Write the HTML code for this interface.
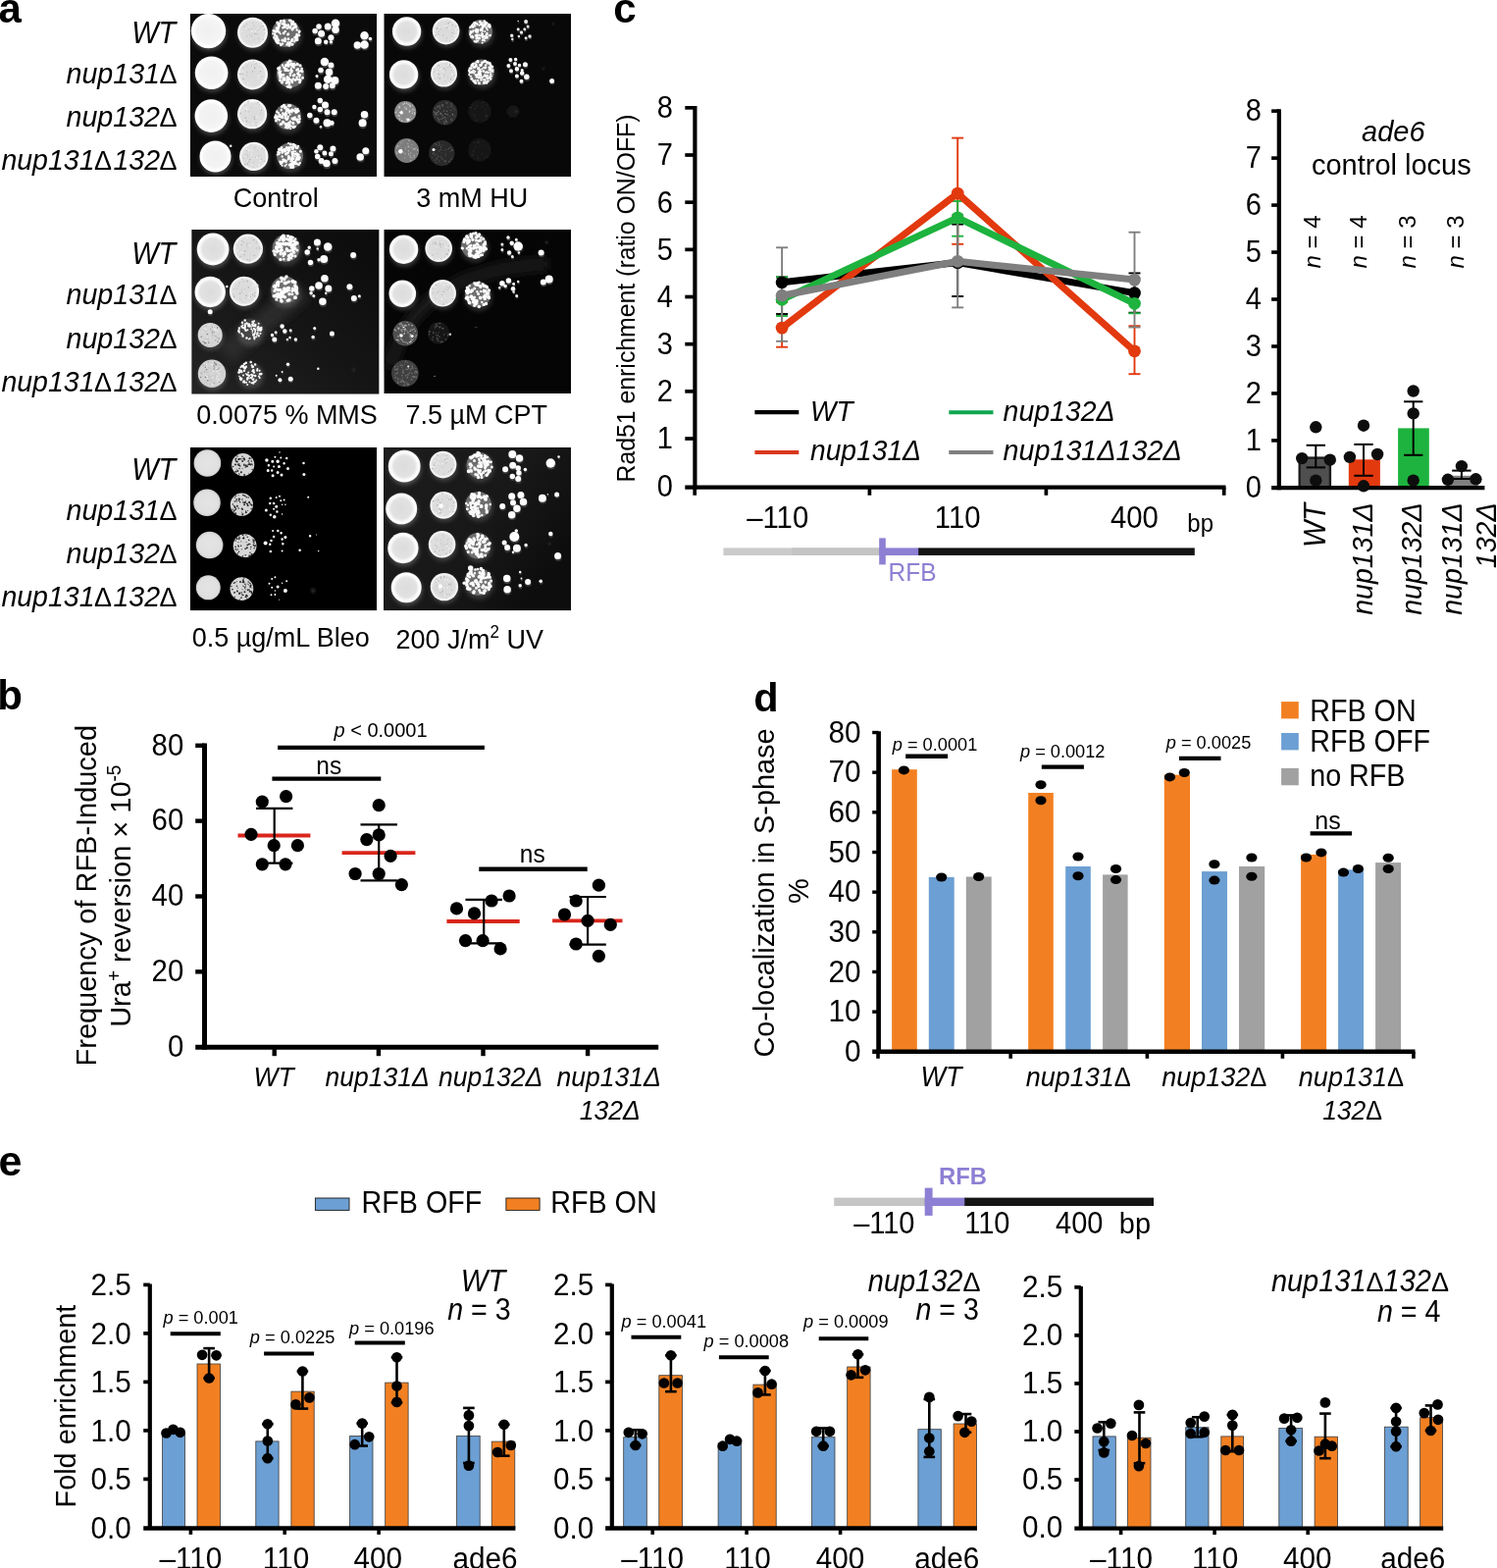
<!DOCTYPE html>
<html lang="en"><head><meta charset="utf-8"><title>Figure</title>
<style>html,body{margin:0;padding:0;background:#fff}svg{display:block}text{font-family:"Liberation Sans",sans-serif}</style></head>
<body>
<svg width="1526" height="1598" viewBox="0 0 1526 1598">
<defs><filter id="bl05" x="-20%" y="-20%" width="140%" height="140%"><feGaussianBlur stdDeviation="0.5"/></filter><filter id="bl1" x="-30%" y="-30%" width="160%" height="160%"><feGaussianBlur stdDeviation="0.9"/></filter><filter id="bl2" x="-50%" y="-50%" width="200%" height="200%"><feGaussianBlur stdDeviation="2"/></filter><filter id="bl4" x="-50%" y="-50%" width="200%" height="200%"><feGaussianBlur stdDeviation="5"/></filter><filter id="bl07" x="-30%" y="-30%" width="160%" height="160%"><feGaussianBlur stdDeviation="0.7"/></filter><radialGradient id="gsolid"><stop offset="0" stop-color="#f0f0f0"/><stop offset="0.7" stop-color="#f4f4f4"/><stop offset="0.9" stop-color="#ffffff"/><stop offset="1" stop-color="#ffffff"/></radialGradient><radialGradient id="gsolid2"><stop offset="0" stop-color="#dcdcdc"/><stop offset="0.65" stop-color="#e2e2e2"/><stop offset="0.88" stop-color="#ffffff"/><stop offset="1" stop-color="#f4f4f4"/></radialGradient><radialGradient id="gsolid3"><stop offset="0" stop-color="#e4e4e4"/><stop offset="0.8" stop-color="#e0e0e0"/><stop offset="1" stop-color="#d0d0d0"/></radialGradient><radialGradient id="glawn"><stop offset="0" stop-color="#dadada"/><stop offset="0.78" stop-color="#dedede"/><stop offset="0.92" stop-color="#f8f8f8"/><stop offset="1" stop-color="#ececec"/></radialGradient></defs>
<clipPath id="clip193_13"><rect x="193.7" y="13.9" width="190.3" height="166.1"/></clipPath>
<filter id="fclip193_13" filterUnits="userSpaceOnUse" x="191.7" y="11.9" width="194.3" height="170.1"><feGaussianBlur stdDeviation="0.55"/></filter>
<g clip-path="url(#clip193_13)">
<rect x="193.7" y="13.9" width="190.3" height="166.1" fill="#0b0b0b" />
<g filter="url(#fclip193_13)">
<circle cx="213.3" cy="34.5" r="17.7" fill="#fff" opacity="0.22" filter="url(#bl2)"/>
<circle cx="212.5" cy="31.6" r="17.7" fill="url(#gsolid)" opacity="1"/>
<circle cx="258.3" cy="36.2" r="15.5" fill="#fff" opacity="0.18" filter="url(#bl2)"/>
<g><circle cx="257.5" cy="33.3" r="15.5" fill="url(#glawn)"/>
<path d="M258.0 23.6h0M269.6 30.1h0M269.0 30.7h0M264.1 39.2h0M256.4 36.9h0M256.8 29.8h0M251.4 24.6h0M262.8 30.3h0M251.7 36.9h0" stroke="#b0b0b0" stroke-width="1" stroke-linecap="round" fill="none"/>
<path d="M253.5 29.7h0M259.9 34.3h0M249.2 27.1h0M267.8 26.6h0" stroke="#b0b0b0" stroke-width="1.5" stroke-linecap="round" fill="none"/>
<path d="M247.8 36.3h0M253.1 29.5h0M246.7 32.0h0M258.4 24.8h0M253.9 26.3h0M262.0 42.5h0M256.4 32.0h0M258.3 44.7h0" stroke="#f6f6f6" stroke-width="1" stroke-linecap="round" fill="none"/>
<path d="M250.4 28.5h0M267.0 38.9h0M260.3 32.0h0M257.1 32.0h0M269.4 32.2h0M262.2 29.2h0M244.7 37.2h0" stroke="#f6f6f6" stroke-width="1.5" stroke-linecap="round" fill="none"/>
<path d="M261.1 28.6h0M270.0 33.0h0M254.6 35.5h0M266.3 23.2h0M259.1 40.1h0M263.1 39.7h0M263.4 42.4h0M269.7 29.4h0M265.4 28.0h0" stroke="#c0c0c0" stroke-width="1" stroke-linecap="round" fill="none"/>
<path d="M267.8 39.9h0M258.9 25.7h0M261.8 34.6h0" stroke="#c0c0c0" stroke-width="1.5" stroke-linecap="round" fill="none"/>
</g>
<circle cx="292.4" cy="36.5" r="15.5" fill="#fff" opacity="0.15" filter="url(#bl2)"/>
<g><circle cx="291.6" cy="33.6" r="14.4" fill="#6e6e6e" opacity="1"/>
<path d="M284.4 41.3h0M293.2 35.6h0M282.1 28.2h0M302.0 39.6h0M297.8 30.2h0M287.1 45.1h0M297.7 40.7h0M294.8 27.6h0M285.8 34.5h0M296.6 27.1h0M303.0 38.5h0M285.3 44.2h0M278.0 34.2h0M280.0 34.2h0M300.0 42.5h0M301.0 40.9h0M282.9 38.8h0M304.7 33.5h0" stroke="#fbfbfb" stroke-width="2" stroke-linecap="round" fill="none"/>
<path d="M302.6 35.1h0M295.1 20.8h0M281.7 28.7h0M283.8 27.9h0M288.0 44.5h0M279.3 38.3h0M288.4 28.2h0M283.6 40.6h0M290.6 39.2h0M290.6 40.0h0M284.7 26.6h0M298.9 21.9h0M302.1 36.8h0M302.7 30.6h0M280.0 35.6h0M280.6 36.1h0M293.4 43.5h0M290.1 22.6h0M297.4 24.9h0M281.2 32.0h0M305.1 36.0h0M298.0 30.2h0M299.4 28.0h0M284.6 33.1h0M282.5 31.8h0M296.5 21.3h0M286.3 45.9h0M292.4 45.4h0M302.0 40.9h0M292.8 28.8h0M290.8 31.9h0" stroke="#fbfbfb" stroke-width="2.5" stroke-linecap="round" fill="none"/>
<path d="M285.2 23.9h0M300.7 38.3h0M301.2 26.6h0M286.3 21.5h0M280.8 39.7h0M282.7 22.9h0M290.4 25.0h0M283.5 29.1h0M288.4 24.3h0M298.0 45.2h0M296.2 21.1h0M298.0 41.0h0M293.8 34.7h0M302.9 36.6h0M283.9 25.4h0M290.4 41.7h0M280.8 32.2h0M303.0 40.6h0M298.0 40.4h0M298.8 29.0h0M289.4 21.2h0M305.2 31.9h0M282.0 37.3h0M289.2 33.8h0M297.5 41.6h0M281.9 31.4h0M281.5 40.9h0M298.0 40.2h0M293.9 39.8h0M287.9 41.1h0M294.7 44.2h0M279.0 31.2h0M295.7 28.3h0" stroke="#fbfbfb" stroke-width="3" stroke-linecap="round" fill="none"/>
<path d="M283.1 43.6h0M301.4 27.4h0M290.6 25.8h0M298.4 24.0h0M281.9 41.3h0M300.6 25.0h0M290.3 27.3h0M293.6 26.0h0M297.8 23.8h0M282.2 42.3h0M294.9 46.0h0M282.9 31.4h0M295.5 43.8h0" stroke="#fbfbfb" stroke-width="3.5" stroke-linecap="round" fill="none"/>
</g>
<g opacity="1">
<path d="M337.8 44.3h0" stroke="#3a3a3a" stroke-width="4" stroke-linecap="round" fill="none"/>
<path d="M332.6 44.3h0" stroke="#3a3a3a" stroke-width="4.5" stroke-linecap="round" fill="none"/>
<path d="M325.4 28.6h0M321.5 33.2h0" stroke="#3a3a3a" stroke-width="6" stroke-linecap="round" fill="none"/>
<path d="M337.8 39.8h0" stroke="#3a3a3a" stroke-width="6.5" stroke-linecap="round" fill="none"/>
<path d="M334.6 28.6h0M328.0 35.8h0M324.7 43.4h0" stroke="#3a3a3a" stroke-width="7.5" stroke-linecap="round" fill="none"/>
<path d="M342.4 31.9h0" stroke="#3a3a3a" stroke-width="8" stroke-linecap="round" fill="none"/>
<path d="M342.4 25.3h0" stroke="#3a3a3a" stroke-width="9" stroke-linecap="round" fill="none"/>
<path d="M337.4 42.8h0" stroke="#fdfdfd" stroke-width="3.5" stroke-linecap="round" fill="none"/>
<path d="M332.2 42.8h0" stroke="#fdfdfd" stroke-width="4.5" stroke-linecap="round" fill="none"/>
<path d="M325.0 27.0h0M321.1 31.6h0" stroke="#fdfdfd" stroke-width="5.5" stroke-linecap="round" fill="none"/>
<path d="M337.4 38.2h0" stroke="#fdfdfd" stroke-width="6" stroke-linecap="round" fill="none"/>
<path d="M334.2 27.0h0M327.6 34.2h0M324.3 41.8h0" stroke="#fdfdfd" stroke-width="7" stroke-linecap="round" fill="none"/>
<path d="M342.0 30.3h0" stroke="#fdfdfd" stroke-width="7.5" stroke-linecap="round" fill="none"/>
<path d="M342.0 23.8h0" stroke="#fdfdfd" stroke-width="8.5" stroke-linecap="round" fill="none"/>
</g>
<g opacity="1">
<path d="M377.8 41.1h0" stroke="#3a3a3a" stroke-width="4" stroke-linecap="round" fill="none"/>
<path d="M364.7 47.6h0" stroke="#3a3a3a" stroke-width="8" stroke-linecap="round" fill="none"/>
<path d="M371.9 37.8h0M371.9 47.0h0" stroke="#3a3a3a" stroke-width="9" stroke-linecap="round" fill="none"/>
<path d="M377.4 39.5h0" stroke="#fdfdfd" stroke-width="3.5" stroke-linecap="round" fill="none"/>
<path d="M364.3 46.0h0" stroke="#fdfdfd" stroke-width="7.5" stroke-linecap="round" fill="none"/>
<path d="M371.5 36.2h0M371.5 45.4h0" stroke="#fdfdfd" stroke-width="8.5" stroke-linecap="round" fill="none"/>
</g>
<circle cx="216.3" cy="77.1" r="16.8" fill="#fff" opacity="0.22" filter="url(#bl2)"/>
<circle cx="215.6" cy="74.2" r="16.8" fill="url(#gsolid)" opacity="1"/>
<circle cx="258.3" cy="78.8" r="15.5" fill="#fff" opacity="0.18" filter="url(#bl2)"/>
<g><circle cx="257.5" cy="75.9" r="15.5" fill="url(#glawn)"/>
<path d="M251.6 76.6h0M259.7 68.8h0M258.5 62.5h0M247.8 69.1h0" stroke="#b0b0b0" stroke-width="1" stroke-linecap="round" fill="none"/>
<path d="M247.9 80.4h0M256.9 67.3h0M259.8 69.4h0M247.9 75.0h0M265.3 72.7h0M257.6 73.0h0" stroke="#b0b0b0" stroke-width="1.5" stroke-linecap="round" fill="none"/>
<path d="M252.1 64.1h0M263.6 65.3h0M269.8 81.0h0M264.5 80.8h0M263.4 77.5h0M259.6 63.8h0M255.6 89.1h0M262.7 80.1h0M263.2 77.8h0M257.1 83.1h0M248.2 74.1h0M255.1 87.2h0M270.4 80.1h0M264.9 70.9h0" stroke="#f6f6f6" stroke-width="1" stroke-linecap="round" fill="none"/>
<path d="M267.5 82.7h0M252.7 84.7h0M247.3 73.2h0M257.7 67.4h0" stroke="#f6f6f6" stroke-width="1.5" stroke-linecap="round" fill="none"/>
<path d="M264.8 64.5h0M258.3 67.3h0M250.8 84.5h0M252.0 67.3h0M264.8 81.2h0M248.8 80.6h0M259.0 65.6h0" stroke="#c0c0c0" stroke-width="1" stroke-linecap="round" fill="none"/>
<path d="M245.7 75.5h0M267.3 78.3h0M261.1 65.1h0M252.1 73.4h0M244.1 75.3h0" stroke="#c0c0c0" stroke-width="1.5" stroke-linecap="round" fill="none"/>
</g>
<circle cx="296.7" cy="78.2" r="15.1" fill="#fff" opacity="0.15" filter="url(#bl2)"/>
<g><circle cx="295.9" cy="75.3" r="14.0" fill="#6e6e6e" opacity="1"/>
<path d="M300.2 65.6h0M305.2 78.4h0M297.8 73.4h0M303.9 81.3h0M297.9 72.1h0M301.2 66.6h0M296.8 71.4h0M294.9 62.4h0M288.1 79.4h0M292.4 88.2h0M296.8 69.6h0M291.7 71.9h0M294.9 85.1h0M302.9 65.1h0M294.5 86.7h0M286.4 72.6h0" stroke="#fbfbfb" stroke-width="2" stroke-linecap="round" fill="none"/>
<path d="M289.4 68.8h0M285.5 79.2h0M295.1 85.6h0M307.0 71.9h0M290.1 69.5h0M288.0 66.5h0M290.3 69.2h0M297.9 83.9h0M295.6 62.3h0M284.7 76.3h0M296.5 71.6h0M293.9 72.0h0M294.1 64.1h0M293.3 82.5h0M307.7 70.1h0M290.6 81.5h0M289.2 80.4h0M296.6 62.6h0M291.9 69.9h0M295.2 61.8h0M298.9 80.6h0M300.3 76.3h0M290.6 71.7h0M305.0 72.8h0M288.5 81.8h0M296.0 76.7h0M285.2 68.8h0M306.3 81.9h0M299.6 68.7h0M302.6 78.7h0M302.6 80.5h0" stroke="#fbfbfb" stroke-width="2.5" stroke-linecap="round" fill="none"/>
<path d="M305.6 83.7h0M291.9 65.9h0M294.7 84.0h0M305.4 81.0h0M297.8 83.0h0M299.8 65.3h0M298.9 67.6h0M303.6 74.7h0M293.0 78.4h0M299.3 77.1h0M301.0 81.6h0M292.8 78.7h0M303.6 70.6h0M284.7 70.5h0M305.5 76.6h0M283.7 69.8h0M297.0 72.0h0M292.5 71.4h0M296.8 65.5h0M291.4 66.8h0M285.5 81.8h0M303.3 65.6h0M306.1 66.7h0M284.6 73.6h0M294.2 79.6h0M297.2 81.7h0M294.8 80.8h0M292.1 84.6h0M289.0 76.2h0M302.7 71.2h0M308.5 79.3h0M293.8 88.6h0M287.5 84.0h0M292.9 81.5h0M296.0 74.8h0M294.1 67.3h0M308.0 72.7h0M304.2 75.9h0" stroke="#fbfbfb" stroke-width="3" stroke-linecap="round" fill="none"/>
<path d="M294.3 66.1h0M297.6 65.5h0M296.0 88.7h0M284.1 69.8h0M289.7 80.1h0M293.8 64.0h0M285.9 77.9h0M285.1 74.2h0M286.7 76.4h0M298.0 66.8h0" stroke="#fbfbfb" stroke-width="3.5" stroke-linecap="round" fill="none"/>
</g>
<g opacity="1">
<path d="M323.4 79.1h0" stroke="#3a3a3a" stroke-width="3" stroke-linecap="round" fill="none"/>
<path d="M327.4 73.2h0" stroke="#3a3a3a" stroke-width="6" stroke-linecap="round" fill="none"/>
<path d="M337.8 67.9h0M332.6 89.6h0M339.1 88.9h0" stroke="#3a3a3a" stroke-width="6.5" stroke-linecap="round" fill="none"/>
<path d="M324.7 88.9h0" stroke="#3a3a3a" stroke-width="7.5" stroke-linecap="round" fill="none"/>
<path d="M335.9 75.1h0" stroke="#3a3a3a" stroke-width="8" stroke-linecap="round" fill="none"/>
<path d="M341.8 83.7h0" stroke="#3a3a3a" stroke-width="8.5" stroke-linecap="round" fill="none"/>
<path d="M331.3 64.7h0M334.6 82.3h0" stroke="#3a3a3a" stroke-width="9" stroke-linecap="round" fill="none"/>
<path d="M323.0 77.5h0" stroke="#fdfdfd" stroke-width="3" stroke-linecap="round" fill="none"/>
<path d="M327.0 71.6h0" stroke="#fdfdfd" stroke-width="5.5" stroke-linecap="round" fill="none"/>
<path d="M337.4 66.4h0M332.2 88.0h0M338.8 87.3h0" stroke="#fdfdfd" stroke-width="6" stroke-linecap="round" fill="none"/>
<path d="M324.3 87.3h0" stroke="#fdfdfd" stroke-width="7" stroke-linecap="round" fill="none"/>
<path d="M335.5 73.6h0" stroke="#fdfdfd" stroke-width="7.5" stroke-linecap="round" fill="none"/>
<path d="M341.4 82.1h0" stroke="#fdfdfd" stroke-width="8" stroke-linecap="round" fill="none"/>
<path d="M330.9 63.1h0M334.2 80.8h0" stroke="#fdfdfd" stroke-width="8.5" stroke-linecap="round" fill="none"/>
</g>
<circle cx="216.1" cy="121.0" r="16.8" fill="#fff" opacity="0.22" filter="url(#bl2)"/>
<circle cx="215.3" cy="118.1" r="16.8" fill="url(#gsolid)" opacity="1"/>
<circle cx="257.9" cy="119.0" r="15.1" fill="#fff" opacity="0.18" filter="url(#bl2)"/>
<g><circle cx="257.1" cy="116.2" r="15.1" fill="url(#glawn)"/>
<path d="M253.8 114.0h0M265.8 115.5h0M258.3 119.8h0M251.3 123.1h0M261.0 125.2h0M249.7 107.2h0M250.7 120.5h0" stroke="#b0b0b0" stroke-width="1" stroke-linecap="round" fill="none"/>
<path d="M259.6 121.4h0M262.8 104.7h0M253.0 103.7h0M245.3 115.5h0M251.5 123.7h0M266.3 112.2h0M250.4 120.0h0" stroke="#b0b0b0" stroke-width="1.5" stroke-linecap="round" fill="none"/>
<path d="M257.1 103.2h0M251.5 109.3h0M258.4 104.2h0M255.7 115.0h0M263.4 125.9h0M247.9 112.5h0M252.2 117.2h0" stroke="#f6f6f6" stroke-width="1" stroke-linecap="round" fill="none"/>
<path d="M257.9 126.1h0M251.8 111.4h0M262.0 119.2h0M256.8 103.6h0M265.7 124.6h0M249.5 124.9h0M257.6 104.0h0M255.0 104.6h0M249.8 110.8h0M265.6 111.0h0" stroke="#f6f6f6" stroke-width="1.5" stroke-linecap="round" fill="none"/>
<path d="M264.6 106.6h0M250.9 127.5h0M266.3 111.2h0M254.0 124.4h0M256.3 109.7h0M247.5 122.9h0" stroke="#c0c0c0" stroke-width="1" stroke-linecap="round" fill="none"/>
<path d="M259.7 119.3h0M261.2 128.3h0M250.1 113.0h0" stroke="#c0c0c0" stroke-width="1.5" stroke-linecap="round" fill="none"/>
</g>
<circle cx="294.3" cy="121.7" r="14.4" fill="#fff" opacity="0.15" filter="url(#bl2)"/>
<g><circle cx="293.5" cy="118.8" r="13.4" fill="#6e6e6e" opacity="1"/>
<path d="M285.4 118.6h0M282.3 113.8h0M291.3 125.8h0M287.4 126.6h0M295.7 116.8h0M301.0 110.8h0M293.5 130.4h0M303.8 111.0h0M281.0 117.2h0M295.7 123.4h0M292.6 130.3h0M295.2 112.7h0M296.6 124.6h0M296.2 131.3h0M290.3 120.4h0" stroke="#fbfbfb" stroke-width="2" stroke-linecap="round" fill="none"/>
<path d="M298.6 112.2h0M282.2 113.8h0M297.7 120.7h0M290.3 109.9h0M290.7 126.4h0M287.4 108.4h0M293.8 118.7h0M302.8 111.6h0M305.6 121.2h0M287.7 119.8h0M304.4 113.0h0M297.6 112.2h0M296.6 128.6h0M289.4 106.9h0M298.9 121.7h0M292.1 113.2h0M288.3 115.5h0M303.0 114.1h0M284.8 122.2h0M303.2 121.6h0M291.1 129.8h0M291.8 128.2h0M282.6 121.5h0M301.8 114.8h0M283.8 115.2h0M287.3 109.2h0M296.2 107.5h0M285.0 119.0h0M292.5 121.3h0M286.7 112.3h0M301.2 121.9h0M298.7 125.1h0M291.6 117.1h0M291.7 116.2h0M300.2 113.0h0M295.2 126.2h0M288.5 117.2h0M295.5 127.4h0M297.4 114.3h0M303.2 123.5h0M293.3 120.5h0M292.1 112.2h0M300.7 129.1h0M300.8 119.7h0M304.1 124.9h0" stroke="#fbfbfb" stroke-width="2.5" stroke-linecap="round" fill="none"/>
<path d="M280.7 119.9h0M292.2 121.5h0M302.5 112.3h0M293.6 111.6h0M295.6 113.0h0M294.7 114.4h0M294.5 129.3h0M286.2 126.4h0M281.6 118.4h0M294.5 113.6h0M294.3 127.4h0M287.4 119.2h0M291.1 118.8h0M291.4 109.2h0M301.7 113.4h0M290.3 116.7h0M289.2 107.8h0M298.9 125.7h0M299.7 120.3h0M304.9 118.5h0M294.4 125.3h0M289.4 107.4h0M298.0 112.1h0M281.3 123.0h0" stroke="#fbfbfb" stroke-width="3" stroke-linecap="round" fill="none"/>
<path d="M285.1 117.4h0M304.8 123.9h0M281.0 118.9h0M299.3 129.5h0M292.4 111.6h0M291.1 115.8h0M282.2 119.5h0M294.0 127.6h0M288.6 124.5h0M292.9 126.9h0M294.6 107.8h0" stroke="#fbfbfb" stroke-width="3.5" stroke-linecap="round" fill="none"/>
</g>
<g opacity="1">
<path d="M327.4 130.8h0" stroke="#3a3a3a" stroke-width="2.5" stroke-linecap="round" fill="none"/>
<path d="M320.8 110.5h0" stroke="#3a3a3a" stroke-width="4.5" stroke-linecap="round" fill="none"/>
<path d="M338.5 126.9h0" stroke="#3a3a3a" stroke-width="5" stroke-linecap="round" fill="none"/>
<path d="M326.7 104.0h0M326.7 113.1h0M316.2 119.0h0" stroke="#3a3a3a" stroke-width="6" stroke-linecap="round" fill="none"/>
<path d="M333.9 115.8h0M341.1 115.8h0M322.8 124.3h0" stroke="#3a3a3a" stroke-width="6.5" stroke-linecap="round" fill="none"/>
<path d="M331.9 108.6h0" stroke="#3a3a3a" stroke-width="7.5" stroke-linecap="round" fill="none"/>
<path d="M333.9 126.9h0" stroke="#3a3a3a" stroke-width="8.5" stroke-linecap="round" fill="none"/>
<path d="M327.0 129.3h0" stroke="#fdfdfd" stroke-width="2.5" stroke-linecap="round" fill="none"/>
<path d="M320.4 109.0h0" stroke="#fdfdfd" stroke-width="4.5" stroke-linecap="round" fill="none"/>
<path d="M338.1 125.3h0" stroke="#fdfdfd" stroke-width="5" stroke-linecap="round" fill="none"/>
<path d="M326.3 102.4h0M326.3 111.6h0M315.8 117.5h0" stroke="#fdfdfd" stroke-width="5.5" stroke-linecap="round" fill="none"/>
<path d="M333.5 114.2h0M340.7 114.2h0M322.4 122.7h0" stroke="#fdfdfd" stroke-width="6" stroke-linecap="round" fill="none"/>
<path d="M331.5 107.0h0" stroke="#fdfdfd" stroke-width="7" stroke-linecap="round" fill="none"/>
<path d="M333.5 125.3h0" stroke="#fdfdfd" stroke-width="8" stroke-linecap="round" fill="none"/>
</g>
<g opacity="1">
<path d="M371.9 118.4h0" stroke="#3a3a3a" stroke-width="8" stroke-linecap="round" fill="none"/>
<path d="M369.9 126.9h0" stroke="#3a3a3a" stroke-width="8.5" stroke-linecap="round" fill="none"/>
<path d="M371.5 116.8h0" stroke="#fdfdfd" stroke-width="7.5" stroke-linecap="round" fill="none"/>
<path d="M369.6 125.3h0" stroke="#fdfdfd" stroke-width="8" stroke-linecap="round" fill="none"/>
</g>
<circle cx="220.3" cy="162.3" r="16.0" fill="#fff" opacity="0.22" filter="url(#bl2)"/>
<circle cx="219.5" cy="159.4" r="16.0" fill="url(#gsolid)" opacity="1"/>
<g opacity="1">
<path d="M235.2 148.7h0" stroke="#fdfdfd" stroke-width="2.5" stroke-linecap="round" fill="none"/>
</g>
<circle cx="259.6" cy="162.3" r="14.7" fill="#fff" opacity="0.18" filter="url(#bl2)"/>
<g><circle cx="258.8" cy="159.4" r="14.7" fill="url(#glawn)"/>
<path d="M260.0 150.2h0M251.8 153.7h0M256.8 166.7h0M269.4 153.1h0M266.4 162.6h0M263.8 158.7h0M251.0 157.2h0M252.7 158.1h0" stroke="#b0b0b0" stroke-width="1" stroke-linecap="round" fill="none"/>
<path d="M252.4 166.9h0M249.7 167.7h0M265.4 150.2h0M254.7 162.5h0" stroke="#b0b0b0" stroke-width="1.5" stroke-linecap="round" fill="none"/>
<path d="M256.9 158.1h0M252.2 163.9h0M252.5 148.5h0M256.2 156.5h0M249.8 159.8h0M257.0 153.6h0M258.8 161.4h0M256.1 153.2h0M247.9 155.0h0" stroke="#f6f6f6" stroke-width="1" stroke-linecap="round" fill="none"/>
<path d="M265.3 150.3h0M263.4 147.5h0M265.1 163.6h0M253.8 153.2h0M251.7 152.1h0M261.9 160.7h0M264.3 168.0h0M256.6 167.4h0" stroke="#f6f6f6" stroke-width="1.5" stroke-linecap="round" fill="none"/>
<path d="M258.1 170.4h0M259.7 151.8h0M252.3 160.3h0M262.8 153.6h0M258.5 165.5h0M260.2 160.5h0M255.4 147.5h0" stroke="#c0c0c0" stroke-width="1" stroke-linecap="round" fill="none"/>
<path d="M248.1 160.9h0M267.4 151.3h0M269.7 164.3h0M253.9 164.4h0" stroke="#c0c0c0" stroke-width="1.5" stroke-linecap="round" fill="none"/>
</g>
<circle cx="296.3" cy="161.6" r="14.4" fill="#fff" opacity="0.15" filter="url(#bl2)"/>
<g><circle cx="295.5" cy="158.8" r="13.4" fill="#6e6e6e" opacity="1"/>
<path d="M298.6 160.1h0M296.8 149.8h0M303.6 149.7h0M296.2 164.3h0M294.0 145.9h0M284.4 155.5h0M295.4 167.8h0M295.3 161.7h0M301.1 154.2h0M301.1 149.2h0M300.8 159.6h0M292.1 167.4h0M298.7 171.1h0M285.3 155.7h0M290.6 168.9h0M287.5 168.8h0M282.6 157.8h0M300.0 165.2h0" stroke="#fbfbfb" stroke-width="2" stroke-linecap="round" fill="none"/>
<path d="M294.3 154.6h0M286.9 165.6h0M293.9 151.5h0M302.7 166.8h0M297.5 160.6h0M287.6 159.6h0M299.2 147.5h0M301.9 166.8h0M296.8 167.7h0M299.1 170.3h0M285.5 164.7h0M304.0 149.0h0M305.7 166.2h0M305.3 160.2h0M293.8 162.3h0M299.4 161.8h0M294.4 159.3h0M302.5 156.4h0M301.9 150.7h0M288.5 162.7h0M287.6 152.9h0M305.6 160.8h0M304.5 168.0h0M303.0 150.8h0M299.3 154.5h0M297.6 149.9h0M297.7 154.9h0M294.0 159.4h0" stroke="#fbfbfb" stroke-width="2.5" stroke-linecap="round" fill="none"/>
<path d="M295.3 168.0h0M296.2 146.9h0M287.8 155.3h0M287.0 150.5h0M301.1 164.4h0M298.4 158.6h0M294.5 160.6h0M287.6 165.2h0M303.5 157.8h0M294.7 160.4h0M304.5 162.2h0M302.4 162.3h0M284.0 156.8h0M294.8 150.6h0M289.5 163.8h0M298.4 151.5h0M295.2 152.8h0M289.5 163.0h0M301.1 157.0h0M297.1 166.9h0M298.5 164.9h0M290.2 152.8h0M297.9 168.7h0M291.5 156.9h0M292.3 150.6h0M295.0 151.5h0M303.7 158.2h0M296.7 170.6h0M306.4 154.2h0M298.6 150.6h0M293.3 156.0h0M299.2 147.3h0M283.7 155.0h0M302.9 160.5h0M286.4 166.5h0M298.3 168.7h0M294.7 153.1h0" stroke="#fbfbfb" stroke-width="3" stroke-linecap="round" fill="none"/>
<path d="M284.7 152.3h0M290.0 152.7h0M297.4 162.5h0M299.2 167.0h0M290.6 154.0h0M300.8 148.7h0M293.7 152.5h0M291.3 164.2h0M304.0 158.1h0M287.2 153.2h0M300.6 166.0h0M298.3 156.7h0" stroke="#fbfbfb" stroke-width="3.5" stroke-linecap="round" fill="none"/>
</g>
<g opacity="1">
<path d="M322.8 155.7h0" stroke="#3a3a3a" stroke-width="4.5" stroke-linecap="round" fill="none"/>
<path d="M331.3 157.7h0M337.8 158.4h0" stroke="#3a3a3a" stroke-width="5" stroke-linecap="round" fill="none"/>
<path d="M324.1 161.0h0" stroke="#3a3a3a" stroke-width="6" stroke-linecap="round" fill="none"/>
<path d="M326.7 151.8h0M339.8 153.1h0M328.0 165.6h0M341.8 165.6h0" stroke="#3a3a3a" stroke-width="6.5" stroke-linecap="round" fill="none"/>
<path d="M333.3 168.2h0" stroke="#3a3a3a" stroke-width="8" stroke-linecap="round" fill="none"/>
<path d="M322.4 154.2h0" stroke="#fdfdfd" stroke-width="4.5" stroke-linecap="round" fill="none"/>
<path d="M330.9 156.1h0M337.4 156.8h0" stroke="#fdfdfd" stroke-width="5" stroke-linecap="round" fill="none"/>
<path d="M323.7 159.4h0" stroke="#fdfdfd" stroke-width="5.5" stroke-linecap="round" fill="none"/>
<path d="M326.3 150.2h0M339.4 151.5h0M327.6 164.0h0M341.4 164.0h0" stroke="#fdfdfd" stroke-width="6" stroke-linecap="round" fill="none"/>
<path d="M332.9 166.6h0" stroke="#fdfdfd" stroke-width="7.5" stroke-linecap="round" fill="none"/>
</g>
<g opacity="1">
<path d="M373.2 155.3h0" stroke="#3a3a3a" stroke-width="7.5" stroke-linecap="round" fill="none"/>
<path d="M367.6 161.6h0" stroke="#3a3a3a" stroke-width="8" stroke-linecap="round" fill="none"/>
<path d="M372.8 153.8h0" stroke="#fdfdfd" stroke-width="7" stroke-linecap="round" fill="none"/>
<path d="M367.2 160.1h0" stroke="#fdfdfd" stroke-width="7.5" stroke-linecap="round" fill="none"/>
</g>
</g></g>
<clipPath id="clip391_13"><rect x="391.3" y="13.9" width="190.7" height="166.1"/></clipPath>
<filter id="fclip391_13" filterUnits="userSpaceOnUse" x="389.3" y="11.9" width="194.7" height="170.1"><feGaussianBlur stdDeviation="0.55"/></filter>
<g clip-path="url(#clip391_13)">
<rect x="391.3" y="13.9" width="190.7" height="166.1" fill="#080808" />
<g filter="url(#fclip391_13)">
<circle cx="415.4" cy="34.9" r="14.7" fill="#fff" opacity="0.22" filter="url(#bl2)"/>
<circle cx="414.6" cy="32.0" r="14.7" fill="url(#gsolid2)" opacity="1"/>
<circle cx="455.4" cy="34.5" r="13.8" fill="#fff" opacity="0.18" filter="url(#bl2)"/>
<g><circle cx="454.6" cy="31.6" r="13.8" fill="url(#glawn)"/>
<path d="M460.6 36.7h0M446.5 28.7h0M462.4 34.3h0M448.7 29.4h0" stroke="#b0b0b0" stroke-width="1" stroke-linecap="round" fill="none"/>
<path d="M455.6 28.2h0M445.2 29.1h0M446.7 35.3h0M457.0 23.4h0" stroke="#b0b0b0" stroke-width="1.5" stroke-linecap="round" fill="none"/>
<path d="M445.7 39.8h0M464.1 31.7h0M459.6 26.0h0M444.9 34.4h0M453.4 42.2h0" stroke="#f6f6f6" stroke-width="1" stroke-linecap="round" fill="none"/>
<path d="M463.5 36.2h0M451.6 26.8h0M446.4 36.2h0M464.3 30.2h0M455.1 26.5h0M458.4 28.6h0M452.3 20.1h0M446.5 36.2h0M448.3 28.2h0" stroke="#f6f6f6" stroke-width="1.5" stroke-linecap="round" fill="none"/>
<path d="M444.9 33.2h0M458.3 22.3h0M459.9 33.1h0M449.7 30.0h0M462.8 31.0h0M458.5 41.3h0M466.6 30.4h0M450.9 27.2h0M444.4 35.3h0M454.3 41.6h0" stroke="#c0c0c0" stroke-width="1" stroke-linecap="round" fill="none"/>
<path d="M451.6 36.3h0M461.3 25.5h0M455.3 38.9h0M446.8 35.1h0M464.8 26.6h0M447.4 32.1h0M461.2 33.6h0M443.6 36.4h0" stroke="#c0c0c0" stroke-width="1.5" stroke-linecap="round" fill="none"/>
</g>
<circle cx="490.6" cy="35.2" r="13.1" fill="#fff" opacity="0.15" filter="url(#bl2)"/>
<g><circle cx="489.8" cy="32.3" r="12.2" fill="#6e6e6e" opacity="1"/>
<path d="M491.0 34.0h0M496.7 35.6h0M487.1 30.7h0M488.6 25.8h0M479.1 35.2h0M491.7 43.7h0M495.5 24.3h0M482.1 31.2h0M496.8 37.8h0M497.3 26.6h0M479.4 33.8h0M482.1 32.5h0M482.0 37.4h0M493.4 37.1h0M481.3 36.7h0M491.8 28.9h0M495.4 25.5h0M491.8 27.4h0M491.1 23.7h0M491.0 35.8h0M496.5 23.4h0M490.8 30.9h0M490.2 25.1h0M496.9 30.6h0M495.9 28.8h0M484.3 26.5h0M482.4 38.3h0M494.3 31.9h0M485.5 32.7h0M485.8 38.6h0M483.7 25.3h0M488.7 39.0h0M481.7 25.0h0M494.1 39.3h0M485.9 42.0h0M498.8 36.3h0M489.2 36.4h0M494.0 41.6h0M487.3 41.6h0M484.1 31.1h0M488.6 35.6h0" stroke="#fbfbfb" stroke-width="2" stroke-linecap="round" fill="none"/>
<path d="M486.3 35.4h0M499.3 27.6h0M486.6 24.7h0M492.0 41.1h0M495.7 35.6h0M485.7 23.8h0M492.3 37.1h0M487.0 32.5h0M485.7 39.5h0M479.9 32.2h0M490.4 29.7h0M490.0 30.7h0M493.9 22.6h0M484.1 23.5h0M491.8 27.6h0M498.2 25.2h0M485.7 42.5h0M495.9 28.5h0M495.0 37.6h0M495.7 23.5h0M491.7 31.4h0M479.4 27.8h0M499.7 36.1h0M491.2 36.2h0M486.5 37.4h0M494.9 24.1h0M496.5 38.4h0M486.8 35.8h0M487.3 30.5h0M498.6 25.0h0M483.8 42.3h0M496.4 34.1h0M495.4 38.3h0M492.8 40.8h0M480.3 33.2h0M493.8 26.7h0M491.9 34.7h0M480.1 33.5h0M485.4 30.0h0M492.0 28.4h0M491.4 23.7h0" stroke="#fbfbfb" stroke-width="2.5" stroke-linecap="round" fill="none"/>
<path d="M492.1 38.0h0M485.3 31.8h0M481.6 37.7h0M490.8 24.1h0M489.3 22.3h0M498.7 27.0h0M493.9 21.7h0M487.9 39.1h0M480.5 37.2h0M483.5 23.5h0M482.3 27.3h0M483.5 23.6h0M481.3 26.5h0M492.4 25.9h0M488.6 39.1h0M499.2 26.0h0M494.2 24.9h0M485.1 36.2h0" stroke="#fbfbfb" stroke-width="3" stroke-linecap="round" fill="none"/>
</g>
<g opacity="1">
<path d="M528.6 23.1h0" stroke="#3a3a3a" stroke-width="1.5" stroke-linecap="round" fill="none"/>
<path d="M529.3 38.4h0M522.7 41.7h0" stroke="#3a3a3a" stroke-width="2.5" stroke-linecap="round" fill="none"/>
<path d="M538.5 28.6h0M535.2 31.2h0M528.6 31.2h0M536.5 40.4h0" stroke="#3a3a3a" stroke-width="3" stroke-linecap="round" fill="none"/>
<path d="M531.9 34.5h0M522.1 37.8h0M540.4 38.4h0" stroke="#3a3a3a" stroke-width="3.5" stroke-linecap="round" fill="none"/>
<path d="M536.5 23.6h0" stroke="#3a3a3a" stroke-width="4" stroke-linecap="round" fill="none"/>
<path d="M528.2 21.5h0" stroke="#e8e8e8" stroke-width="1.5" stroke-linecap="round" fill="none"/>
<path d="M528.9 36.9h0M522.3 40.1h0" stroke="#e8e8e8" stroke-width="2.5" stroke-linecap="round" fill="none"/>
<path d="M538.1 27.0h0M534.8 29.7h0M528.2 29.7h0M536.1 38.8h0" stroke="#e8e8e8" stroke-width="3" stroke-linecap="round" fill="none"/>
<path d="M531.5 32.9h0M521.7 36.2h0M540.0 36.9h0" stroke="#e8e8e8" stroke-width="3.5" stroke-linecap="round" fill="none"/>
<path d="M536.1 22.1h0" stroke="#e8e8e8" stroke-width="4" stroke-linecap="round" fill="none"/>
</g>
<g><circle cx="563.6" cy="24.2" r="1.0" fill="#444" opacity="1" filter="url(#bl1)"/>
</g>
<circle cx="412.4" cy="78.8" r="14.7" fill="#fff" opacity="0.22" filter="url(#bl2)"/>
<circle cx="411.6" cy="75.9" r="14.7" fill="url(#gsolid2)" opacity="1"/>
<circle cx="453.3" cy="78.0" r="13.5" fill="#fff" opacity="0.18" filter="url(#bl2)"/>
<g><circle cx="452.5" cy="75.1" r="13.5" fill="url(#glawn)"/>
<path d="M442.5 70.6h0M454.3 71.6h0M442.6 73.2h0" stroke="#b0b0b0" stroke-width="1" stroke-linecap="round" fill="none"/>
<path d="M459.7 81.0h0M448.3 80.0h0M452.9 69.8h0M458.5 65.5h0M447.2 66.7h0M452.2 77.6h0M447.2 75.8h0" stroke="#b0b0b0" stroke-width="1.5" stroke-linecap="round" fill="none"/>
<path d="M451.4 81.7h0M457.1 65.9h0M449.1 85.7h0" stroke="#f6f6f6" stroke-width="1" stroke-linecap="round" fill="none"/>
<path d="M460.3 71.5h0M460.8 76.3h0M460.9 75.6h0M451.4 72.9h0M457.3 84.8h0M444.7 77.2h0M451.4 77.6h0M457.0 66.5h0M445.2 73.6h0M449.3 70.7h0" stroke="#f6f6f6" stroke-width="1.5" stroke-linecap="round" fill="none"/>
<path d="M456.3 79.0h0M460.0 79.6h0M455.3 63.8h0M455.6 65.4h0M458.7 83.7h0M453.7 82.6h0M448.5 80.2h0M446.7 78.6h0M462.4 81.2h0M442.7 79.7h0M446.9 85.6h0" stroke="#c0c0c0" stroke-width="1" stroke-linecap="round" fill="none"/>
<path d="M456.4 68.9h0M452.6 77.3h0M463.0 76.8h0M459.0 68.4h0M460.2 71.6h0M458.0 67.1h0" stroke="#c0c0c0" stroke-width="1.5" stroke-linecap="round" fill="none"/>
</g>
<circle cx="491.3" cy="76.4" r="14.2" fill="#fff" opacity="0.15" filter="url(#bl2)"/>
<g><circle cx="490.5" cy="73.6" r="13.2" fill="#6e6e6e" opacity="1"/>
<path d="M494.7 82.3h0M497.0 64.8h0M500.0 73.2h0M489.7 72.0h0M491.4 70.3h0M494.7 73.8h0M491.0 65.8h0M480.0 77.8h0M496.1 78.2h0M483.1 74.5h0M500.2 71.5h0M478.6 69.6h0M487.7 79.6h0M484.3 64.8h0M494.4 81.0h0M489.1 66.3h0M492.4 72.5h0M484.3 73.0h0M494.3 77.7h0M478.2 76.3h0M501.8 71.7h0M481.2 67.3h0M495.8 63.2h0M498.4 71.5h0M499.7 77.6h0M485.6 65.7h0M478.5 71.1h0M493.0 81.2h0M493.5 80.9h0M492.3 78.3h0M500.9 77.6h0M485.6 63.2h0M487.1 70.6h0M489.6 79.6h0M490.9 63.6h0M484.7 81.9h0" stroke="#fbfbfb" stroke-width="2" stroke-linecap="round" fill="none"/>
<path d="M496.2 83.8h0M487.2 63.2h0M489.1 71.3h0M500.6 67.5h0M502.3 71.4h0M482.8 68.4h0M490.5 81.5h0M498.6 68.8h0M500.2 75.4h0M478.1 72.0h0M491.6 64.1h0M482.6 71.9h0M496.6 63.8h0M482.8 83.1h0M485.8 78.4h0M486.4 76.5h0M502.2 72.8h0M496.1 73.6h0M500.6 68.2h0M496.9 77.0h0M489.5 75.1h0M491.0 79.2h0M482.5 82.2h0M497.4 63.5h0M493.4 68.9h0M497.6 74.1h0M482.3 65.1h0M500.2 80.6h0M487.1 82.2h0M484.8 76.3h0M479.0 74.1h0M499.9 66.0h0M488.3 78.4h0M496.1 84.6h0M495.0 69.1h0M484.1 84.1h0M495.1 66.6h0M492.9 72.5h0M498.9 69.3h0M493.4 62.8h0M480.6 73.3h0M497.5 82.6h0M493.4 83.7h0" stroke="#fbfbfb" stroke-width="2.5" stroke-linecap="round" fill="none"/>
<path d="M499.2 79.1h0M501.8 68.1h0M499.2 79.0h0M480.8 80.2h0M487.0 62.5h0M484.8 84.5h0M481.2 73.6h0M494.6 62.3h0M488.0 75.7h0M480.2 69.4h0M493.5 84.4h0M489.6 72.7h0M489.8 76.4h0M490.0 66.5h0M496.8 79.8h0M485.3 67.2h0M499.3 64.4h0M487.8 69.2h0M488.2 73.6h0M499.8 70.1h0M494.4 76.7h0M481.0 66.4h0M484.0 68.2h0M488.7 74.7h0M481.9 65.7h0M488.5 84.8h0" stroke="#fbfbfb" stroke-width="3" stroke-linecap="round" fill="none"/>
</g>
<g opacity="1">
<path d="M532.6 73.2h0" stroke="#3a3a3a" stroke-width="3" stroke-linecap="round" fill="none"/>
<path d="M526.0 62.0h0M529.9 67.9h0" stroke="#3a3a3a" stroke-width="3.5" stroke-linecap="round" fill="none"/>
<path d="M520.8 62.7h0M525.4 66.6h0M518.8 68.6h0M521.4 73.8h0M527.3 79.1h0M531.9 84.3h0" stroke="#3a3a3a" stroke-width="4" stroke-linecap="round" fill="none"/>
<path d="M527.3 71.9h0M532.6 76.1h0" stroke="#3a3a3a" stroke-width="4.5" stroke-linecap="round" fill="none"/>
<path d="M535.8 67.3h0" stroke="#3a3a3a" stroke-width="5" stroke-linecap="round" fill="none"/>
<path d="M537.1 79.7h0" stroke="#3a3a3a" stroke-width="6" stroke-linecap="round" fill="none"/>
<path d="M532.2 71.6h0" stroke="#fdfdfd" stroke-width="3" stroke-linecap="round" fill="none"/>
<path d="M525.6 60.5h0M529.5 66.4h0" stroke="#fdfdfd" stroke-width="3.5" stroke-linecap="round" fill="none"/>
<path d="M520.4 61.1h0M525.0 65.0h0M518.4 67.0h0M521.0 72.3h0M526.9 77.5h0M531.5 82.7h0" stroke="#fdfdfd" stroke-width="4" stroke-linecap="round" fill="none"/>
<path d="M526.9 70.3h0M532.2 74.5h0" stroke="#fdfdfd" stroke-width="4.5" stroke-linecap="round" fill="none"/>
<path d="M535.4 65.7h0" stroke="#fdfdfd" stroke-width="5" stroke-linecap="round" fill="none"/>
<path d="M536.8 78.2h0" stroke="#fdfdfd" stroke-width="5.5" stroke-linecap="round" fill="none"/>
</g>
<g><circle cx="553.8" cy="70.0" r="1.0" fill="#444" opacity="1" filter="url(#bl1)"/>
</g>
<g opacity="1">
<path d="M563.0 84.0h0" stroke="#3a3a3a" stroke-width="5" stroke-linecap="round" fill="none"/>
<path d="M562.6 82.5h0" stroke="#fdfdfd" stroke-width="5" stroke-linecap="round" fill="none"/>
</g>
<g><circle cx="413.2" cy="114.2" r="11.1" fill="#8a8a8a" opacity="1"/>
<path d="M420.1 113.1h0M418.6 107.7h0M420.4 107.4h0M413.2 111.6h0M419.0 121.5h0M414.7 111.5h0M409.6 113.0h0M405.6 117.5h0M404.9 111.9h0M414.1 121.9h0M418.6 119.2h0M404.6 113.9h0M407.1 114.7h0M407.7 121.9h0M420.3 111.4h0M409.8 115.8h0M407.1 110.4h0" stroke="#c8c8c8" stroke-width="1" stroke-linecap="round" fill="none"/>
<path d="M403.2 114.8h0M422.6 116.3h0M407.5 120.9h0M414.8 123.7h0M414.4 121.0h0M414.6 105.2h0M409.5 123.2h0M409.8 123.1h0M408.0 114.4h0M418.0 108.7h0M422.5 114.8h0M416.2 106.3h0M417.3 114.2h0M411.1 106.3h0M420.4 115.4h0M414.4 110.6h0M412.5 105.3h0M421.9 111.7h0M417.7 107.3h0M412.8 109.6h0" stroke="#c8c8c8" stroke-width="1.5" stroke-linecap="round" fill="none"/>
<path d="M417.6 113.2h0M407.0 108.9h0M406.8 117.9h0" stroke="#c8c8c8" stroke-width="2" stroke-linecap="round" fill="none"/>
</g>
<g opacity="1">
<path d="M416.2 122.1h0" stroke="#fdfdfd" stroke-width="3" stroke-linecap="round" fill="none"/>
<path d="M409.2 114.8h0" stroke="#fdfdfd" stroke-width="3.5" stroke-linecap="round" fill="none"/>
</g>
<g><circle cx="453.5" cy="114.8" r="12.7" fill="#2e2e2e" opacity="1"/>
<path d="M442.8 116.3h0M456.7 109.2h0M459.4 108.5h0M461.9 110.1h0M454.8 123.3h0M448.5 108.0h0M456.0 104.8h0M463.2 112.0h0M443.7 119.2h0M454.7 116.5h0M459.6 121.3h0M454.8 120.6h0M458.3 118.6h0M461.4 117.4h0M453.5 121.9h0M448.7 108.2h0M459.6 112.5h0M447.4 113.5h0M463.8 118.3h0M451.2 106.7h0M461.0 120.9h0M444.4 116.7h0M443.5 114.7h0M444.8 112.0h0M447.9 123.4h0M460.6 108.2h0M447.4 122.1h0" stroke="#666" stroke-width="1" stroke-linecap="round" fill="none"/>
<path d="M451.0 107.0h0M449.8 116.2h0M461.6 116.5h0M460.1 106.0h0M444.0 117.0h0M446.2 109.0h0M452.7 124.2h0M442.4 113.9h0M451.1 108.1h0M453.3 119.5h0M454.7 123.0h0M461.2 116.8h0M454.0 115.9h0M455.5 113.4h0M446.8 112.9h0M446.2 114.6h0M460.6 122.5h0M447.0 108.3h0M447.3 121.8h0M453.5 126.1h0M455.4 124.4h0M448.5 110.2h0M455.2 105.0h0M452.5 112.9h0M451.3 117.7h0M451.4 120.3h0M446.0 120.2h0M456.1 116.8h0M444.0 110.2h0M449.9 121.4h0M446.3 117.0h0" stroke="#666" stroke-width="1.5" stroke-linecap="round" fill="none"/>
<path d="M444.7 115.2h0M449.0 115.6h0" stroke="#666" stroke-width="2" stroke-linecap="round" fill="none"/>
</g>
<g><circle cx="488.9" cy="113.5" r="11.8" fill="#161616" opacity="1" filter="url(#bl1)"/>
<path d="M494.4 118.2h0M496.0 106.7h0M486.5 122.2h0M491.9 120.8h0M495.2 114.9h0M497.2 108.6h0M482.8 107.1h0M494.5 111.6h0" stroke="#2c2c2c" stroke-width="1" stroke-linecap="round" fill="none"/>
<path d="M484.2 111.0h0M485.0 123.0h0M485.9 108.0h0M484.5 118.8h0M494.9 122.2h0M479.5 109.6h0M491.9 104.2h0M491.5 109.0h0M496.7 117.4h0M483.1 116.6h0M480.5 109.5h0" stroke="#2c2c2c" stroke-width="1.5" stroke-linecap="round" fill="none"/>
<path d="M495.9 118.7h0" stroke="#2c2c2c" stroke-width="2" stroke-linecap="round" fill="none"/>
</g>
<g><circle cx="523.0" cy="113.5" r="6.6" fill="#121212" opacity="1" filter="url(#bl1)"/>
</g>
<g><circle cx="526.3" cy="113.5" r="0.9" fill="#555" opacity="1" filter="url(#bl1)"/>
</g>
<g><circle cx="414.6" cy="153.5" r="12.5" fill="#7c7c7c" opacity="1"/>
<path d="M412.5 161.0h0M413.2 150.2h0M419.6 150.0h0M406.6 149.6h0M425.5 152.9h0M425.0 156.9h0M417.7 158.8h0M409.1 151.0h0M413.5 156.9h0M407.6 153.7h0M419.9 147.5h0M416.5 157.8h0M410.0 145.8h0M416.5 143.4h0M420.1 160.9h0M407.9 148.1h0M418.7 158.7h0M408.4 145.3h0M424.1 150.9h0M413.3 152.0h0M410.9 143.4h0" stroke="#b0b0b0" stroke-width="1" stroke-linecap="round" fill="none"/>
<path d="M418.7 163.4h0M422.1 159.7h0M417.2 143.0h0M405.4 148.6h0M404.7 156.4h0M416.5 153.7h0M415.8 146.5h0M405.9 149.0h0M404.3 154.9h0M425.6 152.9h0M416.6 156.8h0M418.7 160.3h0M418.8 156.1h0M411.9 156.1h0M421.2 151.9h0M422.1 158.2h0M404.3 150.5h0" stroke="#b0b0b0" stroke-width="1.5" stroke-linecap="round" fill="none"/>
<path d="M422.7 151.8h0M416.4 149.5h0" stroke="#b0b0b0" stroke-width="2" stroke-linecap="round" fill="none"/>
</g>
<g opacity="1">
<path d="M408.3 154.2h0" stroke="#fdfdfd" stroke-width="4.5" stroke-linecap="round" fill="none"/>
</g>
<g><circle cx="450.3" cy="156.1" r="13.1" fill="#2a2a2a" opacity="1"/>
<path d="M453.8 156.1h0M448.0 159.5h0M447.5 163.5h0M454.0 159.1h0M440.7 160.7h0M450.1 156.0h0M449.6 150.1h0M451.0 147.7h0M442.0 148.8h0M454.6 152.8h0M447.9 164.9h0M454.3 158.0h0M449.4 159.6h0M453.1 153.6h0M450.2 161.0h0M444.2 161.5h0M441.1 157.6h0M446.0 161.0h0M444.6 152.5h0M456.3 152.6h0M445.3 156.5h0M451.3 162.0h0M450.2 162.0h0M459.0 154.4h0M454.7 166.9h0M446.2 148.9h0M452.6 164.4h0M441.1 152.6h0" stroke="#555" stroke-width="1" stroke-linecap="round" fill="none"/>
<path d="M459.3 150.6h0M441.6 156.5h0M447.3 145.8h0M457.4 151.4h0M460.6 153.1h0M454.3 164.2h0M443.3 146.6h0M460.1 161.9h0M444.9 165.6h0M443.4 163.2h0M446.4 159.3h0M458.0 164.5h0M447.8 154.1h0M444.8 147.3h0M453.3 164.0h0M448.0 147.9h0M443.6 157.7h0M449.6 150.0h0M445.4 162.0h0M442.1 155.5h0M449.2 152.4h0" stroke="#555" stroke-width="1.5" stroke-linecap="round" fill="none"/>
<path d="M460.9 152.9h0" stroke="#555" stroke-width="2" stroke-linecap="round" fill="none"/>
</g>
<g opacity="1">
<path d="M442.0 152.6h0" stroke="#fdfdfd" stroke-width="3" stroke-linecap="round" fill="none"/>
</g>
<g><circle cx="488.9" cy="152.9" r="11.8" fill="#151515" opacity="1" filter="url(#bl1)"/>
<path d="M487.8 162.4h0M491.2 155.9h0M488.0 142.6h0M492.2 156.7h0M498.0 149.5h0M488.8 149.3h0M481.7 153.3h0M490.4 157.4h0" stroke="#282828" stroke-width="1" stroke-linecap="round" fill="none"/>
<path d="M484.7 149.8h0M482.9 153.4h0M486.3 145.1h0M482.8 154.7h0M493.6 160.7h0M491.9 148.5h0M481.1 158.0h0M482.3 157.9h0M484.0 145.4h0M496.5 159.8h0M487.3 160.9h0" stroke="#282828" stroke-width="1.5" stroke-linecap="round" fill="none"/>
<path d="M487.9 145.0h0" stroke="#282828" stroke-width="2" stroke-linecap="round" fill="none"/>
</g>
</g></g>
<linearGradient id="gbg3" x1="0" y1="1" x2="1" y2="0"><stop offset="0" stop-color="#242424"/><stop offset="0.45" stop-color="#161616"/><stop offset="1" stop-color="#0b0b0b"/></linearGradient>
<clipPath id="clip195_233"><rect x="195.2" y="233.9" width="191.4" height="167.8"/></clipPath>
<filter id="fclip195_233" filterUnits="userSpaceOnUse" x="193.2" y="231.9" width="195.4" height="171.8"><feGaussianBlur stdDeviation="0.55"/></filter>
<g clip-path="url(#clip195_233)">
<rect x="195.2" y="233.9" width="191.4" height="167.8" fill="url(#gbg3)" />
<g filter="url(#fclip195_233)">
<line x1="229" y1="361" x2="308" y2="296" stroke="#2c2c2c" stroke-width="22" filter="url(#bl4)"/>
<circle cx="217.9" cy="256.9" r="16.4" fill="#fff" opacity="0.22" filter="url(#bl2)"/>
<circle cx="217.1" cy="254.0" r="16.4" fill="url(#gsolid2)" opacity="1"/>
<circle cx="253.7" cy="256.5" r="15.1" fill="#fff" opacity="0.18" filter="url(#bl2)"/>
<g><circle cx="252.9" cy="253.6" r="15.1" fill="url(#glawn)"/>
<path d="M254.7 264.8h0M259.4 244.2h0M261.3 246.3h0M241.9 259.2h0M241.1 249.3h0M266.2 253.8h0M245.0 255.1h0M252.3 264.5h0M264.6 253.9h0M261.2 253.1h0" stroke="#b0b0b0" stroke-width="1" stroke-linecap="round" fill="none"/>
<path d="M258.3 244.8h0M259.2 260.4h0M249.0 259.6h0M244.9 261.5h0M246.2 249.4h0M249.8 255.9h0" stroke="#b0b0b0" stroke-width="1.5" stroke-linecap="round" fill="none"/>
<path d="M252.5 240.7h0M248.2 258.5h0M245.4 243.1h0M243.4 258.2h0" stroke="#f6f6f6" stroke-width="1" stroke-linecap="round" fill="none"/>
<path d="M254.9 250.3h0M245.7 257.0h0M251.7 242.3h0M242.2 255.3h0" stroke="#f6f6f6" stroke-width="1.5" stroke-linecap="round" fill="none"/>
<path d="M261.2 246.8h0M261.7 252.9h0M255.6 258.9h0M257.1 242.2h0M254.9 247.9h0M251.9 247.6h0M264.8 251.4h0M261.2 248.1h0M248.2 261.6h0" stroke="#c0c0c0" stroke-width="1" stroke-linecap="round" fill="none"/>
<path d="M252.3 264.6h0M254.2 266.1h0M248.5 247.1h0M263.9 252.6h0M251.9 248.8h0M252.1 251.1h0M246.8 245.8h0" stroke="#c0c0c0" stroke-width="1.5" stroke-linecap="round" fill="none"/>
</g>
<circle cx="292.4" cy="255.8" r="15.1" fill="#fff" opacity="0.15" filter="url(#bl2)"/>
<g><circle cx="291.6" cy="252.9" r="14.0" fill="#6e6e6e" opacity="1"/>
<path d="M288.8 260.9h0M301.2 243.5h0M290.4 256.8h0M293.5 244.1h0M295.3 262.5h0M294.1 247.8h0M279.6 258.7h0M288.2 258.3h0M290.0 242.6h0M289.4 264.2h0" stroke="#fbfbfb" stroke-width="2.5" stroke-linecap="round" fill="none"/>
<path d="M301.0 260.9h0M297.2 258.8h0M292.2 253.6h0M298.4 242.1h0M302.9 255.1h0M297.3 243.0h0M291.9 248.5h0M300.9 252.7h0M298.4 254.2h0M292.3 243.5h0M285.8 249.2h0M293.6 240.4h0M280.3 259.7h0M301.1 247.1h0M299.9 257.3h0M291.6 249.1h0M296.3 259.1h0M295.4 255.4h0M299.3 256.4h0M296.8 263.1h0M285.7 256.1h0" stroke="#fbfbfb" stroke-width="3" stroke-linecap="round" fill="none"/>
<path d="M286.8 251.9h0M285.9 264.4h0M295.1 249.1h0M286.1 258.7h0M294.2 264.1h0M282.0 256.7h0M298.0 260.5h0M294.8 244.7h0M279.1 256.1h0M294.4 260.7h0M294.2 264.4h0M293.4 255.5h0M297.7 249.8h0M286.4 248.7h0M300.6 253.5h0M286.8 242.5h0M284.9 244.7h0M295.4 244.1h0M299.1 250.6h0M283.3 255.7h0M292.5 254.4h0M297.8 254.9h0M299.8 245.6h0M293.3 255.5h0M281.9 251.8h0M298.3 251.5h0" stroke="#fbfbfb" stroke-width="3.5" stroke-linecap="round" fill="none"/>
<path d="M287.0 254.9h0M300.6 249.1h0M284.3 251.4h0M288.9 240.6h0M297.8 250.3h0M296.9 246.0h0M285.2 249.0h0M281.8 253.1h0M294.9 249.0h0M288.9 244.5h0M291.3 248.6h0M302.7 247.8h0M296.3 241.9h0M297.6 251.7h0M289.9 258.8h0M287.9 241.4h0M282.7 248.1h0M288.4 248.5h0" stroke="#fbfbfb" stroke-width="4" stroke-linecap="round" fill="none"/>
</g>
<g opacity="1">
<path d="M324.1 255.2h0" stroke="#3a3a3a" stroke-width="2.5" stroke-linecap="round" fill="none"/>
<path d="M315.6 253.9h0M325.4 266.3h0" stroke="#3a3a3a" stroke-width="4" stroke-linecap="round" fill="none"/>
<path d="M313.6 258.4h0M316.9 268.9h0" stroke="#3a3a3a" stroke-width="6" stroke-linecap="round" fill="none"/>
<path d="M323.8 248.6h0" stroke="#3a3a3a" stroke-width="7.5" stroke-linecap="round" fill="none"/>
<path d="M330.6 265.6h0" stroke="#3a3a3a" stroke-width="8.5" stroke-linecap="round" fill="none"/>
<path d="M334.6 253.2h0" stroke="#3a3a3a" stroke-width="9" stroke-linecap="round" fill="none"/>
<path d="M323.7 253.6h0" stroke="#fdfdfd" stroke-width="2.5" stroke-linecap="round" fill="none"/>
<path d="M315.2 252.3h0M325.0 264.7h0" stroke="#fdfdfd" stroke-width="3.5" stroke-linecap="round" fill="none"/>
<path d="M313.2 256.9h0M316.5 267.4h0" stroke="#fdfdfd" stroke-width="5.5" stroke-linecap="round" fill="none"/>
<path d="M323.4 247.0h0" stroke="#fdfdfd" stroke-width="7" stroke-linecap="round" fill="none"/>
<path d="M330.2 264.1h0" stroke="#fdfdfd" stroke-width="8" stroke-linecap="round" fill="none"/>
<path d="M334.2 251.6h0" stroke="#fdfdfd" stroke-width="8.5" stroke-linecap="round" fill="none"/>
</g>
<g opacity="1">
<path d="M360.5 261.5h0" stroke="#3a3a3a" stroke-width="6.5" stroke-linecap="round" fill="none"/>
<path d="M360.1 259.9h0" stroke="#fdfdfd" stroke-width="6" stroke-linecap="round" fill="none"/>
</g>
<circle cx="215.0" cy="300.4" r="15.7" fill="#fff" opacity="0.22" filter="url(#bl2)"/>
<circle cx="214.2" cy="297.5" r="15.7" fill="url(#gsolid2)" opacity="1"/>
<g opacity="1">
<path d="M231.3 291.9h0" stroke="#fdfdfd" stroke-width="2.5" stroke-linecap="round" fill="none"/>
</g>
<circle cx="249.8" cy="299.7" r="15.1" fill="#fff" opacity="0.18" filter="url(#bl2)"/>
<g><circle cx="249.0" cy="296.8" r="15.1" fill="url(#glawn)"/>
<path d="M250.4 304.0h0M243.0 291.3h0M257.6 299.6h0M237.2 300.0h0M238.2 294.5h0M246.5 297.4h0M247.9 287.5h0M252.0 286.0h0M257.8 300.7h0" stroke="#b0b0b0" stroke-width="1" stroke-linecap="round" fill="none"/>
<path d="M244.6 299.2h0M255.1 302.8h0M238.6 302.2h0M253.3 292.7h0M252.1 286.7h0M259.6 301.7h0M251.2 301.3h0" stroke="#b0b0b0" stroke-width="1.5" stroke-linecap="round" fill="none"/>
<path d="M255.0 303.8h0M248.6 297.3h0M258.5 303.9h0M239.0 304.7h0M249.5 305.6h0M252.1 307.9h0M257.1 292.1h0M258.9 294.9h0" stroke="#f6f6f6" stroke-width="1" stroke-linecap="round" fill="none"/>
<path d="M254.0 302.9h0M256.9 297.8h0M254.0 299.1h0M258.7 291.0h0" stroke="#f6f6f6" stroke-width="1.5" stroke-linecap="round" fill="none"/>
<path d="M246.7 295.2h0M257.9 304.0h0M246.1 298.2h0M249.0 285.6h0M249.5 294.1h0M239.2 303.7h0M238.3 300.6h0" stroke="#c0c0c0" stroke-width="1" stroke-linecap="round" fill="none"/>
<path d="M241.1 294.0h0M259.9 298.7h0M244.3 288.8h0M246.6 284.6h0M244.8 304.7h0" stroke="#c0c0c0" stroke-width="1.5" stroke-linecap="round" fill="none"/>
</g>
<g opacity="1">
<path d="M261.8 290.9h0" stroke="#e8e8e8" stroke-width="3.5" stroke-linecap="round" fill="none"/>
</g>
<circle cx="291.0" cy="298.4" r="15.1" fill="#fff" opacity="0.15" filter="url(#bl2)"/>
<g><circle cx="290.3" cy="295.5" r="14.0" fill="#6e6e6e" opacity="1"/>
<path d="M302.5 297.7h0M300.0 295.6h0M290.7 296.7h0M284.4 287.6h0M283.6 296.3h0M283.9 291.3h0M294.6 306.0h0" stroke="#fbfbfb" stroke-width="2.5" stroke-linecap="round" fill="none"/>
<path d="M287.2 286.4h0M293.5 287.6h0M302.1 296.0h0M287.5 283.7h0M294.5 293.2h0M292.1 295.3h0M292.3 297.0h0M297.9 299.7h0M293.3 293.2h0M287.7 299.5h0M289.0 299.1h0M281.0 294.3h0M283.0 299.4h0M281.8 305.2h0M297.8 296.6h0M279.2 291.9h0M288.9 301.9h0M298.1 294.0h0M289.9 294.0h0M301.3 292.3h0M287.3 297.6h0M294.5 287.0h0M284.0 302.5h0M294.7 295.8h0" stroke="#fbfbfb" stroke-width="3" stroke-linecap="round" fill="none"/>
<path d="M300.8 291.2h0M291.5 288.4h0M286.7 283.2h0M293.9 294.0h0M292.0 282.1h0M280.0 296.4h0M284.7 300.3h0M289.9 284.4h0M285.9 295.6h0M283.6 287.4h0M287.0 302.2h0M287.1 307.1h0M299.1 295.6h0M286.7 306.5h0M290.4 302.7h0M283.1 290.8h0M282.9 299.8h0M287.6 301.8h0M295.0 299.8h0M286.2 303.2h0M287.4 298.0h0M283.3 295.2h0M283.2 302.6h0M293.2 293.7h0M279.2 301.8h0M286.2 299.0h0M283.7 288.4h0M293.3 306.2h0M294.9 305.7h0M302.9 299.1h0M299.4 295.3h0" stroke="#fbfbfb" stroke-width="3.5" stroke-linecap="round" fill="none"/>
<path d="M302.1 297.0h0M280.4 291.6h0M282.8 288.7h0M289.9 297.1h0M290.5 288.6h0M280.9 301.5h0M289.9 294.4h0M298.3 286.8h0M301.8 293.1h0M300.6 287.7h0M283.8 301.6h0M301.0 303.2h0M302.2 293.8h0" stroke="#fbfbfb" stroke-width="4" stroke-linecap="round" fill="none"/>
</g>
<g opacity="1">
<path d="M332.6 300.4h0" stroke="#3a3a3a" stroke-width="2.5" stroke-linecap="round" fill="none"/>
<path d="M320.1 303.0h0" stroke="#3a3a3a" stroke-width="3" stroke-linecap="round" fill="none"/>
<path d="M317.5 300.4h0" stroke="#3a3a3a" stroke-width="4" stroke-linecap="round" fill="none"/>
<path d="M318.2 295.5h0" stroke="#3a3a3a" stroke-width="6" stroke-linecap="round" fill="none"/>
<path d="M335.2 295.5h0" stroke="#3a3a3a" stroke-width="7.5" stroke-linecap="round" fill="none"/>
<path d="M331.3 285.3h0M325.4 292.5h0M329.3 308.9h0" stroke="#3a3a3a" stroke-width="8" stroke-linecap="round" fill="none"/>
<path d="M332.2 298.8h0" stroke="#fdfdfd" stroke-width="2.5" stroke-linecap="round" fill="none"/>
<path d="M319.8 301.4h0" stroke="#fdfdfd" stroke-width="3" stroke-linecap="round" fill="none"/>
<path d="M317.1 298.8h0" stroke="#fdfdfd" stroke-width="3.5" stroke-linecap="round" fill="none"/>
<path d="M317.8 294.0h0" stroke="#fdfdfd" stroke-width="5.5" stroke-linecap="round" fill="none"/>
<path d="M334.8 294.0h0" stroke="#fdfdfd" stroke-width="7" stroke-linecap="round" fill="none"/>
<path d="M330.9 283.7h0M325.0 290.9h0M328.9 307.3h0" stroke="#fdfdfd" stroke-width="7.5" stroke-linecap="round" fill="none"/>
</g>
<g opacity="1">
<path d="M356.8 293.8h0" stroke="#3a3a3a" stroke-width="6.5" stroke-linecap="round" fill="none"/>
<path d="M356.4 292.3h0" stroke="#fdfdfd" stroke-width="6" stroke-linecap="round" fill="none"/>
</g>
<g opacity="1">
<path d="M366.7 303.4h0" stroke="#3a3a3a" stroke-width="3" stroke-linecap="round" fill="none"/>
<path d="M361.2 305.6h0" stroke="#3a3a3a" stroke-width="6.5" stroke-linecap="round" fill="none"/>
<path d="M366.3 301.8h0" stroke="#fdfdfd" stroke-width="3" stroke-linecap="round" fill="none"/>
<path d="M360.8 304.0h0" stroke="#fdfdfd" stroke-width="6" stroke-linecap="round" fill="none"/>
</g>
<g opacity="1">
<path d="M214.6 319.4h0" stroke="#3a3a3a" stroke-width="5" stroke-linecap="round" fill="none"/>
<path d="M214.2 317.8h0" stroke="#fdfdfd" stroke-width="5" stroke-linecap="round" fill="none"/>
</g>
<circle cx="215.0" cy="344.3" r="12.5" fill="#fff" opacity="0.18" filter="url(#bl2)"/>
<g><circle cx="214.2" cy="341.4" r="12.5" fill="#d6d6d6"/>
<path d="M216.3 333.7h0M209.0 336.9h0M219.6 346.9h0M222.4 347.9h0M206.4 348.0h0M219.9 342.4h0M209.8 332.0h0M214.4 335.3h0M216.7 339.0h0M221.6 348.4h0" stroke="#808080" stroke-width="1" stroke-linecap="round" fill="none"/>
<path d="M207.9 348.6h0M211.3 340.4h0M221.5 333.9h0M223.1 345.1h0M216.3 338.4h0M205.2 343.3h0M212.8 349.2h0M209.8 349.4h0M208.7 350.0h0M218.2 338.2h0" stroke="#808080" stroke-width="1.5" stroke-linecap="round" fill="none"/>
<path d="M217.6 334.1h0M209.8 331.6h0M215.0 343.2h0M208.5 334.9h0M213.2 346.5h0M221.3 336.4h0M218.9 337.8h0M209.9 347.5h0M213.8 340.7h0M211.3 343.8h0M212.0 339.0h0M213.0 331.1h0M207.1 338.5h0M209.4 337.0h0" stroke="#f6f6f6" stroke-width="1" stroke-linecap="round" fill="none"/>
<path d="M219.8 335.7h0M218.4 336.1h0M221.8 337.2h0M213.7 345.0h0M209.8 335.5h0" stroke="#f6f6f6" stroke-width="1.5" stroke-linecap="round" fill="none"/>
<path d="M211.4 351.4h0M215.3 344.9h0M220.0 342.8h0M213.2 341.0h0M216.5 342.6h0M215.3 336.5h0M216.3 331.3h0M215.2 343.3h0M215.8 340.7h0M218.2 342.6h0M208.2 343.4h0M216.4 349.5h0M222.6 341.0h0M222.1 336.9h0M217.3 338.3h0M218.7 333.5h0M212.7 339.8h0M212.3 344.7h0M205.8 336.1h0" stroke="#c0c0c0" stroke-width="1" stroke-linecap="round" fill="none"/>
<path d="M210.5 338.1h0M221.5 343.8h0M212.6 347.1h0M216.8 342.1h0M216.7 337.9h0M220.8 346.3h0M213.0 345.5h0M220.8 344.0h0M209.0 345.6h0M217.6 340.9h0M217.0 336.7h0M211.5 345.6h0" stroke="#c0c0c0" stroke-width="1.5" stroke-linecap="round" fill="none"/>
</g>
<circle cx="255.7" cy="339.7" r="13.1" fill="#fff" opacity="0.15" filter="url(#bl2)"/>
<g><circle cx="254.9" cy="336.8" r="12.2" fill="#444" opacity="0.6"/>
<path d="M265.5 340.1h0M253.6 345.7h0M257.3 338.9h0M256.4 333.1h0M265.5 337.2h0" stroke="#fbfbfb" stroke-width="1.5" stroke-linecap="round" fill="none"/>
<path d="M257.5 337.0h0M265.4 339.8h0M264.4 336.5h0M247.4 341.3h0M259.8 340.1h0M243.4 338.0h0M249.8 330.2h0M266.2 336.5h0M263.4 332.7h0M254.7 345.0h0M253.3 331.4h0M254.2 330.6h0M265.2 335.0h0M258.7 335.1h0M262.0 340.9h0M259.0 335.1h0M247.2 334.0h0M244.0 338.7h0M266.5 336.0h0M252.4 336.3h0M259.4 345.4h0M248.7 334.1h0M253.8 331.3h0M259.1 327.3h0M263.7 329.7h0M258.4 329.5h0M262.9 336.7h0M261.1 343.3h0M250.1 332.9h0M259.6 339.5h0M246.2 332.7h0M256.2 335.3h0M253.1 332.4h0M246.3 340.0h0M258.3 340.9h0M260.2 337.9h0M247.5 331.6h0" stroke="#fbfbfb" stroke-width="2" stroke-linecap="round" fill="none"/>
<path d="M243.9 334.6h0M249.7 326.6h0M260.3 335.9h0M266.3 333.9h0M243.4 337.0h0M260.3 331.1h0M262.5 339.4h0M249.9 332.0h0M266.3 334.6h0M250.7 336.7h0M249.7 335.3h0M253.4 330.5h0M258.4 341.5h0M257.2 330.8h0M258.7 341.6h0M264.2 334.7h0M257.6 327.9h0M251.5 344.5h0M251.5 329.6h0M247.0 328.7h0M258.2 332.1h0M254.7 332.5h0M247.6 342.6h0M260.2 332.3h0M263.7 342.2h0M254.3 331.3h0M259.3 343.9h0" stroke="#fbfbfb" stroke-width="2.5" stroke-linecap="round" fill="none"/>
<path d="M263.0 334.2h0" stroke="#fbfbfb" stroke-width="3" stroke-linecap="round" fill="none"/>
</g>
<g opacity="1">
<path d="M295.9 345.6h0M293.3 347.6h0" stroke="#3a3a3a" stroke-width="2.5" stroke-linecap="round" fill="none"/>
<path d="M296.6 338.4h0M281.5 340.4h0" stroke="#3a3a3a" stroke-width="3" stroke-linecap="round" fill="none"/>
<path d="M277.9 343.0h0M301.8 347.6h0" stroke="#3a3a3a" stroke-width="3.5" stroke-linecap="round" fill="none"/>
<path d="M288.0 334.1h0M290.7 339.0h0" stroke="#3a3a3a" stroke-width="4.5" stroke-linecap="round" fill="none"/>
<path d="M280.2 347.6h0" stroke="#3a3a3a" stroke-width="5" stroke-linecap="round" fill="none"/>
<path d="M295.5 344.0h0M292.9 346.0h0" stroke="#fdfdfd" stroke-width="2.5" stroke-linecap="round" fill="none"/>
<path d="M296.2 336.8h0M281.1 338.8h0" stroke="#fdfdfd" stroke-width="3" stroke-linecap="round" fill="none"/>
<path d="M277.5 341.4h0M301.4 346.0h0" stroke="#fdfdfd" stroke-width="3.5" stroke-linecap="round" fill="none"/>
<path d="M287.6 332.5h0M290.3 337.5h0" stroke="#fdfdfd" stroke-width="4.5" stroke-linecap="round" fill="none"/>
<path d="M279.8 346.0h0" stroke="#fdfdfd" stroke-width="5" stroke-linecap="round" fill="none"/>
</g>
<g opacity="1">
<path d="M321.1 336.0h0" stroke="#3a3a3a" stroke-width="3" stroke-linecap="round" fill="none"/>
<path d="M319.5 344.9h0" stroke="#3a3a3a" stroke-width="4" stroke-linecap="round" fill="none"/>
<path d="M320.7 334.5h0" stroke="#fdfdfd" stroke-width="3" stroke-linecap="round" fill="none"/>
<path d="M319.1 343.4h0" stroke="#fdfdfd" stroke-width="3.5" stroke-linecap="round" fill="none"/>
</g>
<g opacity="1">
<path d="M338.8 341.7h0" stroke="#3a3a3a" stroke-width="5" stroke-linecap="round" fill="none"/>
<path d="M338.4 340.1h0" stroke="#fdfdfd" stroke-width="5" stroke-linecap="round" fill="none"/>
</g>
<circle cx="216.7" cy="383.6" r="14.2" fill="#fff" opacity="0.18" filter="url(#bl2)"/>
<g><circle cx="216.0" cy="380.7" r="14.2" fill="#d2d2d2"/>
<path d="M220.4 371.5h0M218.5 374.6h0M212.3 368.9h0M218.7 390.8h0M223.9 389.5h0M208.7 379.0h0M211.6 383.4h0M223.1 375.1h0M207.1 372.2h0M211.3 387.6h0" stroke="#808080" stroke-width="1" stroke-linecap="round" fill="none"/>
<path d="M219.4 371.1h0M218.7 369.6h0M211.8 387.7h0M221.9 376.0h0M209.5 374.3h0M220.7 372.1h0M218.1 373.1h0M209.4 384.4h0M218.3 375.9h0M204.6 384.6h0M205.0 380.4h0M210.6 376.8h0M219.9 370.7h0" stroke="#808080" stroke-width="1.5" stroke-linecap="round" fill="none"/>
<path d="M225.3 376.2h0M220.5 378.8h0M209.6 382.0h0M225.6 376.3h0M221.7 388.9h0M224.3 383.0h0M211.4 386.3h0M222.7 380.9h0M224.0 381.0h0M225.8 385.4h0M224.7 377.3h0M221.0 372.8h0M216.5 372.1h0M215.9 381.2h0M210.6 371.6h0" stroke="#f6f6f6" stroke-width="1" stroke-linecap="round" fill="none"/>
<path d="M221.2 375.3h0M216.7 391.9h0M216.5 384.6h0M215.9 371.5h0M211.3 383.6h0M210.5 374.1h0M217.7 378.4h0M221.3 383.6h0M221.2 386.1h0M223.2 386.9h0M220.8 383.3h0M222.4 378.3h0" stroke="#f6f6f6" stroke-width="1.5" stroke-linecap="round" fill="none"/>
<path d="M214.3 387.7h0M221.8 373.2h0M215.6 384.5h0M206.0 379.6h0M210.8 374.1h0M216.9 373.4h0M214.7 375.4h0M220.8 381.6h0M216.1 383.6h0M218.1 383.0h0M226.2 376.1h0M219.6 372.9h0M212.6 382.8h0M209.2 389.6h0M224.3 387.0h0M218.7 375.7h0M223.8 373.0h0" stroke="#c0c0c0" stroke-width="1" stroke-linecap="round" fill="none"/>
<path d="M223.6 372.0h0M204.7 380.4h0M212.4 383.7h0M212.7 374.8h0M217.6 389.9h0M224.3 378.3h0M219.9 383.3h0M213.1 384.3h0M214.9 387.2h0M214.4 387.2h0M209.0 372.3h0M211.1 379.2h0M218.9 374.6h0" stroke="#c0c0c0" stroke-width="1.5" stroke-linecap="round" fill="none"/>
</g>
<circle cx="255.7" cy="383.6" r="13.1" fill="#fff" opacity="0.15" filter="url(#bl2)"/>
<g><circle cx="254.9" cy="380.7" r="12.2" fill="#444" opacity="0.5"/>
<path d="M247.3 374.0h0M250.6 381.1h0M253.9 385.7h0M260.6 389.0h0M248.3 372.9h0M256.5 385.7h0M258.7 386.1h0M243.9 383.4h0" stroke="#fbfbfb" stroke-width="1.5" stroke-linecap="round" fill="none"/>
<path d="M256.5 390.3h0M255.3 384.9h0M245.8 387.2h0M256.6 372.3h0M263.9 383.5h0M258.4 377.1h0M256.7 384.4h0M248.1 389.5h0M264.7 384.9h0M248.0 382.4h0M264.7 377.7h0M266.7 381.0h0M257.3 383.5h0M244.1 379.4h0M246.0 377.9h0M258.0 382.4h0M257.3 378.2h0M249.4 389.7h0M245.4 374.2h0M251.1 389.7h0M252.2 392.1h0M254.4 389.3h0M255.7 385.0h0M262.4 376.0h0M253.2 379.5h0M245.2 385.9h0M266.1 381.4h0M257.2 390.1h0M266.1 380.8h0M261.2 387.4h0M244.9 386.5h0M248.0 372.8h0" stroke="#fbfbfb" stroke-width="2" stroke-linecap="round" fill="none"/>
<path d="M260.1 371.6h0M244.1 376.9h0M252.6 384.9h0M252.0 381.8h0M260.2 383.0h0M256.5 381.9h0M248.8 388.4h0M250.8 369.7h0M262.3 377.6h0M246.2 385.9h0M253.9 382.8h0M258.2 390.4h0M246.7 373.1h0M249.0 377.7h0M243.4 379.6h0M258.9 379.6h0M259.4 389.0h0M252.1 386.5h0M257.9 386.8h0M255.7 369.0h0M258.3 377.7h0M245.0 385.2h0M246.3 378.9h0M249.0 371.1h0M248.6 374.4h0M245.4 378.1h0M250.8 373.8h0M249.8 375.3h0M264.9 381.2h0" stroke="#fbfbfb" stroke-width="2.5" stroke-linecap="round" fill="none"/>
<path d="M257.6 373.8h0" stroke="#fbfbfb" stroke-width="3" stroke-linecap="round" fill="none"/>
</g>
<g opacity="1">
<path d="M288.0 380.7h0M282.1 384.3h0" stroke="#3a3a3a" stroke-width="2" stroke-linecap="round" fill="none"/>
<path d="M293.9 372.9h0" stroke="#3a3a3a" stroke-width="3.5" stroke-linecap="round" fill="none"/>
<path d="M285.8 388.8h0" stroke="#3a3a3a" stroke-width="4" stroke-linecap="round" fill="none"/>
<path d="M296.6 387.8h0" stroke="#3a3a3a" stroke-width="5" stroke-linecap="round" fill="none"/>
<path d="M287.6 379.1h0M281.7 382.7h0" stroke="#fdfdfd" stroke-width="2" stroke-linecap="round" fill="none"/>
<path d="M293.5 371.3h0" stroke="#fdfdfd" stroke-width="3.5" stroke-linecap="round" fill="none"/>
<path d="M285.4 387.3h0" stroke="#fdfdfd" stroke-width="4" stroke-linecap="round" fill="none"/>
<path d="M296.2 386.2h0" stroke="#fdfdfd" stroke-width="5" stroke-linecap="round" fill="none"/>
</g>
<g opacity="1">
<path d="M324.3 375.7h0" stroke="#fdfdfd" stroke-width="2.5" stroke-linecap="round" fill="none"/>
</g>
<g><circle cx="360.4" cy="376.8" r="1.6" fill="#333" opacity="1" filter="url(#bl1)"/>
</g>
</g></g>
<clipPath id="clip391_233"><rect x="391.3" y="233.9" width="190.7" height="167.1"/></clipPath>
<filter id="fclip391_233" filterUnits="userSpaceOnUse" x="389.3" y="231.9" width="194.7" height="171.1"><feGaussianBlur stdDeviation="0.55"/></filter>
<g clip-path="url(#clip391_233)">
<rect x="391.3" y="233.9" width="190.7" height="167.1" fill="#050505" />
<g filter="url(#fclip391_233)">
<path d="M398,374 Q421,276 558,269" fill="none" stroke="#1f1f1f" stroke-width="12" filter="url(#bl4)"/>
<circle cx="412.4" cy="257.1" r="14.7" fill="#fff" opacity="0.22" filter="url(#bl2)"/>
<circle cx="411.6" cy="254.2" r="14.7" fill="url(#gsolid2)" opacity="1"/>
<circle cx="448.0" cy="256.2" r="13.8" fill="#fff" opacity="0.18" filter="url(#bl2)"/>
<g><circle cx="447.2" cy="253.3" r="13.8" fill="url(#glawn)"/>
<path d="M441.4 246.9h0M448.3 249.8h0M457.5 250.4h0M451.6 248.9h0M449.4 251.7h0M441.9 259.1h0M456.4 259.2h0" stroke="#b0b0b0" stroke-width="1" stroke-linecap="round" fill="none"/>
<path d="M455.3 258.7h0M442.5 247.8h0M457.5 255.2h0M448.8 249.2h0" stroke="#b0b0b0" stroke-width="1.5" stroke-linecap="round" fill="none"/>
<path d="M438.2 260.5h0M453.1 249.1h0M445.6 252.2h0M437.3 254.2h0M456.0 261.7h0M442.1 257.7h0M444.2 251.2h0M438.2 256.3h0M450.8 246.5h0M445.4 246.2h0M436.5 251.9h0M442.2 258.9h0M442.3 247.1h0M451.1 258.1h0" stroke="#f6f6f6" stroke-width="1" stroke-linecap="round" fill="none"/>
<path d="M447.4 263.7h0M454.9 252.3h0" stroke="#f6f6f6" stroke-width="1.5" stroke-linecap="round" fill="none"/>
<path d="M455.2 259.6h0M444.7 249.1h0M449.4 263.9h0M440.5 249.3h0M453.6 261.3h0M445.5 258.3h0M442.6 264.4h0M448.2 246.6h0" stroke="#c0c0c0" stroke-width="1" stroke-linecap="round" fill="none"/>
<path d="M443.6 247.7h0M444.3 247.0h0M441.1 260.0h0M448.4 248.6h0M444.4 248.4h0" stroke="#c0c0c0" stroke-width="1.5" stroke-linecap="round" fill="none"/>
</g>
<circle cx="484.1" cy="253.2" r="14.2" fill="#fff" opacity="0.15" filter="url(#bl2)"/>
<g><circle cx="483.3" cy="250.3" r="13.2" fill="#6e6e6e" opacity="1"/>
<path d="M490.4 242.2h0M486.4 239.9h0M480.6 253.6h0M487.3 261.4h0M471.6 253.3h0M477.7 251.7h0M482.3 252.9h0M491.9 259.7h0M487.5 249.7h0M475.9 253.2h0M493.0 249.2h0M485.2 262.6h0M479.7 238.5h0M480.8 239.2h0M480.2 250.1h0M479.9 253.0h0" stroke="#fbfbfb" stroke-width="2.5" stroke-linecap="round" fill="none"/>
<path d="M488.7 238.8h0M488.0 240.7h0M471.1 252.8h0M490.3 260.0h0M489.1 253.6h0M475.7 245.3h0M480.1 255.9h0M473.1 245.8h0M479.1 257.0h0M494.4 248.3h0M492.7 253.4h0M492.7 243.6h0M490.2 251.7h0M478.4 244.8h0M487.9 245.5h0M485.3 245.0h0M482.4 238.0h0M492.0 253.7h0M494.6 246.8h0M476.5 247.9h0M489.5 254.7h0M478.7 260.4h0M486.0 259.3h0M492.5 254.4h0M472.9 246.4h0M479.9 240.6h0" stroke="#fbfbfb" stroke-width="3" stroke-linecap="round" fill="none"/>
<path d="M476.8 242.3h0M486.2 248.7h0M485.4 252.2h0M483.3 250.4h0M495.4 253.8h0M478.2 255.0h0M485.3 259.8h0M481.9 244.2h0M494.2 248.5h0M485.5 242.0h0M488.6 252.0h0M492.9 255.2h0M479.4 254.8h0M480.3 260.3h0M484.9 237.7h0M484.9 262.0h0M473.6 244.1h0M486.1 256.0h0M493.2 249.6h0M480.6 241.3h0M478.9 250.9h0M475.8 240.9h0M489.8 256.6h0M487.8 258.0h0M482.7 253.1h0M487.7 261.4h0M489.7 244.9h0" stroke="#fbfbfb" stroke-width="3.5" stroke-linecap="round" fill="none"/>
<path d="M490.1 253.9h0M493.4 252.0h0M483.3 261.4h0M477.9 246.2h0M478.6 258.4h0M490.0 254.0h0" stroke="#fbfbfb" stroke-width="4" stroke-linecap="round" fill="none"/>
</g>
<g opacity="1">
<path d="M529.3 259.1h0" stroke="#3a3a3a" stroke-width="2.5" stroke-linecap="round" fill="none"/>
<path d="M526.7 245.7h0M512.2 250.6h0M512.2 256.2h0M522.7 263.0h0" stroke="#3a3a3a" stroke-width="3" stroke-linecap="round" fill="none"/>
<path d="M518.4 243.6h0" stroke="#3a3a3a" stroke-width="4" stroke-linecap="round" fill="none"/>
<path d="M522.1 249.3h0M519.5 259.1h0" stroke="#3a3a3a" stroke-width="4.5" stroke-linecap="round" fill="none"/>
<path d="M528.6 252.5h0" stroke="#3a3a3a" stroke-width="10" stroke-linecap="round" fill="none"/>
<path d="M528.9 257.5h0" stroke="#fdfdfd" stroke-width="2.5" stroke-linecap="round" fill="none"/>
<path d="M526.3 244.2h0M511.9 249.0h0M511.9 254.6h0M522.3 261.5h0" stroke="#fdfdfd" stroke-width="3" stroke-linecap="round" fill="none"/>
<path d="M518.0 242.1h0" stroke="#fdfdfd" stroke-width="3.5" stroke-linecap="round" fill="none"/>
<path d="M521.7 247.7h0M519.1 257.5h0" stroke="#fdfdfd" stroke-width="4.5" stroke-linecap="round" fill="none"/>
<path d="M528.2 251.0h0" stroke="#fdfdfd" stroke-width="9.5" stroke-linecap="round" fill="none"/>
</g>
<g opacity="1">
<path d="M552.0 259.1h0" stroke="#3a3a3a" stroke-width="6.5" stroke-linecap="round" fill="none"/>
<path d="M551.6 257.5h0" stroke="#fdfdfd" stroke-width="6" stroke-linecap="round" fill="none"/>
</g>
<g><circle cx="557.1" cy="247.0" r="1.3" fill="#444" opacity="1" filter="url(#bl1)"/>
</g>
<circle cx="411.1" cy="302.1" r="13.8" fill="#fff" opacity="0.22" filter="url(#bl2)"/>
<circle cx="410.3" cy="299.2" r="13.8" fill="url(#gsolid2)" opacity="1"/>
<circle cx="452.0" cy="301.7" r="13.8" fill="#fff" opacity="0.18" filter="url(#bl2)"/>
<g><circle cx="451.2" cy="298.8" r="13.8" fill="url(#glawn)"/>
<path d="M452.6 309.6h0M450.4 310.6h0M456.8 295.2h0M441.1 294.0h0M459.6 307.4h0M452.4 310.4h0M454.6 295.1h0M445.7 298.5h0M446.8 297.1h0M458.4 292.0h0" stroke="#b0b0b0" stroke-width="1" stroke-linecap="round" fill="none"/>
<path d="M444.5 290.6h0M461.6 305.0h0M452.3 297.3h0" stroke="#b0b0b0" stroke-width="1.5" stroke-linecap="round" fill="none"/>
<path d="M454.4 308.2h0M460.1 302.9h0M454.0 303.3h0M458.1 295.9h0M451.1 291.3h0M458.9 306.8h0M443.9 292.6h0M456.4 289.5h0M449.9 305.0h0M453.0 301.7h0M444.3 289.6h0M451.0 298.8h0" stroke="#f6f6f6" stroke-width="1" stroke-linecap="round" fill="none"/>
<path d="M450.2 304.7h0M445.4 301.8h0M439.5 300.2h0M449.5 287.9h0M453.0 290.5h0" stroke="#f6f6f6" stroke-width="1.5" stroke-linecap="round" fill="none"/>
<path d="M455.7 292.4h0M440.6 299.6h0M444.2 303.5h0M444.2 300.9h0M441.4 294.2h0M454.5 307.6h0M455.7 308.6h0" stroke="#c0c0c0" stroke-width="1" stroke-linecap="round" fill="none"/>
<path d="M457.3 293.4h0M442.0 298.3h0M450.6 300.4h0" stroke="#c0c0c0" stroke-width="1.5" stroke-linecap="round" fill="none"/>
</g>
<circle cx="487.7" cy="303.0" r="14.2" fill="#fff" opacity="0.15" filter="url(#bl2)"/>
<g><circle cx="487.0" cy="300.1" r="13.2" fill="#6e6e6e" opacity="1"/>
<path d="M475.9 297.9h0M475.8 298.0h0M480.4 296.9h0M482.4 303.4h0M493.2 295.8h0M479.5 302.8h0M483.5 288.4h0M481.5 304.7h0M479.0 297.1h0M495.8 298.4h0M488.3 287.7h0M478.5 297.4h0M492.8 310.5h0M490.1 296.9h0M491.3 308.0h0M486.2 309.2h0M493.0 291.2h0M480.1 297.8h0M483.5 311.8h0M475.5 296.6h0M486.4 297.3h0M478.7 291.3h0" stroke="#fbfbfb" stroke-width="2.5" stroke-linecap="round" fill="none"/>
<path d="M475.3 296.5h0M483.7 308.5h0M483.7 294.1h0M497.5 303.0h0M483.6 302.9h0M483.9 310.7h0M492.1 289.7h0M489.3 303.0h0M484.2 289.0h0M495.2 296.6h0M496.5 293.0h0M489.9 292.5h0M493.3 310.4h0M493.2 290.9h0M476.7 299.0h0M494.2 300.7h0M481.2 296.3h0M487.6 299.4h0M492.8 302.4h0M496.6 299.1h0M477.3 305.8h0M477.7 295.5h0M498.1 302.2h0M486.6 288.6h0M476.6 294.0h0" stroke="#fbfbfb" stroke-width="3" stroke-linecap="round" fill="none"/>
<path d="M482.4 307.7h0M495.5 309.4h0M478.0 296.9h0M493.5 296.5h0M493.2 296.9h0M494.2 304.6h0M486.0 307.0h0M478.3 308.2h0M496.0 292.3h0M487.1 290.2h0M488.3 312.6h0M475.3 304.1h0M485.2 289.9h0M493.8 291.4h0M483.8 307.8h0M485.9 306.6h0M481.5 304.4h0M498.5 295.9h0M476.4 293.3h0M481.2 295.9h0M495.2 302.1h0M484.9 309.8h0M497.3 299.2h0M489.9 291.7h0M478.6 308.8h0M489.7 303.7h0M480.4 302.1h0M476.9 294.3h0M498.5 303.6h0M482.9 304.9h0" stroke="#fbfbfb" stroke-width="3.5" stroke-linecap="round" fill="none"/>
<path d="M476.5 303.2h0" stroke="#fbfbfb" stroke-width="4" stroke-linecap="round" fill="none"/>
</g>
<g opacity="1">
<path d="M528.6 288.6h0M509.6 294.7h0M524.0 299.1h0" stroke="#3a3a3a" stroke-width="2.5" stroke-linecap="round" fill="none"/>
<path d="M524.0 290.8h0M527.1 303.0h0" stroke="#3a3a3a" stroke-width="3" stroke-linecap="round" fill="none"/>
<path d="M515.5 293.2h0" stroke="#3a3a3a" stroke-width="3.5" stroke-linecap="round" fill="none"/>
<path d="M523.4 295.8h0" stroke="#3a3a3a" stroke-width="4.5" stroke-linecap="round" fill="none"/>
<path d="M518.8 287.7h0M512.2 290.3h0" stroke="#3a3a3a" stroke-width="6" stroke-linecap="round" fill="none"/>
<path d="M528.2 287.0h0M509.2 293.2h0M523.6 297.5h0" stroke="#fdfdfd" stroke-width="2.5" stroke-linecap="round" fill="none"/>
<path d="M523.6 289.2h0M526.7 301.4h0" stroke="#fdfdfd" stroke-width="3" stroke-linecap="round" fill="none"/>
<path d="M515.1 291.6h0" stroke="#fdfdfd" stroke-width="3.5" stroke-linecap="round" fill="none"/>
<path d="M523.0 294.2h0" stroke="#fdfdfd" stroke-width="4.5" stroke-linecap="round" fill="none"/>
<path d="M518.4 286.1h0M511.9 288.7h0" stroke="#fdfdfd" stroke-width="5.5" stroke-linecap="round" fill="none"/>
</g>
<g opacity="1">
<path d="M554.2 289.0h0" stroke="#3a3a3a" stroke-width="6.5" stroke-linecap="round" fill="none"/>
<path d="M560.1 286.0h0" stroke="#3a3a3a" stroke-width="8.5" stroke-linecap="round" fill="none"/>
<path d="M553.8 287.4h0" stroke="#fdfdfd" stroke-width="6" stroke-linecap="round" fill="none"/>
<path d="M559.7 284.4h0" stroke="#fdfdfd" stroke-width="8" stroke-linecap="round" fill="none"/>
</g>
<g><circle cx="413.2" cy="339.8" r="12.8" fill="#505050" opacity="1"/>
<path d="M410.8 331.4h0M424.0 343.2h0M412.7 335.9h0M411.6 340.3h0M424.3 341.5h0M421.3 345.7h0M420.5 346.5h0M421.8 339.8h0M412.4 337.4h0M405.4 346.4h0M418.4 349.0h0M423.0 343.8h0M418.8 336.1h0M413.8 336.1h0M408.8 329.3h0M416.4 330.8h0M407.8 340.2h0M419.2 347.0h0M405.1 333.9h0M412.5 332.6h0M417.9 349.2h0M406.5 347.1h0M420.5 331.6h0M408.2 332.3h0M415.2 328.5h0M410.0 335.7h0M412.6 348.6h0M423.9 342.0h0M412.7 340.5h0M415.2 337.6h0" stroke="#aaa" stroke-width="1" stroke-linecap="round" fill="none"/>
<path d="M406.4 335.5h0M404.2 346.3h0M413.3 331.4h0M410.0 346.6h0M413.6 335.9h0M414.2 348.9h0M410.2 331.5h0M405.8 342.8h0M417.3 348.7h0M419.8 331.8h0M423.2 337.4h0M419.0 345.3h0M412.5 331.4h0M418.1 337.6h0M402.3 336.0h0M411.0 348.3h0M409.2 330.1h0M418.0 342.9h0M414.3 332.0h0M405.6 346.5h0M411.1 335.6h0M407.6 330.2h0M413.3 335.3h0M408.8 345.4h0M409.8 337.7h0M415.7 349.9h0M403.6 336.8h0M416.0 339.0h0M408.9 336.2h0M422.1 335.5h0M418.6 348.4h0M410.5 333.3h0M406.9 334.2h0M416.8 330.9h0M420.1 336.3h0M412.3 339.5h0M405.9 334.6h0" stroke="#aaa" stroke-width="1.5" stroke-linecap="round" fill="none"/>
<path d="M412.7 335.6h0M418.3 340.9h0M418.9 348.0h0" stroke="#aaa" stroke-width="2" stroke-linecap="round" fill="none"/>
</g>
<g opacity="1">
<path d="M411.6 333.5h0" stroke="#fdfdfd" stroke-width="1.5" stroke-linecap="round" fill="none"/>
<path d="M420.1 342.5h0" stroke="#fdfdfd" stroke-width="3" stroke-linecap="round" fill="none"/>
<path d="M409.0 342.1h0" stroke="#fdfdfd" stroke-width="3.5" stroke-linecap="round" fill="none"/>
</g>
<g><circle cx="447.0" cy="339.4" r="11.1" fill="#161616" opacity="1"/>
<path d="M444.0 331.1h0M442.0 338.3h0M450.2 347.8h0M446.9 345.7h0M447.9 347.7h0M445.8 331.7h0M444.3 341.5h0M444.8 339.4h0M444.2 331.8h0M443.2 334.6h0M441.5 339.7h0M442.3 332.8h0M447.2 338.9h0M456.9 340.1h0M448.9 333.2h0" stroke="#555" stroke-width="1" stroke-linecap="round" fill="none"/>
<path d="M438.2 337.9h0M451.0 348.5h0M445.4 344.2h0M444.6 330.2h0M441.8 339.3h0M448.6 329.6h0M445.7 332.6h0M452.6 340.9h0M454.5 345.9h0M446.4 347.2h0M448.0 343.2h0M446.9 329.7h0M437.4 340.7h0M440.7 346.0h0M444.1 333.3h0M451.9 334.9h0M446.2 342.0h0M446.4 341.6h0M441.5 343.6h0M449.4 348.8h0M456.6 342.1h0M437.4 338.2h0M450.6 334.6h0M445.7 345.6h0" stroke="#555" stroke-width="1.5" stroke-linecap="round" fill="none"/>
<path d="M448.2 333.5h0" stroke="#555" stroke-width="2" stroke-linecap="round" fill="none"/>
</g>
<g opacity="1">
<path d="M458.8 340.7h0" stroke="#ccc" stroke-width="2.5" stroke-linecap="round" fill="none"/>
</g>
<g opacity="1">
<path d="M484.3 333.5h0M486.0 333.5h0" stroke="#555" stroke-width="1" stroke-linecap="round" fill="none"/>
</g>
<g><circle cx="412.9" cy="380.5" r="13.8" fill="#404040" opacity="1"/>
<path d="M422.5 379.8h0M414.3 391.3h0M420.2 374.0h0M412.9 390.9h0M407.3 386.9h0M412.4 370.8h0M414.9 389.7h0M418.3 372.0h0M423.8 380.8h0M415.6 369.6h0M414.8 376.3h0M406.1 389.8h0M405.2 389.2h0M414.7 385.6h0M402.3 382.2h0M405.2 375.8h0M405.7 388.1h0M423.9 375.7h0M409.0 387.3h0M416.1 382.0h0M420.8 371.8h0M419.3 375.3h0M405.4 373.6h0M410.6 385.9h0M404.0 385.2h0M409.4 374.7h0M413.6 376.3h0M420.1 387.6h0M413.0 389.3h0" stroke="#777" stroke-width="1" stroke-linecap="round" fill="none"/>
<path d="M410.8 377.5h0M420.1 380.4h0M415.6 391.3h0M419.1 386.4h0M415.4 384.4h0M415.1 376.4h0M424.3 384.6h0M420.3 373.6h0M413.7 382.7h0M415.8 381.8h0M417.5 379.9h0M418.5 376.8h0M411.5 388.8h0M420.5 375.2h0M409.9 382.8h0M410.2 387.8h0M409.8 388.7h0M402.7 373.8h0M404.0 380.8h0M408.3 389.3h0M411.9 389.5h0M410.1 372.4h0M420.7 383.8h0M413.5 368.3h0M422.4 383.9h0M416.6 375.6h0M405.6 386.0h0M408.2 372.2h0M405.4 380.0h0M405.7 390.3h0M422.8 383.8h0M415.9 373.3h0M402.8 376.4h0M412.1 392.5h0M403.0 384.6h0M423.4 378.6h0M421.2 384.2h0" stroke="#777" stroke-width="1.5" stroke-linecap="round" fill="none"/>
<path d="M404.5 376.6h0M416.1 391.7h0M411.0 379.4h0M424.8 379.2h0" stroke="#777" stroke-width="2" stroke-linecap="round" fill="none"/>
</g>
<g opacity="1">
<path d="M416.2 373.5h0" stroke="#fdfdfd" stroke-width="2" stroke-linecap="round" fill="none"/>
</g>
<g opacity="1">
<path d="M443.0 383.6h0" stroke="#888" stroke-width="1.5" stroke-linecap="round" fill="none"/>
</g>
</g></g>
<clipPath id="clip193_455"><rect x="193.7" y="455.9" width="190.3" height="166.4"/></clipPath>
<filter id="fclip193_455" filterUnits="userSpaceOnUse" x="191.7" y="453.9" width="194.3" height="170.4"><feGaussianBlur stdDeviation="0.55"/></filter>
<g clip-path="url(#clip193_455)">
<rect x="193.7" y="455.9" width="190.3" height="166.4" fill="#000" />
<g filter="url(#fclip193_455)">
<circle cx="211.4" cy="472.0" r="13.8" fill="url(#gsolid3)" opacity="1"/>
<g><circle cx="247.7" cy="473.6" r="11.6" fill="#d6d6d6" opacity="1"/>
<path d="M253.7 482.9h0M246.1 467.9h0M251.8 474.1h0M250.8 475.8h0M241.2 478.2h0M254.0 471.5h0M247.3 467.6h0M256.2 466.9h0M239.9 468.4h0M256.0 467.0h0M243.4 473.1h0M257.6 473.9h0M247.1 477.6h0" stroke="#2a2a2a" stroke-width="1" stroke-linecap="round" fill="none"/>
<path d="M248.8 473.3h0M253.2 473.6h0M242.3 473.2h0M244.9 475.1h0M256.3 470.1h0M237.6 475.6h0M243.8 483.0h0M253.0 469.9h0M257.2 478.4h0M243.9 474.2h0M240.8 470.4h0M248.6 474.1h0M243.6 468.0h0M240.7 467.2h0M243.8 483.0h0M244.5 467.8h0M245.1 467.8h0M240.2 467.8h0M250.1 476.1h0M247.0 465.3h0M253.5 469.7h0M241.9 465.1h0M240.4 469.6h0M244.0 477.6h0M243.9 473.1h0M243.3 474.5h0M256.8 472.9h0" stroke="#2a2a2a" stroke-width="1.5" stroke-linecap="round" fill="none"/>
<path d="M254.4 467.2h0M249.1 483.9h0M249.2 468.5h0M242.3 480.1h0M243.3 467.9h0M255.5 473.4h0M245.9 481.3h0M240.4 480.8h0M239.9 473.6h0M250.3 474.3h0M254.1 473.0h0M252.0 475.3h0M247.2 469.9h0M241.9 470.6h0M248.8 467.2h0" stroke="#2a2a2a" stroke-width="2" stroke-linecap="round" fill="none"/>
</g>
<g opacity="1">
<path d="M285.0 461.1h0" stroke="#fdfdfd" stroke-width="1.5" stroke-linecap="round" fill="none"/>
<path d="M280.4 465.7h0M286.3 466.4h0M279.1 475.6h0" stroke="#fdfdfd" stroke-width="2" stroke-linecap="round" fill="none"/>
<path d="M292.2 467.0h0M289.6 472.3h0M273.9 474.2h0M277.2 479.5h0" stroke="#fdfdfd" stroke-width="2.5" stroke-linecap="round" fill="none"/>
<path d="M277.8 470.3h0M284.4 475.6h0M293.5 477.5h0M273.2 479.5h0M283.1 481.5h0M287.0 484.1h0M278.1 484.7h0" stroke="#fdfdfd" stroke-width="3" stroke-linecap="round" fill="none"/>
<path d="M271.9 469.0h0M283.1 470.3h0" stroke="#fdfdfd" stroke-width="3.5" stroke-linecap="round" fill="none"/>
</g>
<g opacity="1">
<path d="M309.5 472.0h0" stroke="#fdfdfd" stroke-width="2.5" stroke-linecap="round" fill="none"/>
<path d="M309.9 483.4h0" stroke="#fdfdfd" stroke-width="3" stroke-linecap="round" fill="none"/>
</g>
<circle cx="211.0" cy="512.3" r="13.8" fill="url(#gsolid3)" opacity="1"/>
<g><circle cx="246.4" cy="514.2" r="11.6" fill="#d6d6d6" opacity="1"/>
<path d="M243.1 504.8h0M250.4 510.7h0M240.6 509.3h0M239.9 506.9h0M244.6 511.2h0M247.8 523.3h0M244.7 508.8h0M246.3 522.1h0M239.1 507.2h0M252.7 520.4h0M247.8 511.2h0" stroke="#2a2a2a" stroke-width="1" stroke-linecap="round" fill="none"/>
<path d="M243.3 510.2h0M249.0 505.1h0M248.1 512.2h0M237.2 519.3h0M239.2 510.9h0M238.8 515.5h0M239.1 516.5h0M238.6 520.6h0M253.6 512.1h0M254.7 512.8h0M247.5 519.3h0M237.3 513.9h0M244.2 508.8h0M250.2 512.2h0M255.4 513.9h0M240.6 518.7h0M250.0 505.6h0M241.4 509.1h0M253.1 507.0h0M238.2 521.8h0M244.7 511.7h0M250.6 521.1h0M254.3 511.6h0M247.7 504.4h0M246.9 509.0h0M240.0 519.2h0M241.0 510.9h0M240.3 505.2h0M251.2 506.7h0M256.2 518.5h0M239.7 519.8h0M243.2 518.1h0" stroke="#2a2a2a" stroke-width="1.5" stroke-linecap="round" fill="none"/>
<path d="M249.1 514.2h0M239.7 517.2h0M251.9 513.4h0M252.7 515.2h0M250.8 522.2h0M243.7 508.4h0M241.9 515.7h0M249.5 512.0h0M246.6 518.5h0M247.3 524.2h0M256.7 514.7h0M240.1 523.2h0" stroke="#2a2a2a" stroke-width="2" stroke-linecap="round" fill="none"/>
</g>
<g opacity="1">
<path d="M287.6 514.2h0M290.9 514.2h0M287.6 524.0h0" stroke="#fdfdfd" stroke-width="1.5" stroke-linecap="round" fill="none"/>
<path d="M281.7 507.0h0M285.0 505.7h0M286.3 510.3h0M289.6 509.6h0M279.1 518.8h0" stroke="#fdfdfd" stroke-width="2" stroke-linecap="round" fill="none"/>
<path d="M275.8 507.7h0M275.2 512.9h0M279.1 512.9h0M282.4 521.4h0M275.8 524.7h0" stroke="#fdfdfd" stroke-width="2.5" stroke-linecap="round" fill="none"/>
<path d="M281.7 516.2h0M271.3 520.1h0" stroke="#fdfdfd" stroke-width="3" stroke-linecap="round" fill="none"/>
<path d="M279.8 526.7h0" stroke="#fdfdfd" stroke-width="3.5" stroke-linecap="round" fill="none"/>
</g>
<g opacity="1">
<path d="M314.2 506.7h0" stroke="#fdfdfd" stroke-width="2" stroke-linecap="round" fill="none"/>
</g>
<circle cx="213.6" cy="555.5" r="13.8" fill="url(#gsolid3)" opacity="1"/>
<g><circle cx="249.6" cy="556.2" r="11.9" fill="#d6d6d6" opacity="1"/>
<path d="M242.4 555.8h0M251.1 552.6h0M255.9 565.4h0M248.6 547.1h0M259.3 550.4h0M246.3 559.9h0M242.9 552.5h0M240.1 557.3h0M255.4 559.5h0M244.8 548.7h0M253.3 550.2h0M247.8 567.0h0M240.9 560.8h0M258.3 550.6h0M249.7 559.2h0M245.8 551.8h0M250.8 545.6h0" stroke="#2a2a2a" stroke-width="1" stroke-linecap="round" fill="none"/>
<path d="M252.1 555.6h0M255.0 563.2h0M240.1 557.2h0M259.1 551.3h0M245.6 556.3h0M247.3 566.9h0M240.2 559.6h0M243.5 549.4h0M258.1 552.0h0M243.9 548.7h0M260.5 556.1h0M253.8 550.6h0M250.2 565.7h0M240.1 551.0h0M250.4 559.3h0M259.1 558.8h0M252.3 547.3h0M243.1 557.0h0M247.6 548.6h0M258.9 553.3h0M243.3 556.4h0M242.4 563.9h0M243.6 562.2h0M242.1 559.9h0M254.8 554.5h0M243.9 547.3h0M252.6 555.6h0M255.8 557.4h0M258.0 550.0h0M259.7 556.7h0M253.5 554.4h0" stroke="#2a2a2a" stroke-width="1.5" stroke-linecap="round" fill="none"/>
<path d="M247.5 544.9h0M254.2 566.4h0M248.5 548.4h0M251.8 558.3h0M256.7 565.0h0M241.6 548.9h0M258.6 555.4h0" stroke="#2a2a2a" stroke-width="2" stroke-linecap="round" fill="none"/>
</g>
<g opacity="1">
<path d="M278.1 541.1h0M287.6 561.4h0" stroke="#fdfdfd" stroke-width="2" stroke-linecap="round" fill="none"/>
<path d="M283.3 541.1h0M286.6 543.3h0M279.1 547.0h0M287.6 549.6h0M276.5 550.9h0M275.2 554.8h0M288.3 554.2h0M275.8 562.1h0" stroke="#fdfdfd" stroke-width="2.5" stroke-linecap="round" fill="none"/>
<path d="M290.9 547.6h0" stroke="#fdfdfd" stroke-width="3" stroke-linecap="round" fill="none"/>
<path d="M270.6 553.5h0" stroke="#fdfdfd" stroke-width="4" stroke-linecap="round" fill="none"/>
</g>
<g opacity="1">
<path d="M322.6 545.0h0" stroke="#fdfdfd" stroke-width="1" stroke-linecap="round" fill="none"/>
<path d="M324.7 561.4h0" stroke="#fdfdfd" stroke-width="1.5" stroke-linecap="round" fill="none"/>
<path d="M316.1 546.3h0M305.6 560.7h0" stroke="#fdfdfd" stroke-width="2.5" stroke-linecap="round" fill="none"/>
</g>
<circle cx="212.3" cy="598.8" r="12.5" fill="url(#gsolid3)" opacity="1"/>
<g><circle cx="246.4" cy="600.1" r="11.9" fill="#d6d6d6" opacity="1"/>
<path d="M250.1 600.6h0M253.5 595.9h0M247.0 600.8h0M242.3 599.1h0M241.4 592.6h0M244.1 605.1h0M237.0 600.5h0M246.2 608.8h0M252.2 595.2h0M251.5 610.0h0M254.6 594.0h0M250.2 596.1h0M256.9 599.1h0M247.6 597.2h0M255.4 594.7h0M248.6 597.7h0M254.3 594.5h0" stroke="#2a2a2a" stroke-width="1" stroke-linecap="round" fill="none"/>
<path d="M253.2 593.1h0M249.6 599.0h0M246.8 606.1h0M256.4 603.6h0M241.4 597.3h0M246.2 604.1h0M235.9 597.6h0M239.2 608.5h0M238.7 603.9h0M247.9 606.6h0M239.4 603.7h0M252.2 607.4h0M250.2 598.1h0M248.7 589.1h0M245.9 609.3h0M243.8 605.1h0M247.9 590.7h0M239.7 593.8h0M247.3 593.6h0M249.8 595.3h0M254.1 601.1h0M256.0 602.5h0M236.8 600.7h0M244.4 611.2h0M238.3 594.2h0" stroke="#2a2a2a" stroke-width="1.5" stroke-linecap="round" fill="none"/>
<path d="M251.2 606.8h0M255.2 598.1h0M255.6 596.5h0M247.9 592.0h0M245.0 593.0h0M254.7 602.8h0M250.6 608.3h0M244.3 604.4h0M248.5 593.3h0M241.9 602.4h0M249.4 603.2h0M252.7 601.3h0M256.6 604.5h0" stroke="#2a2a2a" stroke-width="2" stroke-linecap="round" fill="none"/>
</g>
<g opacity="1">
<path d="M284.4 611.2h0" stroke="#fdfdfd" stroke-width="1" stroke-linecap="round" fill="none"/>
<path d="M287.6 594.2h0M280.4 602.0h0" stroke="#fdfdfd" stroke-width="1.5" stroke-linecap="round" fill="none"/>
<path d="M277.2 590.0h0M280.4 588.3h0M292.2 592.2h0M274.5 594.8h0M277.2 598.8h0M276.5 606.2h0M280.4 606.0h0" stroke="#fdfdfd" stroke-width="2" stroke-linecap="round" fill="none"/>
<path d="M283.1 598.1h0" stroke="#fdfdfd" stroke-width="3" stroke-linecap="round" fill="none"/>
<path d="M290.9 602.0h0" stroke="#fdfdfd" stroke-width="4" stroke-linecap="round" fill="none"/>
</g>
<g><circle cx="319.1" cy="602.0" r="2.4" fill="#2c2c2c" opacity="1" filter="url(#bl1)"/>
</g>
</g></g>
<linearGradient id="gbg6" x1="0" y1="0" x2="1" y2="0.6"><stop offset="0" stop-color="#1d1d1d"/><stop offset="0.6" stop-color="#181818"/><stop offset="1" stop-color="#0d0d0d"/></linearGradient>
<clipPath id="clip390_455"><rect x="390.9" y="455.9" width="191.3" height="166.4"/></clipPath>
<filter id="fclip390_455" filterUnits="userSpaceOnUse" x="388.9" y="453.9" width="195.3" height="170.4"><feGaussianBlur stdDeviation="0.55"/></filter>
<g clip-path="url(#clip390_455)">
<rect x="390.9" y="455.9" width="191.3" height="166.4" fill="url(#gbg6)" />
<g filter="url(#fclip390_455)">
<circle cx="413.0" cy="478.0" r="16.4" fill="#fff" opacity="0.22" filter="url(#bl2)"/>
<circle cx="412.2" cy="475.2" r="16.4" fill="url(#gsolid2)" opacity="1"/>
<circle cx="452.4" cy="476.5" r="13.8" fill="#fff" opacity="0.18" filter="url(#bl2)"/>
<g><circle cx="451.6" cy="473.6" r="13.8" fill="url(#glawn)"/>
<path d="M461.6 468.0h0M452.2 482.8h0M455.0 471.7h0M459.3 479.7h0M455.1 463.9h0" stroke="#b0b0b0" stroke-width="1" stroke-linecap="round" fill="none"/>
<path d="M441.0 477.4h0M460.2 478.2h0M453.9 468.3h0M442.4 474.3h0" stroke="#b0b0b0" stroke-width="1.5" stroke-linecap="round" fill="none"/>
<path d="M446.2 480.0h0M454.5 462.1h0M444.8 474.0h0M447.4 467.1h0M457.5 478.9h0M460.0 466.0h0M447.8 472.8h0" stroke="#f6f6f6" stroke-width="1" stroke-linecap="round" fill="none"/>
<path d="M450.8 472.7h0M442.3 476.2h0M453.0 466.5h0M443.1 470.1h0M440.9 475.3h0M445.8 472.0h0M445.8 478.0h0M455.1 469.3h0" stroke="#f6f6f6" stroke-width="1.5" stroke-linecap="round" fill="none"/>
<path d="M462.7 474.0h0M445.7 463.4h0M456.9 481.4h0M447.0 480.0h0M456.9 464.2h0M455.1 471.6h0M445.1 477.8h0M451.4 476.5h0M445.8 463.5h0M453.1 469.8h0M451.7 462.9h0M443.4 471.8h0" stroke="#c0c0c0" stroke-width="1" stroke-linecap="round" fill="none"/>
<path d="M460.8 477.7h0M446.2 464.1h0M455.9 467.4h0M457.6 480.3h0" stroke="#c0c0c0" stroke-width="1.5" stroke-linecap="round" fill="none"/>
</g>
<circle cx="489.4" cy="477.1" r="14.2" fill="#fff" opacity="0.15" filter="url(#bl2)"/>
<g><circle cx="488.7" cy="474.2" r="13.2" fill="#6e6e6e" opacity="1"/>
<path d="M486.7 464.3h0M480.7 480.4h0M493.5 472.8h0M480.2 467.0h0M494.4 472.3h0M483.6 476.4h0M490.7 475.3h0M479.1 479.7h0M494.0 468.1h0M487.5 475.4h0M487.6 464.8h0M477.8 480.5h0M496.4 484.0h0M499.5 471.0h0M494.3 474.4h0M488.7 469.2h0M488.4 471.7h0M490.4 474.3h0M488.2 467.7h0M481.0 474.4h0M500.7 470.7h0M489.2 464.1h0M479.6 476.6h0M485.7 465.4h0M497.6 473.4h0M481.4 466.3h0M496.9 466.1h0" stroke="#fbfbfb" stroke-width="2.5" stroke-linecap="round" fill="none"/>
<path d="M484.0 478.0h0M488.1 462.1h0M480.1 466.7h0M490.6 483.8h0M499.5 480.2h0M490.7 464.6h0M491.1 475.2h0M492.9 470.5h0M479.2 466.0h0M484.8 483.4h0M487.1 478.9h0M486.6 484.0h0M483.5 469.6h0M497.7 482.2h0M491.1 486.5h0M494.2 464.6h0M492.6 481.5h0M494.5 476.8h0M494.7 479.8h0M497.6 469.9h0M489.6 479.6h0M490.6 466.5h0M501.3 476.0h0M480.4 479.5h0M494.9 476.0h0M492.3 468.1h0" stroke="#fbfbfb" stroke-width="3" stroke-linecap="round" fill="none"/>
<path d="M490.2 473.1h0M496.1 484.2h0M490.2 483.2h0M495.0 466.0h0M486.2 463.5h0M490.1 475.5h0M487.1 461.6h0M483.8 464.1h0M484.5 478.0h0M496.2 474.0h0M493.6 467.3h0M490.2 471.8h0M497.8 479.5h0M496.8 472.0h0M498.9 479.4h0M488.2 481.3h0M496.8 471.8h0M496.0 470.7h0M481.8 465.5h0M487.6 486.5h0M494.2 469.4h0M487.6 474.9h0" stroke="#fbfbfb" stroke-width="3.5" stroke-linecap="round" fill="none"/>
<path d="M479.4 473.2h0M477.8 480.3h0M488.2 462.6h0" stroke="#fbfbfb" stroke-width="4" stroke-linecap="round" fill="none"/>
</g>
<g opacity="1">
<path d="M535.8 480.1h0" stroke="#3a3a3a" stroke-width="3.5" stroke-linecap="round" fill="none"/>
<path d="M528.6 478.4h0M529.3 483.7h0M522.7 487.0h0" stroke="#3a3a3a" stroke-width="6" stroke-linecap="round" fill="none"/>
<path d="M515.5 479.8h0M528.6 489.6h0" stroke="#3a3a3a" stroke-width="6.5" stroke-linecap="round" fill="none"/>
<path d="M523.1 475.8h0" stroke="#3a3a3a" stroke-width="7.5" stroke-linecap="round" fill="none"/>
<path d="M529.9 468.6h0" stroke="#3a3a3a" stroke-width="8" stroke-linecap="round" fill="none"/>
<path d="M522.7 464.7h0" stroke="#3a3a3a" stroke-width="8.5" stroke-linecap="round" fill="none"/>
<path d="M535.4 478.6h0" stroke="#fdfdfd" stroke-width="3.5" stroke-linecap="round" fill="none"/>
<path d="M528.2 476.9h0M528.9 482.1h0M522.3 485.4h0" stroke="#fdfdfd" stroke-width="5.5" stroke-linecap="round" fill="none"/>
<path d="M515.1 478.2h0M528.2 488.0h0" stroke="#fdfdfd" stroke-width="6" stroke-linecap="round" fill="none"/>
<path d="M522.7 474.2h0" stroke="#fdfdfd" stroke-width="7" stroke-linecap="round" fill="none"/>
<path d="M529.5 467.0h0" stroke="#fdfdfd" stroke-width="7.5" stroke-linecap="round" fill="none"/>
<path d="M522.3 463.1h0" stroke="#fdfdfd" stroke-width="8" stroke-linecap="round" fill="none"/>
</g>
<g opacity="1">
<path d="M569.9 467.0h0" stroke="#3a3a3a" stroke-width="2.5" stroke-linecap="round" fill="none"/>
<path d="M561.7 473.6h0" stroke="#3a3a3a" stroke-width="10" stroke-linecap="round" fill="none"/>
<path d="M569.5 465.5h0" stroke="#fdfdfd" stroke-width="2.5" stroke-linecap="round" fill="none"/>
<path d="M561.3 472.0h0" stroke="#fdfdfd" stroke-width="9.5" stroke-linecap="round" fill="none"/>
</g>
<circle cx="410.0" cy="521.3" r="16.0" fill="#fff" opacity="0.22" filter="url(#bl2)"/>
<circle cx="409.2" cy="518.4" r="16.0" fill="url(#gsolid2)" opacity="1"/>
<circle cx="453.0" cy="517.8" r="13.8" fill="#fff" opacity="0.18" filter="url(#bl2)"/>
<g><circle cx="452.2" cy="514.9" r="13.8" fill="url(#glawn)"/>
<path d="M446.7 509.2h0M454.7 517.2h0M462.0 515.7h0M444.8 509.8h0" stroke="#b0b0b0" stroke-width="1" stroke-linecap="round" fill="none"/>
<path d="M449.2 520.1h0M450.9 503.0h0M448.0 518.7h0M449.0 512.4h0M459.9 508.9h0M457.7 509.1h0M441.6 510.7h0M462.7 511.9h0M445.8 514.5h0M448.7 522.8h0" stroke="#b0b0b0" stroke-width="1.5" stroke-linecap="round" fill="none"/>
<path d="M453.3 526.5h0M458.6 517.3h0M463.5 514.6h0M448.1 521.6h0M444.4 522.8h0M453.5 516.6h0M446.5 513.3h0M458.1 523.3h0M445.7 504.7h0M446.4 517.4h0M449.0 514.0h0M452.6 523.5h0" stroke="#f6f6f6" stroke-width="1" stroke-linecap="round" fill="none"/>
<path d="M450.2 524.9h0M452.8 519.7h0M447.6 520.7h0M458.3 519.0h0" stroke="#f6f6f6" stroke-width="1.5" stroke-linecap="round" fill="none"/>
<path d="M455.9 515.5h0M455.5 505.3h0M452.3 519.4h0M455.2 507.4h0M441.4 519.6h0M451.1 515.5h0" stroke="#c0c0c0" stroke-width="1" stroke-linecap="round" fill="none"/>
<path d="M460.9 506.8h0M461.9 521.6h0M446.9 509.5h0M451.1 508.9h0" stroke="#c0c0c0" stroke-width="1.5" stroke-linecap="round" fill="none"/>
</g>
<g opacity="1">
<path d="M449.6 515.5h0" stroke="#fdfdfd" stroke-width="4.5" stroke-linecap="round" fill="none"/>
</g>
<circle cx="488.4" cy="517.1" r="14.2" fill="#fff" opacity="0.15" filter="url(#bl2)"/>
<g><circle cx="487.6" cy="514.2" r="13.2" fill="#6e6e6e" opacity="1"/>
<path d="M481.7 507.5h0M493.2 505.9h0M488.7 503.0h0M480.2 512.7h0M479.9 514.8h0M487.2 517.7h0M479.9 514.8h0M495.5 518.4h0M479.3 512.4h0M484.2 514.2h0M481.3 508.2h0M488.4 502.8h0M489.2 505.5h0M486.5 512.9h0M479.8 506.6h0M491.2 525.1h0M475.3 513.1h0M483.4 507.6h0M477.0 514.7h0M479.6 513.4h0M484.9 521.4h0M484.1 507.7h0M496.0 516.1h0M499.8 514.0h0M488.3 511.0h0M481.5 511.1h0" stroke="#fbfbfb" stroke-width="2.5" stroke-linecap="round" fill="none"/>
<path d="M476.4 518.7h0M488.1 510.5h0M496.2 520.2h0M496.6 505.8h0M481.8 524.1h0M495.7 517.7h0M495.9 505.6h0M483.2 516.8h0M479.5 521.5h0M488.8 505.8h0M482.3 512.8h0M479.8 523.1h0M485.2 512.6h0M479.0 521.9h0M495.4 515.8h0M480.7 507.6h0M480.3 517.0h0M488.5 525.8h0M490.5 507.3h0M487.8 510.8h0M495.8 517.5h0M481.0 503.4h0" stroke="#fbfbfb" stroke-width="3" stroke-linecap="round" fill="none"/>
<path d="M483.3 507.7h0M482.8 522.6h0M487.5 521.7h0M485.0 520.8h0M480.5 517.6h0M486.5 524.0h0M487.4 505.7h0M484.0 506.1h0M482.7 525.4h0M495.8 514.9h0M484.6 515.3h0M482.5 509.9h0M488.0 522.6h0M485.0 514.2h0M481.6 520.3h0M496.3 522.0h0M480.1 523.3h0M487.6 526.4h0M487.3 520.7h0M487.5 506.5h0M484.7 515.2h0M488.5 502.5h0M487.8 513.6h0M482.9 504.0h0M484.0 504.7h0M481.0 504.5h0" stroke="#fbfbfb" stroke-width="3.5" stroke-linecap="round" fill="none"/>
<path d="M484.5 518.6h0M490.6 515.9h0M493.4 506.5h0M495.0 508.7h0" stroke="#fbfbfb" stroke-width="4" stroke-linecap="round" fill="none"/>
</g>
<g opacity="1">
<path d="M523.4 513.8h0M512.6 517.5h0" stroke="#3a3a3a" stroke-width="6.5" stroke-linecap="round" fill="none"/>
<path d="M522.1 507.3h0M531.3 506.0h0" stroke="#3a3a3a" stroke-width="7.5" stroke-linecap="round" fill="none"/>
<path d="M533.9 513.2h0M527.3 519.7h0M522.1 526.3h0" stroke="#3a3a3a" stroke-width="8" stroke-linecap="round" fill="none"/>
<path d="M523.0 512.3h0M512.2 515.9h0" stroke="#fdfdfd" stroke-width="6" stroke-linecap="round" fill="none"/>
<path d="M521.7 505.7h0M530.9 504.4h0" stroke="#fdfdfd" stroke-width="7" stroke-linecap="round" fill="none"/>
<path d="M533.5 511.6h0M526.9 518.2h0M521.7 524.7h0" stroke="#fdfdfd" stroke-width="7.5" stroke-linecap="round" fill="none"/>
</g>
<g opacity="1">
<path d="M558.8 505.3h0" stroke="#3a3a3a" stroke-width="1.5" stroke-linecap="round" fill="none"/>
<path d="M567.9 505.6h0" stroke="#3a3a3a" stroke-width="5" stroke-linecap="round" fill="none"/>
<path d="M553.3 509.2h0" stroke="#3a3a3a" stroke-width="8.5" stroke-linecap="round" fill="none"/>
<path d="M558.4 503.7h0" stroke="#fdfdfd" stroke-width="1.5" stroke-linecap="round" fill="none"/>
<path d="M567.6 504.0h0" stroke="#fdfdfd" stroke-width="5" stroke-linecap="round" fill="none"/>
<path d="M552.9 507.7h0" stroke="#fdfdfd" stroke-width="8" stroke-linecap="round" fill="none"/>
</g>
<circle cx="411.7" cy="561.4" r="15.7" fill="#fff" opacity="0.22" filter="url(#bl2)"/>
<circle cx="410.9" cy="558.5" r="15.7" fill="url(#gsolid2)" opacity="1"/>
<circle cx="451.4" cy="557.7" r="13.8" fill="#fff" opacity="0.18" filter="url(#bl2)"/>
<g><circle cx="450.6" cy="554.8" r="13.8" fill="url(#glawn)"/>
<path d="M447.8 561.4h0M446.3 565.1h0M459.6 560.7h0M451.7 544.8h0M454.0 555.4h0" stroke="#b0b0b0" stroke-width="1" stroke-linecap="round" fill="none"/>
<path d="M455.0 564.2h0M447.9 555.6h0M443.5 562.2h0" stroke="#b0b0b0" stroke-width="1.5" stroke-linecap="round" fill="none"/>
<path d="M460.8 556.4h0M454.3 544.4h0M445.8 546.1h0M457.0 550.8h0M459.6 550.0h0M446.6 553.7h0M438.5 554.9h0" stroke="#f6f6f6" stroke-width="1" stroke-linecap="round" fill="none"/>
<path d="M460.9 559.9h0M455.3 556.0h0M443.5 557.6h0M445.2 561.0h0M457.9 559.1h0M447.9 555.4h0" stroke="#f6f6f6" stroke-width="1.5" stroke-linecap="round" fill="none"/>
<path d="M452.6 560.1h0M449.9 550.2h0M457.0 549.0h0M439.5 551.8h0M450.7 555.6h0M449.5 553.7h0M460.1 561.5h0M444.6 549.8h0M444.9 560.2h0M444.5 549.5h0M461.0 549.1h0M452.1 547.0h0" stroke="#c0c0c0" stroke-width="1" stroke-linecap="round" fill="none"/>
<path d="M451.1 560.8h0M445.0 557.7h0M448.5 565.8h0M458.7 562.9h0M443.7 556.2h0M456.8 550.2h0M455.9 554.6h0" stroke="#c0c0c0" stroke-width="1.5" stroke-linecap="round" fill="none"/>
</g>
<circle cx="487.7" cy="559.0" r="14.2" fill="#fff" opacity="0.15" filter="url(#bl2)"/>
<g><circle cx="487.0" cy="556.2" r="13.2" fill="#6e6e6e" opacity="1"/>
<path d="M484.1 550.0h0M486.1 555.0h0M474.4 556.9h0M483.4 561.3h0M486.5 564.4h0M476.0 553.4h0M486.6 560.9h0M486.0 561.4h0M483.9 559.7h0M498.6 559.2h0M486.6 547.4h0M483.8 551.0h0M497.2 554.7h0M484.5 563.0h0M495.0 561.8h0M493.9 559.4h0M489.4 554.9h0M482.5 555.2h0M486.9 550.2h0" stroke="#fbfbfb" stroke-width="2.5" stroke-linecap="round" fill="none"/>
<path d="M480.9 553.3h0M488.7 557.3h0M480.1 550.6h0M494.6 549.4h0M494.7 557.9h0M489.4 550.5h0M494.7 566.1h0M496.2 548.9h0M495.8 561.2h0M492.1 547.5h0M481.8 558.5h0M481.2 562.9h0M479.9 552.1h0M477.3 562.6h0M484.2 561.7h0M487.0 547.3h0M479.5 557.8h0M477.9 551.6h0M490.3 549.3h0M487.2 564.7h0M486.5 561.2h0M491.1 566.8h0M491.6 567.3h0M478.3 554.8h0M481.3 551.6h0M498.1 554.5h0M486.4 562.3h0M478.3 549.5h0M487.3 566.2h0M483.0 548.7h0M494.7 558.0h0M494.7 555.8h0M486.7 559.6h0" stroke="#fbfbfb" stroke-width="3" stroke-linecap="round" fill="none"/>
<path d="M493.9 551.9h0M483.1 560.8h0M484.4 559.5h0M475.5 558.6h0M493.6 560.4h0M479.4 550.3h0M497.4 559.8h0M499.2 553.8h0M491.7 546.3h0M475.0 556.2h0M478.7 556.7h0M490.8 564.9h0M480.5 553.6h0M478.0 551.1h0M491.8 547.5h0M494.2 550.2h0M488.4 567.2h0M491.3 560.4h0M485.8 564.7h0M487.6 545.5h0M482.2 554.1h0M486.9 544.5h0M478.9 550.6h0M492.6 552.2h0M482.4 552.8h0" stroke="#fbfbfb" stroke-width="3.5" stroke-linecap="round" fill="none"/>
<path d="M488.6 553.7h0" stroke="#fbfbfb" stroke-width="4" stroke-linecap="round" fill="none"/>
</g>
<g opacity="1">
<path d="M523.4 564.3h0" stroke="#3a3a3a" stroke-width="2.5" stroke-linecap="round" fill="none"/>
<path d="M526.7 542.7h0" stroke="#3a3a3a" stroke-width="3.5" stroke-linecap="round" fill="none"/>
<path d="M536.5 557.1h0" stroke="#3a3a3a" stroke-width="4" stroke-linecap="round" fill="none"/>
<path d="M514.5 554.5h0" stroke="#3a3a3a" stroke-width="5" stroke-linecap="round" fill="none"/>
<path d="M517.5 559.7h0" stroke="#3a3a3a" stroke-width="6.5" stroke-linecap="round" fill="none"/>
<path d="M527.3 560.4h0" stroke="#3a3a3a" stroke-width="8.5" stroke-linecap="round" fill="none"/>
<path d="M524.7 548.6h0" stroke="#3a3a3a" stroke-width="10.5" stroke-linecap="round" fill="none"/>
<path d="M523.0 562.7h0" stroke="#fdfdfd" stroke-width="2.5" stroke-linecap="round" fill="none"/>
<path d="M526.3 541.1h0M536.1 555.5h0" stroke="#fdfdfd" stroke-width="3.5" stroke-linecap="round" fill="none"/>
<path d="M514.1 552.9h0" stroke="#fdfdfd" stroke-width="5" stroke-linecap="round" fill="none"/>
<path d="M517.1 558.1h0" stroke="#fdfdfd" stroke-width="6" stroke-linecap="round" fill="none"/>
<path d="M526.9 558.8h0" stroke="#fdfdfd" stroke-width="8" stroke-linecap="round" fill="none"/>
<path d="M524.3 547.0h0" stroke="#fdfdfd" stroke-width="10" stroke-linecap="round" fill="none"/>
</g>
<g opacity="1">
<path d="M561.7 545.7h0" stroke="#3a3a3a" stroke-width="4.5" stroke-linecap="round" fill="none"/>
<path d="M569.0 568.2h0" stroke="#3a3a3a" stroke-width="7.5" stroke-linecap="round" fill="none"/>
<path d="M561.3 544.1h0" stroke="#fdfdfd" stroke-width="4.5" stroke-linecap="round" fill="none"/>
<path d="M568.6 566.6h0" stroke="#fdfdfd" stroke-width="7" stroke-linecap="round" fill="none"/>
</g>
<g><circle cx="560.3" cy="554.2" r="1.0" fill="#555" opacity="1" filter="url(#bl1)"/>
</g>
<circle cx="415.0" cy="601.6" r="15.5" fill="#fff" opacity="0.22" filter="url(#bl2)"/>
<circle cx="414.2" cy="598.8" r="15.5" fill="url(#gsolid2)" opacity="1"/>
<circle cx="453.7" cy="601.0" r="14.2" fill="#fff" opacity="0.18" filter="url(#bl2)"/>
<g><circle cx="452.9" cy="598.1" r="14.2" fill="url(#glawn)"/>
<path d="M451.1 600.0h0M448.7 604.4h0M459.9 594.4h0M455.4 605.5h0M449.9 604.1h0M449.6 589.2h0M451.6 606.0h0" stroke="#b0b0b0" stroke-width="1" stroke-linecap="round" fill="none"/>
<path d="M459.7 595.9h0M451.1 602.7h0M452.8 588.1h0M457.7 595.4h0M449.3 588.3h0" stroke="#b0b0b0" stroke-width="1.5" stroke-linecap="round" fill="none"/>
<path d="M458.4 601.2h0M456.5 599.3h0M442.0 593.7h0" stroke="#f6f6f6" stroke-width="1" stroke-linecap="round" fill="none"/>
<path d="M452.7 606.0h0M447.2 594.1h0M452.6 599.6h0M453.6 590.9h0M445.5 592.6h0M456.5 591.1h0M450.1 586.1h0M456.1 599.0h0M448.2 600.9h0" stroke="#f6f6f6" stroke-width="1.5" stroke-linecap="round" fill="none"/>
<path d="M446.3 600.7h0M446.4 592.5h0M441.6 599.1h0M444.1 598.9h0M444.7 601.8h0M459.2 600.6h0M450.2 608.0h0M455.2 609.6h0" stroke="#c0c0c0" stroke-width="1" stroke-linecap="round" fill="none"/>
<path d="M458.1 605.7h0M445.2 597.1h0M448.6 604.4h0M445.0 590.0h0M451.0 596.6h0M444.2 593.4h0M447.1 592.4h0M460.6 601.4h0" stroke="#c0c0c0" stroke-width="1.5" stroke-linecap="round" fill="none"/>
</g>
<g opacity="1">
<path d="M448.9 597.4h0" stroke="#fdfdfd" stroke-width="4.5" stroke-linecap="round" fill="none"/>
</g>
<circle cx="488.4" cy="595.7" r="15.1" fill="#fff" opacity="0.15" filter="url(#bl2)"/>
<g><circle cx="487.6" cy="592.9" r="14.0" fill="#6e6e6e" opacity="1"/>
<path d="M478.2 587.8h0M490.5 589.5h0M484.4 580.6h0M490.7 593.2h0M497.8 587.8h0M476.8 597.6h0M495.3 588.9h0M480.0 582.0h0M498.8 599.8h0M477.6 585.0h0M486.9 579.9h0M493.6 585.5h0M498.3 600.9h0M478.5 599.9h0M485.9 594.8h0M479.0 588.2h0M484.0 584.2h0M483.4 602.6h0M481.8 594.0h0" stroke="#fbfbfb" stroke-width="2.5" stroke-linecap="round" fill="none"/>
<path d="M479.9 594.7h0M489.7 592.6h0M483.0 602.9h0M498.1 584.3h0M494.7 601.8h0M491.0 585.3h0M488.6 601.4h0M499.4 588.3h0M482.6 596.5h0M493.3 604.5h0M488.8 587.2h0M492.7 596.8h0M498.6 594.3h0M485.5 599.2h0M494.9 593.3h0M500.6 592.1h0M482.7 587.0h0M492.5 583.7h0M490.6 590.2h0M476.0 593.5h0M487.0 594.1h0M476.9 586.5h0M479.1 583.1h0M482.0 586.5h0M489.7 603.8h0M485.6 591.8h0M495.0 598.5h0M492.2 588.7h0" stroke="#fbfbfb" stroke-width="3" stroke-linecap="round" fill="none"/>
<path d="M475.7 590.1h0M482.8 604.1h0M476.8 591.7h0M497.3 599.0h0M492.4 581.6h0M475.8 596.1h0M491.0 588.3h0M492.2 585.8h0M498.3 585.5h0M487.9 597.4h0M487.7 595.8h0M490.4 579.6h0M479.0 600.2h0M481.7 594.3h0M488.3 587.9h0M480.7 584.9h0M493.9 601.9h0M492.7 604.3h0M498.7 595.4h0M480.1 582.4h0M489.2 583.7h0M497.3 588.0h0M498.5 598.9h0M500.0 597.6h0M492.8 583.8h0M477.3 585.2h0M493.2 588.7h0M498.3 599.2h0M482.2 595.8h0M492.0 598.6h0" stroke="#fbfbfb" stroke-width="3.5" stroke-linecap="round" fill="none"/>
<path d="M476.9 599.7h0M476.5 591.7h0M484.9 592.2h0" stroke="#fbfbfb" stroke-width="4" stroke-linecap="round" fill="none"/>
</g>
<g opacity="1">
<path d="M473.2 594.2h0" stroke="#fdfdfd" stroke-width="3.5" stroke-linecap="round" fill="none"/>
<path d="M479.7 579.1h0" stroke="#fdfdfd" stroke-width="5.5" stroke-linecap="round" fill="none"/>
</g>
<g opacity="1">
<path d="M531.9 591.2h0" stroke="#3a3a3a" stroke-width="2" stroke-linecap="round" fill="none"/>
<path d="M530.6 584.6h0" stroke="#3a3a3a" stroke-width="2.5" stroke-linecap="round" fill="none"/>
<path d="M530.6 598.4h0" stroke="#3a3a3a" stroke-width="3.5" stroke-linecap="round" fill="none"/>
<path d="M538.5 594.4h0" stroke="#3a3a3a" stroke-width="6.5" stroke-linecap="round" fill="none"/>
<path d="M517.1 591.2h0M517.5 602.3h0" stroke="#3a3a3a" stroke-width="8" stroke-linecap="round" fill="none"/>
<path d="M531.5 589.6h0" stroke="#fdfdfd" stroke-width="2" stroke-linecap="round" fill="none"/>
<path d="M530.2 583.0h0" stroke="#fdfdfd" stroke-width="2.5" stroke-linecap="round" fill="none"/>
<path d="M530.2 596.8h0" stroke="#fdfdfd" stroke-width="3.5" stroke-linecap="round" fill="none"/>
<path d="M538.1 592.9h0" stroke="#fdfdfd" stroke-width="6" stroke-linecap="round" fill="none"/>
<path d="M516.7 589.6h0M517.1 600.7h0" stroke="#fdfdfd" stroke-width="7.5" stroke-linecap="round" fill="none"/>
</g>
<g opacity="1">
<path d="M551.6 593.8h0" stroke="#3a3a3a" stroke-width="4" stroke-linecap="round" fill="none"/>
<path d="M551.2 592.2h0" stroke="#fdfdfd" stroke-width="3.5" stroke-linecap="round" fill="none"/>
</g>
</g></g>
<text font-size="42" font-weight="bold" transform="translate(-1.5 23)">a</text>
<text font-size="31.03" text-anchor="end" font-style="italic" transform="translate(179.2 43.8) scale(0.9346 1)">WT</text>
<text font-size="30.03" text-anchor="end" font-style="italic" transform="translate(180.5 84.9) scale(0.9524 1)">nup131<tspan font-style="normal" font-size="0.944em" dx="-0.5">Δ</tspan></text>
<text font-size="30.03" text-anchor="end" font-style="italic" transform="translate(180.5 129.1) scale(0.9524 1)">nup132<tspan font-style="normal" font-size="0.944em" dx="-0.5">Δ</tspan></text>
<text font-size="29.93" text-anchor="end" font-style="italic" transform="translate(180.5 173.3) scale(0.9524 1)">nup131<tspan font-style="normal" font-size="0.944em" dx="-0.5">Δ</tspan><tspan dx="1.5">132</tspan><tspan font-style="normal" font-size="0.944em" dx="-0.5">Δ</tspan></text>
<text font-size="31.03" text-anchor="end" font-style="italic" transform="translate(179.2 269.3) scale(0.9346 1)">WT</text>
<text font-size="30.03" text-anchor="end" font-style="italic" transform="translate(180.5 310.4) scale(0.9524 1)">nup131<tspan font-style="normal" font-size="0.944em" dx="-0.5">Δ</tspan></text>
<text font-size="30.03" text-anchor="end" font-style="italic" transform="translate(180.5 354.6) scale(0.9524 1)">nup132<tspan font-style="normal" font-size="0.944em" dx="-0.5">Δ</tspan></text>
<text font-size="29.93" text-anchor="end" font-style="italic" transform="translate(180.5 398.8) scale(0.9524 1)">nup131<tspan font-style="normal" font-size="0.944em" dx="-0.5">Δ</tspan><tspan dx="1.5">132</tspan><tspan font-style="normal" font-size="0.944em" dx="-0.5">Δ</tspan></text>
<text font-size="31.03" text-anchor="end" font-style="italic" transform="translate(179.2 488.8) scale(0.9346 1)">WT</text>
<text font-size="30.03" text-anchor="end" font-style="italic" transform="translate(180.5 529.9) scale(0.9524 1)">nup131<tspan font-style="normal" font-size="0.944em" dx="-0.5">Δ</tspan></text>
<text font-size="30.03" text-anchor="end" font-style="italic" transform="translate(180.5 574.1) scale(0.9524 1)">nup132<tspan font-style="normal" font-size="0.944em" dx="-0.5">Δ</tspan></text>
<text font-size="29.93" text-anchor="end" font-style="italic" transform="translate(180.5 618.3) scale(0.9524 1)">nup131<tspan font-style="normal" font-size="0.944em" dx="-0.5">Δ</tspan><tspan dx="1.5">132</tspan><tspan font-style="normal" font-size="0.944em" dx="-0.5">Δ</tspan></text>
<text font-size="27.81" text-anchor="middle" transform="translate(281.3 211) scale(0.9709 1)">Control</text>
<text font-size="27.81" text-anchor="middle" transform="translate(481.3 211) scale(0.9709 1)">3 mM HU</text>
<text font-size="27.81" text-anchor="middle" transform="translate(292.6 432) scale(0.9709 1)">0.0075 % MMS</text>
<text font-size="27.81" text-anchor="middle" transform="translate(485.7 432) scale(0.9709 1)">7.5 µM CPT</text>
<text font-size="27.81" text-anchor="middle" transform="translate(286.2 659.3) scale(0.9709 1)">0.5 µg/mL Bleo</text>
<text font-size="27.81" text-anchor="middle" transform="translate(478.7 661) scale(0.9709 1)">200 J/m<tspan font-size="0.63em" dy="-11">2</tspan><tspan dy="11"> UV</tspan></text>
<text font-size="42" font-weight="bold" transform="translate(-2.7 723.4)">b</text>
<line x1="208.5" y1="757.4" x2="208.5" y2="1069.7" stroke="#000" stroke-width="5"/>
<line x1="199.2" y1="1067.2" x2="671.2" y2="1067.2" stroke="#000" stroke-width="5"/>
<text font-size="31.64" text-anchor="end" transform="translate(187.2 1076.9) scale(0.9259 1)">0</text>
<line x1="199.2" y1="990.35" x2="208.5" y2="990.35" stroke="#000" stroke-width="4.4"/>
<text font-size="31.64" text-anchor="end" transform="translate(187.2 1000.05) scale(0.9259 1)">20</text>
<line x1="199.2" y1="913.5" x2="208.5" y2="913.5" stroke="#000" stroke-width="4.4"/>
<text font-size="31.64" text-anchor="end" transform="translate(187.2 923.2) scale(0.9259 1)">40</text>
<line x1="199.2" y1="836.6500000000001" x2="208.5" y2="836.6500000000001" stroke="#000" stroke-width="4.4"/>
<text font-size="31.64" text-anchor="end" transform="translate(187.2 846.35) scale(0.9259 1)">60</text>
<line x1="199.2" y1="759.8000000000001" x2="208.5" y2="759.8000000000001" stroke="#000" stroke-width="4.4"/>
<text font-size="31.64" text-anchor="end" transform="translate(187.2 769.5) scale(0.9259 1)">80</text>
<line x1="279.7" y1="1067.2" x2="279.7" y2="1076.2" stroke="#000" stroke-width="4.4"/>
<line x1="385.9" y1="1067.2" x2="385.9" y2="1076.2" stroke="#000" stroke-width="4.4"/>
<line x1="492.5" y1="1067.2" x2="492.5" y2="1076.2" stroke="#000" stroke-width="4.4"/>
<line x1="599.1" y1="1067.2" x2="599.1" y2="1076.2" stroke="#000" stroke-width="4.4"/>
<text font-size="29.87" text-anchor="middle" textLength="357.9" lengthAdjust="spacingAndGlyphs" transform="translate(98.3 912.7) rotate(-90) scale(0.9709 1)">Frequency of RFB-Induced</text>
<text font-size="29.87" text-anchor="middle" transform="translate(132.6 913.2) rotate(-90) scale(0.9709 1)">Ura<tspan font-size="0.655em" dy="-10">+</tspan><tspan dy="10"> reversion × 10</tspan><tspan font-size="0.655em" dy="-10">-5</tspan></text>
<line x1="283.1" y1="761.9" x2="493.9" y2="761.9" stroke="#000" stroke-width="4.4"/>
<line x1="277.4" y1="793.6" x2="388.3" y2="793.6" stroke="#000" stroke-width="4.4"/>
<line x1="488.3" y1="885.8" x2="598.7" y2="885.8" stroke="#000" stroke-width="4.4"/>
<text font-size="20.6" text-anchor="middle" transform="translate(388 751.3) scale(0.9709 1)"><tspan font-style="italic">p</tspan> &lt; 0.0001</text>
<text font-size="25.23" text-anchor="middle" transform="translate(335.2 789) scale(0.9709 1)">ns</text>
<text font-size="25.23" text-anchor="middle" transform="translate(542.8 878.6) scale(0.9709 1)">ns</text>
<line x1="242.5" y1="851.5" x2="316.4" y2="851.5" stroke="#d9261c" stroke-width="3.8"/>
<line x1="348.6" y1="869.1" x2="423.4" y2="869.1" stroke="#d9261c" stroke-width="3.8"/>
<line x1="455.4" y1="939" x2="529.7" y2="939" stroke="#d9261c" stroke-width="3.8"/>
<line x1="563.1" y1="938.3" x2="634.5" y2="938.3" stroke="#d9261c" stroke-width="3.8"/>
<line x1="279.7" y1="823.8" x2="279.7" y2="879.7" stroke="#000" stroke-width="2.2"/>
<line x1="261.0" y1="823.8" x2="298.4" y2="823.8" stroke="#000" stroke-width="2.2"/>
<line x1="261.0" y1="879.7" x2="298.4" y2="879.7" stroke="#000" stroke-width="2.2"/>
<circle cx="291.6" cy="811.7" r="6.6" fill="#000" />
<circle cx="267.3" cy="817.1" r="6.6" fill="#000" />
<circle cx="256" cy="850.4" r="6.6" fill="#000" />
<circle cx="279.2" cy="861.7" r="6.6" fill="#000" />
<circle cx="303.4" cy="861.7" r="6.6" fill="#000" />
<circle cx="267.3" cy="880.8" r="6.6" fill="#000" />
<circle cx="291" cy="880.8" r="6.6" fill="#000" />
<line x1="386.2" y1="840.3" x2="386.2" y2="897.3" stroke="#000" stroke-width="2.2"/>
<line x1="367.5" y1="840.3" x2="404.9" y2="840.3" stroke="#000" stroke-width="2.2"/>
<line x1="367.5" y1="897.3" x2="404.9" y2="897.3" stroke="#000" stroke-width="2.2"/>
<circle cx="386.2" cy="820.7" r="6.6" fill="#000" />
<circle cx="373.8" cy="855.6" r="6.6" fill="#000" />
<circle cx="386.2" cy="850.9" r="6.6" fill="#000" />
<circle cx="398.1" cy="872.3" r="6.6" fill="#000" />
<circle cx="362.1" cy="890.5" r="6.6" fill="#000" />
<circle cx="386.2" cy="890.5" r="6.6" fill="#000" />
<circle cx="409.4" cy="901.6" r="6.6" fill="#000" />
<line x1="493.2" y1="916.9" x2="493.2" y2="961.3" stroke="#000" stroke-width="2.2"/>
<line x1="474.5" y1="916.9" x2="511.9" y2="916.9" stroke="#000" stroke-width="2.2"/>
<line x1="474.5" y1="961.3" x2="511.9" y2="961.3" stroke="#000" stroke-width="2.2"/>
<circle cx="519.1" cy="913" r="6.6" fill="#000" />
<circle cx="501.1" cy="918" r="6.6" fill="#000" />
<circle cx="465.5" cy="925.9" r="6.6" fill="#000" />
<circle cx="483.5" cy="930.9" r="6.6" fill="#000" />
<circle cx="474.5" cy="958.6" r="6.6" fill="#000" />
<circle cx="492.1" cy="958.6" r="6.6" fill="#000" />
<circle cx="510.1" cy="966.9" r="6.6" fill="#000" />
<line x1="599.1" y1="914" x2="599.1" y2="962.6" stroke="#000" stroke-width="2.2"/>
<line x1="580.4" y1="914" x2="617.8000000000001" y2="914" stroke="#000" stroke-width="2.2"/>
<line x1="580.4" y1="962.6" x2="617.8000000000001" y2="962.6" stroke="#000" stroke-width="2.2"/>
<circle cx="610.4" cy="902.2" r="6.6" fill="#000" />
<circle cx="587.2" cy="918" r="6.6" fill="#000" />
<circle cx="575.5" cy="932" r="6.6" fill="#000" />
<circle cx="599.1" cy="938.3" r="6.6" fill="#000" />
<circle cx="622.3" cy="942.3" r="6.6" fill="#000" />
<circle cx="587.2" cy="962" r="6.6" fill="#000" />
<circle cx="610.4" cy="974.3" r="6.6" fill="#000" />
<text font-size="28.36" text-anchor="middle" font-style="italic" transform="translate(279.2 1106.9) scale(0.9346 1)">WT</text>
<text font-size="27.3" text-anchor="middle" font-style="italic" transform="translate(384.6 1106.9) scale(0.9709 1)">nup131Δ</text>
<text font-size="27.3" text-anchor="middle" font-style="italic" transform="translate(500.2 1106.9) scale(0.9709 1)">nup132Δ</text>
<text font-size="27.3" text-anchor="middle" font-style="italic" transform="translate(620.6 1106.9) scale(0.9709 1)">nup131Δ</text>
<text font-size="27.83" text-anchor="middle" font-style="italic" transform="translate(621.8 1140.6) scale(0.9524 1)">132Δ</text>
<text font-size="42" font-weight="bold" transform="translate(625.2 23)">c</text>
<line x1="708.4" y1="108" x2="708.4" y2="498.8" stroke="#000" stroke-width="4.2"/>
<line x1="698.3" y1="496.6" x2="1249.5" y2="496.6" stroke="#000" stroke-width="4.4"/>
<line x1="698.3" y1="447.03" x2="708.4" y2="447.03" stroke="#000" stroke-width="3.7"/>
<text font-size="31.03" text-anchor="end" transform="translate(686 457.43) scale(0.9346 1)">1</text>
<line x1="698.3" y1="398.86" x2="708.4" y2="398.86" stroke="#000" stroke-width="3.7"/>
<text font-size="31.03" text-anchor="end" transform="translate(686 409.26) scale(0.9346 1)">2</text>
<line x1="698.3" y1="350.69" x2="708.4" y2="350.69" stroke="#000" stroke-width="3.7"/>
<text font-size="31.03" text-anchor="end" transform="translate(686 361.09) scale(0.9346 1)">3</text>
<line x1="698.3" y1="302.52" x2="708.4" y2="302.52" stroke="#000" stroke-width="3.7"/>
<text font-size="31.03" text-anchor="end" transform="translate(686 312.92) scale(0.9346 1)">4</text>
<line x1="698.3" y1="254.34999999999997" x2="708.4" y2="254.34999999999997" stroke="#000" stroke-width="3.7"/>
<text font-size="31.03" text-anchor="end" transform="translate(686 264.75) scale(0.9346 1)">5</text>
<line x1="698.3" y1="206.18" x2="708.4" y2="206.18" stroke="#000" stroke-width="3.7"/>
<text font-size="31.03" text-anchor="end" transform="translate(686 216.58) scale(0.9346 1)">6</text>
<line x1="698.3" y1="158.01" x2="708.4" y2="158.01" stroke="#000" stroke-width="3.7"/>
<text font-size="31.03" text-anchor="end" transform="translate(686 168.41) scale(0.9346 1)">7</text>
<line x1="698.3" y1="109.83999999999997" x2="708.4" y2="109.83999999999997" stroke="#000" stroke-width="3.7"/>
<text font-size="31.03" text-anchor="end" transform="translate(686 120.24) scale(0.9346 1)">8</text>
<text font-size="31.03" text-anchor="end" transform="translate(686 505.6) scale(0.9346 1)">0</text>
<line x1="708.2" y1="496.6" x2="708.2" y2="504.8" stroke="#000" stroke-width="3.7"/>
<line x1="886.4" y1="496.6" x2="886.4" y2="504.8" stroke="#000" stroke-width="3.7"/>
<line x1="1066.4" y1="496.6" x2="1066.4" y2="504.8" stroke="#000" stroke-width="3.7"/>
<line x1="1247.7" y1="496.6" x2="1247.7" y2="504.8" stroke="#000" stroke-width="3.7"/>
<text font-size="25.75" text-anchor="middle" textLength="386.2" lengthAdjust="spacingAndGlyphs" transform="translate(646.5 304) rotate(-90) scale(0.9709 1)">Rad51 enrichment (ratio ON/OFF)</text>
<text font-size="31.35" text-anchor="middle" transform="translate(792.7 537.6) scale(0.9346 1)">–110</text>
<text font-size="31.35" text-anchor="middle" transform="translate(976.2 537.6) scale(0.9346 1)">110</text>
<text font-size="31.35" text-anchor="middle" transform="translate(1156.4 537.6) scale(0.9346 1)">400</text>
<text font-size="25.2" text-anchor="middle" transform="translate(1223.7 542) scale(0.9524 1)">bp</text>
<line x1="797.1" y1="282.4" x2="797.1" y2="320" stroke="#000" stroke-width="1.9"/>
<line x1="791.1" y1="282.4" x2="803.1" y2="282.4" stroke="#000" stroke-width="1.9"/>
<line x1="791.1" y1="320" x2="803.1" y2="320" stroke="#000" stroke-width="1.9"/>
<line x1="976.2" y1="228.6" x2="976.2" y2="302" stroke="#000" stroke-width="1.9"/>
<line x1="970.2" y1="228.6" x2="982.2" y2="228.6" stroke="#000" stroke-width="1.9"/>
<line x1="970.2" y1="302" x2="982.2" y2="302" stroke="#000" stroke-width="1.9"/>
<line x1="1156.5" y1="278.4" x2="1156.5" y2="318.7" stroke="#000" stroke-width="1.9"/>
<line x1="1150.5" y1="278.4" x2="1162.5" y2="278.4" stroke="#000" stroke-width="1.9"/>
<line x1="1150.5" y1="318.7" x2="1162.5" y2="318.7" stroke="#000" stroke-width="1.9"/>
<line x1="797.1" y1="308" x2="797.1" y2="353.7" stroke="#e2390f" stroke-width="1.9"/>
<line x1="791.1" y1="308" x2="803.1" y2="308" stroke="#e2390f" stroke-width="1.9"/>
<line x1="791.1" y1="353.7" x2="803.1" y2="353.7" stroke="#e2390f" stroke-width="1.9"/>
<line x1="976.2" y1="140.6" x2="976.2" y2="248.8" stroke="#e2390f" stroke-width="1.9"/>
<line x1="970.2" y1="140.6" x2="982.2" y2="140.6" stroke="#e2390f" stroke-width="1.9"/>
<line x1="970.2" y1="248.8" x2="982.2" y2="248.8" stroke="#e2390f" stroke-width="1.9"/>
<line x1="1156.5" y1="332.2" x2="1156.5" y2="381.2" stroke="#e2390f" stroke-width="1.9"/>
<line x1="1150.5" y1="332.2" x2="1162.5" y2="332.2" stroke="#e2390f" stroke-width="1.9"/>
<line x1="1150.5" y1="381.2" x2="1162.5" y2="381.2" stroke="#e2390f" stroke-width="1.9"/>
<line x1="797.1" y1="282.4" x2="797.1" y2="322" stroke="#1db33e" stroke-width="1.9"/>
<line x1="791.1" y1="282.4" x2="803.1" y2="282.4" stroke="#1db33e" stroke-width="1.9"/>
<line x1="791.1" y1="322" x2="803.1" y2="322" stroke="#1db33e" stroke-width="1.9"/>
<line x1="976.2" y1="205" x2="976.2" y2="240.7" stroke="#1db33e" stroke-width="1.9"/>
<line x1="970.2" y1="205" x2="982.2" y2="205" stroke="#1db33e" stroke-width="1.9"/>
<line x1="970.2" y1="240.7" x2="982.2" y2="240.7" stroke="#1db33e" stroke-width="1.9"/>
<line x1="1156.5" y1="297" x2="1156.5" y2="319.3" stroke="#1db33e" stroke-width="1.9"/>
<line x1="1150.5" y1="297" x2="1162.5" y2="297" stroke="#1db33e" stroke-width="1.9"/>
<line x1="1150.5" y1="319.3" x2="1162.5" y2="319.3" stroke="#1db33e" stroke-width="1.9"/>
<line x1="797.1" y1="252.3" x2="797.1" y2="347.8" stroke="#7f7f7f" stroke-width="1.9"/>
<line x1="791.1" y1="252.3" x2="803.1" y2="252.3" stroke="#7f7f7f" stroke-width="1.9"/>
<line x1="791.1" y1="347.8" x2="803.1" y2="347.8" stroke="#7f7f7f" stroke-width="1.9"/>
<line x1="976.2" y1="219.2" x2="976.2" y2="313.4" stroke="#7f7f7f" stroke-width="1.9"/>
<line x1="970.2" y1="219.2" x2="982.2" y2="219.2" stroke="#7f7f7f" stroke-width="1.9"/>
<line x1="970.2" y1="313.4" x2="982.2" y2="313.4" stroke="#7f7f7f" stroke-width="1.9"/>
<line x1="1156.5" y1="236.7" x2="1156.5" y2="333.5" stroke="#7f7f7f" stroke-width="1.9"/>
<line x1="1150.5" y1="236.7" x2="1162.5" y2="236.7" stroke="#7f7f7f" stroke-width="1.9"/>
<line x1="1150.5" y1="333.5" x2="1162.5" y2="333.5" stroke="#7f7f7f" stroke-width="1.9"/>
<polyline points="797.1,287.8 976.2,267.6 1156.5,298.6" fill="none" stroke="#000" stroke-width="7" stroke-linejoin="miter"/>
<circle cx="797.1" cy="287.8" r="6.4" fill="#000" />
<circle cx="976.2" cy="267.6" r="6.4" fill="#000" />
<circle cx="1156.5" cy="298.6" r="6.4" fill="#000" />
<polyline points="797.1,334.1 976.2,197.1 1156.5,357.8" fill="none" stroke="#e2390f" stroke-width="7" stroke-linejoin="miter"/>
<circle cx="797.1" cy="334.1" r="6.4" fill="#e2390f" />
<circle cx="976.2" cy="197.1" r="6.4" fill="#e2390f" />
<circle cx="1156.5" cy="357.8" r="6.4" fill="#e2390f" />
<polyline points="797.1,305.3 976.2,221.9 1156.5,309.3" fill="none" stroke="#1db33e" stroke-width="7" stroke-linejoin="miter"/>
<circle cx="797.1" cy="305.3" r="6.4" fill="#1db33e" />
<circle cx="976.2" cy="221.9" r="6.4" fill="#1db33e" />
<circle cx="1156.5" cy="309.3" r="6.4" fill="#1db33e" />
<polyline points="797.1,301.2 976.2,266.3 1156.5,285.1" fill="none" stroke="#7f7f7f" stroke-width="7" stroke-linejoin="miter"/>
<circle cx="797.1" cy="301.2" r="6.4" fill="#7f7f7f" />
<circle cx="976.2" cy="266.3" r="6.4" fill="#7f7f7f" />
<circle cx="1156.5" cy="285.1" r="6.4" fill="#7f7f7f" />
<line x1="769.4" y1="420.2" x2="814.3" y2="420.2" stroke="#000" stroke-width="4.3"/>
<line x1="769.4" y1="461.1" x2="814.3" y2="461.1" stroke="#d9381e" stroke-width="4"/>
<line x1="967.3" y1="420.2" x2="1012.5" y2="420.2" stroke="#10a651" stroke-width="4"/>
<line x1="967.3" y1="461.1" x2="1012.5" y2="461.1" stroke="#7f7f7f" stroke-width="4"/>
<text font-size="29.96" font-style="italic" transform="translate(826 429) scale(0.9346 1)">WT</text>
<text font-size="28.84" font-style="italic" textLength="116.4" lengthAdjust="spacingAndGlyphs" transform="translate(826 469.3) scale(0.9709 1)">nup131Δ</text>
<text font-size="28.84" font-style="italic" textLength="117.4" lengthAdjust="spacingAndGlyphs" transform="translate(1022.6 429) scale(0.9709 1)">nup132Δ</text>
<text font-size="28.84" font-style="italic" textLength="187.5" lengthAdjust="spacingAndGlyphs" transform="translate(1022.6 469.3) scale(0.9709 1)">nup131Δ132Δ</text>
<rect x="737.4" y="558.4" width="160" height="7.6" fill="#c9cac9" />
<rect x="807" y="558.4" width="90" height="7.6" fill="#c3c4c3" />
<rect x="936" y="558.4" width="281.8" height="7.6" fill="#141414" />
<rect x="896.2" y="558.4" width="40" height="7.6" fill="#8d7fd3" />
<rect x="896.2" y="548.4" width="6.6" height="27" fill="#8d7fd3" />
<text font-size="25.23" fill="#8d7fd3" transform="translate(905.6 591.7) scale(0.9709 1)">RFB</text>
<rect x="1324.7" y="466.6" width="31.2" height="30.4" fill="#4f4f4f" stroke="#1c1c1c" stroke-width="2.4" />
<rect x="1374.8" y="468.3" width="32.1" height="28.9" fill="#e2390f" />
<rect x="1425.1" y="436.4" width="31.7" height="60.8" fill="#1db33e" />
<rect x="1474.5" y="484.8" width="32.5" height="12.4" fill="#808080" />
<line x1="1303.8" y1="111.3" x2="1303.8" y2="499.3" stroke="#000" stroke-width="4.2"/>
<line x1="1296.1" y1="497.2" x2="1513.4" y2="497.2" stroke="#000" stroke-width="4.2"/>
<text font-size="31.03" text-anchor="end" transform="translate(1285.8 506.7) scale(0.9346 1)">0</text>
<line x1="1296.1" y1="448.92999999999995" x2="1303.9" y2="448.92999999999995" stroke="#000" stroke-width="3.6"/>
<text font-size="31.03" text-anchor="end" transform="translate(1285.8 458.73) scale(0.9346 1)">1</text>
<line x1="1296.1" y1="400.96" x2="1303.9" y2="400.96" stroke="#000" stroke-width="3.6"/>
<text font-size="31.03" text-anchor="end" transform="translate(1285.8 410.76) scale(0.9346 1)">2</text>
<line x1="1296.1" y1="352.99" x2="1303.9" y2="352.99" stroke="#000" stroke-width="3.6"/>
<text font-size="31.03" text-anchor="end" transform="translate(1285.8 362.79) scale(0.9346 1)">3</text>
<line x1="1296.1" y1="305.02" x2="1303.9" y2="305.02" stroke="#000" stroke-width="3.6"/>
<text font-size="31.03" text-anchor="end" transform="translate(1285.8 314.82) scale(0.9346 1)">4</text>
<line x1="1296.1" y1="257.04999999999995" x2="1303.9" y2="257.04999999999995" stroke="#000" stroke-width="3.6"/>
<text font-size="31.03" text-anchor="end" transform="translate(1285.8 266.85) scale(0.9346 1)">5</text>
<line x1="1296.1" y1="209.07999999999998" x2="1303.9" y2="209.07999999999998" stroke="#000" stroke-width="3.6"/>
<text font-size="31.03" text-anchor="end" transform="translate(1285.8 218.88) scale(0.9346 1)">6</text>
<line x1="1296.1" y1="161.11" x2="1303.9" y2="161.11" stroke="#000" stroke-width="3.6"/>
<text font-size="31.03" text-anchor="end" transform="translate(1285.8 170.91) scale(0.9346 1)">7</text>
<line x1="1296.1" y1="113.13999999999999" x2="1303.9" y2="113.13999999999999" stroke="#000" stroke-width="3.6"/>
<text font-size="31.03" text-anchor="end" transform="translate(1285.8 122.94) scale(0.9346 1)">8</text>
<line x1="1341.3" y1="453.8" x2="1341.3" y2="476.4" stroke="#000" stroke-width="2"/>
<line x1="1331.6" y1="453.8" x2="1351.0" y2="453.8" stroke="#000" stroke-width="2"/>
<line x1="1331.6" y1="476.4" x2="1351.0" y2="476.4" stroke="#000" stroke-width="2"/>
<line x1="1390" y1="452.9" x2="1390" y2="484.8" stroke="#000" stroke-width="2"/>
<line x1="1380.3" y1="452.9" x2="1399.7" y2="452.9" stroke="#000" stroke-width="2"/>
<line x1="1380.3" y1="484.8" x2="1399.7" y2="484.8" stroke="#000" stroke-width="2"/>
<line x1="1440.7" y1="409.3" x2="1440.7" y2="463.8" stroke="#000" stroke-width="2"/>
<line x1="1431.0" y1="409.3" x2="1450.4" y2="409.3" stroke="#000" stroke-width="2"/>
<line x1="1431.0" y1="463.8" x2="1450.4" y2="463.8" stroke="#000" stroke-width="2"/>
<line x1="1489.9" y1="479.6" x2="1489.9" y2="488" stroke="#000" stroke-width="2"/>
<line x1="1480.2" y1="479.6" x2="1499.6000000000001" y2="479.6" stroke="#000" stroke-width="2"/>
<line x1="1480.2" y1="488" x2="1499.6000000000001" y2="488" stroke="#000" stroke-width="2"/>
<circle cx="1341.3" cy="435.3" r="6.2" fill="#0d0d0d" />
<circle cx="1327.2" cy="467.1" r="6.2" fill="#0d0d0d" />
<circle cx="1355.8" cy="468.7" r="6.2" fill="#0d0d0d" />
<circle cx="1341.3" cy="489.6" r="6.2" fill="#0d0d0d" />
<circle cx="1390" cy="433.7" r="6.2" fill="#0d0d0d" />
<circle cx="1375.9" cy="465.9" r="6.2" fill="#0d0d0d" />
<circle cx="1404.1" cy="463" r="6.2" fill="#0d0d0d" />
<circle cx="1390" cy="495.3" r="6.2" fill="#0d0d0d" />
<circle cx="1440.7" cy="398.5" r="6.2" fill="#0d0d0d" />
<circle cx="1440.7" cy="421.4" r="6.2" fill="#0d0d0d" />
<circle cx="1440.7" cy="489.6" r="6.2" fill="#0d0d0d" />
<circle cx="1489.9" cy="475.1" r="6.2" fill="#0d0d0d" />
<circle cx="1475.9" cy="488.8" r="6.2" fill="#0d0d0d" />
<circle cx="1504.4" cy="488.3" r="6.2" fill="#0d0d0d" />
<text font-size="29.87" text-anchor="middle" font-style="italic" transform="translate(1420.3 143.6) scale(0.9709 1)">ade6</text>
<text font-size="29.87" text-anchor="middle" transform="translate(1418.3 178.3) scale(0.9709 1)">control locus</text>
<text font-size="24.72" text-anchor="middle" transform="translate(1346.2 246.5) rotate(-90) scale(0.9709 1)"><tspan font-style="italic">n</tspan> = 4</text>
<text font-size="24.72" text-anchor="middle" transform="translate(1392.6 246.5) rotate(-90) scale(0.9709 1)"><tspan font-style="italic">n</tspan> = 4</text>
<text font-size="24.72" text-anchor="middle" transform="translate(1442.8 246.5) rotate(-90) scale(0.9709 1)"><tspan font-style="italic">n</tspan> = 3</text>
<text font-size="24.72" text-anchor="middle" transform="translate(1491.7 246.5) rotate(-90) scale(0.9709 1)"><tspan font-style="italic">n</tspan> = 3</text>
<text font-size="31.03" text-anchor="end" font-style="italic" transform="translate(1351.1 513) rotate(-90) scale(0.9346 1)">WT</text>
<text font-size="29.46" text-anchor="end" font-style="italic" transform="translate(1398.5 512.3) rotate(-90) scale(0.9709 1)">nup131Δ</text>
<text font-size="29.46" text-anchor="end" font-style="italic" transform="translate(1448.5 512.3) rotate(-90) scale(0.9709 1)">nup132Δ</text>
<text font-size="29.46" text-anchor="end" font-style="italic" transform="translate(1490 512.3) rotate(-90) scale(0.9709 1)">nup131Δ</text>
<text font-size="29.46" text-anchor="end" font-style="italic" transform="translate(1525.4 512.3) rotate(-90) scale(0.9709 1)">132Δ</text>
<text font-size="41.5" font-weight="bold" transform="translate(768.3 725)">d</text>
<rect x="909.1" y="784.2" width="25.7" height="287.6" fill="#f28022" />
<rect x="946.8" y="894" width="25.9" height="177.8" fill="#6c9fd3" />
<rect x="984.8" y="893.5" width="25.9" height="178.3" fill="#a1a1a1" />
<rect x="1048.2" y="808" width="25.6" height="263.8" fill="#f28022" />
<rect x="1086.2" y="883" width="25.6" height="188.8" fill="#6c9fd3" />
<rect x="1124.1" y="891.4" width="25.5" height="180.4" fill="#a1a1a1" />
<rect x="1186.8" y="789.6" width="26.2" height="282.2" fill="#f28022" />
<rect x="1225" y="888.1" width="26" height="183.7" fill="#6c9fd3" />
<rect x="1263" y="883" width="26.2" height="188.8" fill="#a1a1a1" />
<rect x="1326.1" y="870.9" width="26.0" height="200.9" fill="#f28022" />
<rect x="1364.1" y="886.3" width="25.9" height="185.5" fill="#6c9fd3" />
<rect x="1402.1" y="879.1" width="25.9" height="192.7" fill="#a1a1a1" />
<line x1="895.6" y1="745.2" x2="895.6" y2="1074.1" stroke="#000" stroke-width="4.7"/>
<line x1="889.2" y1="1071.8" x2="1442.5" y2="1071.8" stroke="#000" stroke-width="4.6"/>
<text font-size="31.38" text-anchor="end" transform="translate(877.6 1081.9) scale(0.9497 1)">0</text>
<line x1="889.2" y1="1031.1399999999999" x2="895.6" y2="1031.1399999999999" stroke="#000" stroke-width="3.4"/>
<text font-size="31.38" text-anchor="end" transform="translate(877.6 1041.24) scale(0.9497 1)">10</text>
<line x1="889.2" y1="990.48" x2="895.6" y2="990.48" stroke="#000" stroke-width="3.4"/>
<text font-size="31.38" text-anchor="end" transform="translate(877.6 1000.58) scale(0.9497 1)">20</text>
<line x1="889.2" y1="949.8199999999999" x2="895.6" y2="949.8199999999999" stroke="#000" stroke-width="3.4"/>
<text font-size="31.38" text-anchor="end" transform="translate(877.6 959.92) scale(0.9497 1)">30</text>
<line x1="889.2" y1="909.16" x2="895.6" y2="909.16" stroke="#000" stroke-width="3.4"/>
<text font-size="31.38" text-anchor="end" transform="translate(877.6 919.26) scale(0.9497 1)">40</text>
<line x1="889.2" y1="868.5" x2="895.6" y2="868.5" stroke="#000" stroke-width="3.4"/>
<text font-size="31.38" text-anchor="end" transform="translate(877.6 878.6) scale(0.9497 1)">50</text>
<line x1="889.2" y1="827.8399999999999" x2="895.6" y2="827.8399999999999" stroke="#000" stroke-width="3.4"/>
<text font-size="31.38" text-anchor="end" transform="translate(877.6 837.94) scale(0.9497 1)">60</text>
<line x1="889.2" y1="787.18" x2="895.6" y2="787.18" stroke="#000" stroke-width="3.4"/>
<text font-size="31.38" text-anchor="end" transform="translate(877.6 797.28) scale(0.9497 1)">70</text>
<line x1="889.2" y1="746.52" x2="895.6" y2="746.52" stroke="#000" stroke-width="3.4"/>
<text font-size="31.38" text-anchor="end" transform="translate(877.6 756.62) scale(0.9497 1)">80</text>
<line x1="895" y1="1071.8" x2="895" y2="1078.8" stroke="#000" stroke-width="3.6"/>
<line x1="1030.2" y1="1071.8" x2="1030.2" y2="1078.8" stroke="#000" stroke-width="3.6"/>
<line x1="1169.4" y1="1071.8" x2="1169.4" y2="1078.8" stroke="#000" stroke-width="3.6"/>
<line x1="1307.4" y1="1071.8" x2="1307.4" y2="1078.8" stroke="#000" stroke-width="3.6"/>
<line x1="1440.9" y1="1071.8" x2="1440.9" y2="1078.8" stroke="#000" stroke-width="3.6"/>
<text font-size="29.87" text-anchor="middle" textLength="345.1" lengthAdjust="spacingAndGlyphs" transform="translate(789 910) rotate(-90) scale(0.9709 1)">Co-localization in S-phase</text>
<text font-size="29.87" text-anchor="middle" transform="translate(823.9 908.1) rotate(-90) scale(0.9709 1)">%</text>
<ellipse cx="921.4" cy="784.9" rx="5.6" ry="4.5" fill="#000" />
<ellipse cx="959.7" cy="894" rx="5.6" ry="4.5" fill="#000" />
<ellipse cx="997.6" cy="893.5" rx="5.6" ry="4.5" fill="#000" />
<ellipse cx="1061" cy="799.8" rx="5.6" ry="4.5" fill="#000" />
<ellipse cx="1061" cy="815.7" rx="5.6" ry="4.5" fill="#000" />
<ellipse cx="1099" cy="873" rx="5.6" ry="4.5" fill="#000" />
<ellipse cx="1099" cy="892.7" rx="5.6" ry="4.5" fill="#000" />
<ellipse cx="1137.5" cy="885.5" rx="5.6" ry="4.5" fill="#000" />
<ellipse cx="1137.5" cy="896.6" rx="5.6" ry="4.5" fill="#000" />
<ellipse cx="1192.5" cy="791.9" rx="5.6" ry="4.5" fill="#000" />
<ellipse cx="1207.3" cy="787.5" rx="5.6" ry="4.5" fill="#000" />
<ellipse cx="1237.9" cy="880.7" rx="5.6" ry="4.5" fill="#000" />
<ellipse cx="1237.9" cy="897.1" rx="5.6" ry="4.5" fill="#000" />
<ellipse cx="1275.9" cy="874" rx="5.6" ry="4.5" fill="#000" />
<ellipse cx="1275.9" cy="893.2" rx="5.6" ry="4.5" fill="#000" />
<ellipse cx="1331.5" cy="874" rx="5.6" ry="4.5" fill="#000" />
<ellipse cx="1346.9" cy="868.9" rx="5.6" ry="4.5" fill="#000" />
<ellipse cx="1369.5" cy="889.1" rx="5.6" ry="4.5" fill="#000" />
<ellipse cx="1384.4" cy="885.5" rx="5.6" ry="4.5" fill="#000" />
<ellipse cx="1415.2" cy="874.2" rx="5.6" ry="4.5" fill="#000" />
<ellipse cx="1415.2" cy="885.5" rx="5.6" ry="4.5" fill="#000" />
<line x1="923.2" y1="770.8" x2="966.1" y2="770.8" stroke="#000" stroke-width="4.4"/>
<text font-size="17.84" text-anchor="middle" transform="translate(953 765.2) scale(1.0204 1)"><tspan font-style="italic">p</tspan> = 0.0001</text>
<line x1="1061.8" y1="781.6" x2="1104.9" y2="781.6" stroke="#000" stroke-width="4.4"/>
<text font-size="17.84" text-anchor="middle" transform="translate(1083.2 772.4) scale(1.0204 1)"><tspan font-style="italic">p</tspan> = 0.0012</text>
<line x1="1202" y1="772.9" x2="1244.5" y2="772.9" stroke="#000" stroke-width="4.4"/>
<text font-size="17.84" text-anchor="middle" transform="translate(1232 763.4) scale(1.0204 1)"><tspan font-style="italic">p</tspan> = 0.0025</text>
<line x1="1335.6" y1="849.4" x2="1378" y2="849.4" stroke="#000" stroke-width="4.4"/>
<text font-size="25.75" text-anchor="middle" transform="translate(1353.5 844.5) scale(0.9709 1)">ns</text>
<rect x="1306.1" y="715.1" width="17.7" height="17.3" fill="#f28022" />
<rect x="1306.1" y="747" width="17.7" height="17.4" fill="#6c9fd3" />
<rect x="1306.1" y="782.9" width="17.7" height="17.4" fill="#a1a1a1" />
<text font-size="31.14" transform="translate(1335.2 734.9) scale(0.9217 1)">RFB ON</text>
<text font-size="31.14" transform="translate(1335.2 765.7) scale(0.9217 1)">RFB OFF</text>
<text font-size="30.71" transform="translate(1335.2 800.9) scale(0.9346 1)">no RFB</text>
<text font-size="28.89" text-anchor="middle" font-style="italic" transform="translate(959.6 1107.2) scale(0.9346 1)">WT</text>
<text font-size="28.35" text-anchor="middle" font-style="italic" transform="translate(1099.2 1107.2) scale(0.9524 1)">nup131<tspan font-style="normal" font-size="0.944em">Δ</tspan></text>
<text font-size="28.35" text-anchor="middle" font-style="italic" transform="translate(1237.7 1107.2) scale(0.9524 1)">nup132<tspan font-style="normal" font-size="0.944em">Δ</tspan></text>
<text font-size="28.35" text-anchor="middle" font-style="italic" transform="translate(1377.4 1107.2) scale(0.9524 1)">nup131<tspan font-style="normal" font-size="0.944em">Δ</tspan></text>
<text font-size="28.36" text-anchor="middle" font-style="italic" transform="translate(1378.6 1140.6) scale(0.9346 1)">132<tspan font-style="normal" font-size="0.944em">Δ</tspan></text>
<text font-size="43" font-weight="bold" transform="translate(-1.6 1198.2)">e</text>
<rect x="321.4" y="1221" width="34.6" height="12.4" fill="#6c9fd3" stroke="#1a1a1a" stroke-width="0.9" />
<text font-size="31.14" transform="translate(368.6 1235.5) scale(0.9217 1)">RFB OFF</text>
<rect x="515.9" y="1221" width="34.2" height="12.4" fill="#f28022" stroke="#1a1a1a" stroke-width="0.9" />
<text font-size="31.14" transform="translate(561.2 1235.5) scale(0.9217 1)">RFB ON</text>
<rect x="850.2" y="1220.6" width="93" height="8.4" fill="#c4c5c4" />
<rect x="983" y="1220.6" width="193" height="8.4" fill="#141414" />
<rect x="942.7" y="1220.6" width="40.6" height="8.4" fill="#8d7fd3" />
<rect x="942.7" y="1210.6" width="7.9" height="28.3" fill="#8d7fd3" />
<text font-size="24.51" font-weight="bold" fill="#8d7fd3" transform="translate(957 1207.2) scale(0.9709 1)">RFB</text>
<text font-size="31.32" text-anchor="middle" transform="translate(901.3 1256.5) scale(0.9259 1)">–110</text>
<text font-size="31.32" text-anchor="middle" transform="translate(1006.3 1256.5) scale(0.9259 1)">110</text>
<text font-size="31.32" text-anchor="middle" transform="translate(1100.3 1256.5) scale(0.9259 1)">400</text>
<text font-size="30.16" text-anchor="middle" transform="translate(1157 1256.5) scale(0.9615 1)">bp</text>
<text font-size="29.87" text-anchor="middle" textLength="212.9" lengthAdjust="spacingAndGlyphs" transform="translate(77.4 1433.1) rotate(-90) scale(0.9709 1)">Fold enrichment</text>
<rect x="165.4" y="1460.2" width="23.1" height="97.1" fill="#6c9fd3" stroke="#3c3c3c" stroke-width="0.8" />
<rect x="201.0" y="1390.0" width="23.4" height="167.3" fill="#f28022" stroke="#3c3c3c" stroke-width="0.8" />
<rect x="260.8" y="1468.9" width="23.3" height="88.4" fill="#6c9fd3" stroke="#3c3c3c" stroke-width="0.8" />
<rect x="296.9" y="1418.1" width="23.3" height="139.2" fill="#f28022" stroke="#3c3c3c" stroke-width="0.8" />
<rect x="356.6" y="1463.4" width="23.4" height="93.9" fill="#6c9fd3" stroke="#3c3c3c" stroke-width="0.8" />
<rect x="392.7" y="1409.1" width="23.4" height="148.2" fill="#f28022" stroke="#3c3c3c" stroke-width="0.8" />
<rect x="465.6" y="1463.4" width="23.6" height="93.9" fill="#6c9fd3" stroke="#3c3c3c" stroke-width="0.8" />
<rect x="501.2" y="1469.1" width="23.6" height="88.2" fill="#f28022" stroke="#3c3c3c" stroke-width="0.8" />
<line x1="152.8" y1="1308.6" x2="152.8" y2="1558.8000000000002" stroke="#000" stroke-width="4.2"/>
<line x1="146.2" y1="1557.5" x2="525.4" y2="1557.5" stroke="#000" stroke-width="4.3"/>
<text font-size="31.93" text-anchor="end" transform="translate(133.8 1567.8) scale(0.9302 1)">0.0</text>
<line x1="146.2" y1="1507.4" x2="152.8" y2="1507.4" stroke="#000" stroke-width="3.7"/>
<text font-size="31.93" text-anchor="end" transform="translate(133.8 1518.3) scale(0.9302 1)">0.5</text>
<line x1="146.2" y1="1457.9" x2="152.8" y2="1457.9" stroke="#000" stroke-width="3.7"/>
<text font-size="31.93" text-anchor="end" transform="translate(133.8 1468.8) scale(0.9302 1)">1.0</text>
<line x1="146.2" y1="1408.4" x2="152.8" y2="1408.4" stroke="#000" stroke-width="3.7"/>
<text font-size="31.93" text-anchor="end" transform="translate(133.8 1419.3) scale(0.9302 1)">1.5</text>
<line x1="146.2" y1="1358.9" x2="152.8" y2="1358.9" stroke="#000" stroke-width="3.7"/>
<text font-size="31.93" text-anchor="end" transform="translate(133.8 1369.8) scale(0.9302 1)">2.0</text>
<line x1="146.2" y1="1309.4" x2="152.8" y2="1309.4" stroke="#000" stroke-width="3.7"/>
<text font-size="31.93" text-anchor="end" transform="translate(133.8 1320.3) scale(0.9302 1)">2.5</text>
<line x1="194.4" y1="1556.9" x2="194.4" y2="1563.9" stroke="#000" stroke-width="3.6"/>
<line x1="290.2" y1="1556.9" x2="290.2" y2="1563.9" stroke="#000" stroke-width="3.6"/>
<line x1="386.1" y1="1556.9" x2="386.1" y2="1563.9" stroke="#000" stroke-width="3.6"/>
<line x1="213.1" y1="1374.1" x2="213.1" y2="1404.5" stroke="#000" stroke-width="2.6"/>
<line x1="207.29999999999998" y1="1374.1" x2="218.9" y2="1374.1" stroke="#000" stroke-width="2.6"/>
<line x1="207.29999999999998" y1="1404.5" x2="218.9" y2="1404.5" stroke="#000" stroke-width="2.6"/>
<line x1="272.8" y1="1451.3" x2="272.8" y2="1486.2" stroke="#000" stroke-width="2.6"/>
<line x1="267.0" y1="1451.3" x2="278.6" y2="1451.3" stroke="#000" stroke-width="2.6"/>
<line x1="267.0" y1="1486.2" x2="278.6" y2="1486.2" stroke="#000" stroke-width="2.6"/>
<line x1="308.4" y1="1397.5" x2="308.4" y2="1435.6" stroke="#000" stroke-width="2.6"/>
<line x1="302.59999999999997" y1="1397.5" x2="314.2" y2="1397.5" stroke="#000" stroke-width="2.6"/>
<line x1="302.59999999999997" y1="1435.6" x2="314.2" y2="1435.6" stroke="#000" stroke-width="2.6"/>
<line x1="369.2" y1="1450.6" x2="369.2" y2="1473.5" stroke="#000" stroke-width="2.6"/>
<line x1="363.4" y1="1450.6" x2="375.0" y2="1450.6" stroke="#000" stroke-width="2.6"/>
<line x1="363.4" y1="1473.5" x2="375.0" y2="1473.5" stroke="#000" stroke-width="2.6"/>
<line x1="404.5" y1="1383.3" x2="404.5" y2="1429.4" stroke="#000" stroke-width="2.6"/>
<line x1="398.7" y1="1383.3" x2="410.3" y2="1383.3" stroke="#000" stroke-width="2.6"/>
<line x1="398.7" y1="1429.4" x2="410.3" y2="1429.4" stroke="#000" stroke-width="2.6"/>
<line x1="477.9" y1="1434.9" x2="477.9" y2="1491" stroke="#000" stroke-width="2.6"/>
<line x1="472.09999999999997" y1="1434.9" x2="483.7" y2="1434.9" stroke="#000" stroke-width="2.6"/>
<line x1="472.09999999999997" y1="1491" x2="483.7" y2="1491" stroke="#000" stroke-width="2.6"/>
<line x1="513.8" y1="1451.8" x2="513.8" y2="1483.7" stroke="#000" stroke-width="2.6"/>
<line x1="507.99999999999994" y1="1451.8" x2="519.5999999999999" y2="1451.8" stroke="#000" stroke-width="2.6"/>
<line x1="507.99999999999994" y1="1483.7" x2="519.5999999999999" y2="1483.7" stroke="#000" stroke-width="2.6"/>
<circle cx="169.5" cy="1460.5" r="5.35" fill="#000" />
<circle cx="176.5" cy="1456.8" r="5.35" fill="#000" />
<circle cx="183.7" cy="1459.8" r="5.35" fill="#000" />
<circle cx="206.1" cy="1380.8" r="5.35" fill="#000" />
<circle cx="220.5" cy="1381.3" r="5.35" fill="#000" />
<circle cx="213.1" cy="1404.5" r="5.35" fill="#000" />
<circle cx="272.8" cy="1451.3" r="5.35" fill="#000" />
<circle cx="272.8" cy="1468.5" r="5.35" fill="#000" />
<circle cx="272.8" cy="1486.2" r="5.35" fill="#000" />
<circle cx="308.4" cy="1397.5" r="5.35" fill="#000" />
<circle cx="301.5" cy="1431.4" r="5.35" fill="#000" />
<circle cx="315.4" cy="1424.4" r="5.35" fill="#000" />
<circle cx="369.2" cy="1450.6" r="5.35" fill="#000" />
<circle cx="361.7" cy="1472.2" r="5.35" fill="#000" />
<circle cx="376.2" cy="1464.3" r="5.35" fill="#000" />
<circle cx="404.5" cy="1383.3" r="5.35" fill="#000" />
<circle cx="404.5" cy="1412.5" r="5.35" fill="#000" />
<circle cx="404.5" cy="1428.9" r="5.35" fill="#000" />
<circle cx="477.9" cy="1442.4" r="5.35" fill="#000" />
<circle cx="477.9" cy="1453.1" r="5.35" fill="#000" />
<circle cx="477.9" cy="1493.6" r="5.35" fill="#000" />
<circle cx="513.8" cy="1451.8" r="5.35" fill="#000" />
<circle cx="507.1" cy="1480" r="5.35" fill="#000" />
<circle cx="520.8" cy="1473" r="5.35" fill="#000" />
<text font-size="32.08" text-anchor="middle" transform="translate(194.4 1598.7) scale(0.9259 1)">–110</text>
<text font-size="32.08" text-anchor="middle" transform="translate(291.5 1598.7) scale(0.9259 1)">110</text>
<text font-size="32.08" text-anchor="middle" transform="translate(385.2 1598.7) scale(0.9259 1)">400</text>
<text font-size="32.08" text-anchor="middle" transform="translate(494.6 1598.7) scale(0.9259 1)">ade6</text>
<line x1="173.7" y1="1359.2" x2="224.8" y2="1359.2" stroke="#000" stroke-width="4"/>
<text font-size="17.84" text-anchor="middle" transform="translate(204.7 1348.5) scale(1.0204 1)"><tspan font-style="italic">p</tspan> = 0.001</text>
<line x1="269.1" y1="1379.4" x2="320.1" y2="1379.4" stroke="#000" stroke-width="4"/>
<text font-size="17.84" text-anchor="middle" transform="translate(298.1 1369.2) scale(1.0204 1)"><tspan font-style="italic">p</tspan> = 0.0225</text>
<line x1="361.7" y1="1368.4" x2="412.8" y2="1368.4" stroke="#000" stroke-width="4"/>
<text font-size="17.84" text-anchor="middle" transform="translate(399.3 1360) scale(1.0204 1)"><tspan font-style="italic">p</tspan> = 0.0196</text>
<text font-size="31.06" text-anchor="end" font-style="italic" transform="translate(515.4 1316.1) scale(0.9434 1)">WT</text>
<text font-size="30.6" text-anchor="end" transform="translate(520.6 1345.1) scale(0.9346 1)"><tspan font-style="italic">n</tspan> = 3</text>
<rect x="635.7" y="1464.7" width="23.6" height="92.6" fill="#6c9fd3" stroke="#3c3c3c" stroke-width="0.8" />
<rect x="671.8" y="1401.7" width="23.6" height="155.6" fill="#f28022" stroke="#3c3c3c" stroke-width="0.8" />
<rect x="732.1" y="1470.9" width="23.6" height="86.4" fill="#6c9fd3" stroke="#3c3c3c" stroke-width="0.8" />
<rect x="767.9" y="1411.1" width="23.3" height="146.2" fill="#f28022" stroke="#3c3c3c" stroke-width="0.8" />
<rect x="827.6" y="1464.7" width="23.4" height="92.6" fill="#6c9fd3" stroke="#3c3c3c" stroke-width="0.8" />
<rect x="863.7" y="1393.0" width="23.4" height="164.3" fill="#f28022" stroke="#3c3c3c" stroke-width="0.8" />
<rect x="935.9" y="1456.7" width="23.4" height="100.6" fill="#6c9fd3" stroke="#3c3c3c" stroke-width="0.8" />
<rect x="972.1" y="1451.0" width="23.3" height="106.3" fill="#f28022" stroke="#3c3c3c" stroke-width="0.8" />
<line x1="623.8" y1="1308.6" x2="623.8" y2="1558.8000000000002" stroke="#000" stroke-width="4.2"/>
<line x1="617.1" y1="1557.5" x2="996" y2="1557.5" stroke="#000" stroke-width="4.3"/>
<text font-size="31.93" text-anchor="end" transform="translate(605.2 1567.8) scale(0.9302 1)">0.0</text>
<line x1="617.1" y1="1507.4" x2="623.8" y2="1507.4" stroke="#000" stroke-width="3.7"/>
<text font-size="31.93" text-anchor="end" transform="translate(605.2 1518.3) scale(0.9302 1)">0.5</text>
<line x1="617.1" y1="1457.9" x2="623.8" y2="1457.9" stroke="#000" stroke-width="3.7"/>
<text font-size="31.93" text-anchor="end" transform="translate(605.2 1468.8) scale(0.9302 1)">1.0</text>
<line x1="617.1" y1="1408.4" x2="623.8" y2="1408.4" stroke="#000" stroke-width="3.7"/>
<text font-size="31.93" text-anchor="end" transform="translate(605.2 1419.3) scale(0.9302 1)">1.5</text>
<line x1="617.1" y1="1358.9" x2="623.8" y2="1358.9" stroke="#000" stroke-width="3.7"/>
<text font-size="31.93" text-anchor="end" transform="translate(605.2 1369.8) scale(0.9302 1)">2.0</text>
<line x1="617.1" y1="1309.4" x2="623.8" y2="1309.4" stroke="#000" stroke-width="3.7"/>
<text font-size="31.93" text-anchor="end" transform="translate(605.2 1320.3) scale(0.9302 1)">2.5</text>
<line x1="665.2" y1="1556.9" x2="665.2" y2="1563.9" stroke="#000" stroke-width="3.6"/>
<line x1="761.1" y1="1556.9" x2="761.1" y2="1563.9" stroke="#000" stroke-width="3.6"/>
<line x1="856.6" y1="1556.9" x2="856.6" y2="1563.9" stroke="#000" stroke-width="3.6"/>
<line x1="647.8" y1="1457.3" x2="647.8" y2="1473" stroke="#000" stroke-width="2.6"/>
<line x1="642.0" y1="1457.3" x2="653.5999999999999" y2="1457.3" stroke="#000" stroke-width="2.6"/>
<line x1="642.0" y1="1473" x2="653.5999999999999" y2="1473" stroke="#000" stroke-width="2.6"/>
<line x1="683.9" y1="1381.3" x2="683.9" y2="1418.2" stroke="#000" stroke-width="2.6"/>
<line x1="678.1" y1="1381.3" x2="689.6999999999999" y2="1381.3" stroke="#000" stroke-width="2.6"/>
<line x1="678.1" y1="1418.2" x2="689.6999999999999" y2="1418.2" stroke="#000" stroke-width="2.6"/>
<line x1="779.9" y1="1397" x2="779.9" y2="1421.4" stroke="#000" stroke-width="2.6"/>
<line x1="774.1" y1="1397" x2="785.6999999999999" y2="1397" stroke="#000" stroke-width="2.6"/>
<line x1="774.1" y1="1421.4" x2="785.6999999999999" y2="1421.4" stroke="#000" stroke-width="2.6"/>
<line x1="839.2" y1="1455.5" x2="839.2" y2="1473.7" stroke="#000" stroke-width="2.6"/>
<line x1="833.4000000000001" y1="1455.5" x2="845.0" y2="1455.5" stroke="#000" stroke-width="2.6"/>
<line x1="833.4000000000001" y1="1473.7" x2="845.0" y2="1473.7" stroke="#000" stroke-width="2.6"/>
<line x1="874.5" y1="1380.3" x2="874.5" y2="1403.8" stroke="#000" stroke-width="2.6"/>
<line x1="868.7" y1="1380.3" x2="880.3" y2="1380.3" stroke="#000" stroke-width="2.6"/>
<line x1="868.7" y1="1403.8" x2="880.3" y2="1403.8" stroke="#000" stroke-width="2.6"/>
<line x1="947.3" y1="1426" x2="947.3" y2="1484.9" stroke="#000" stroke-width="2.6"/>
<line x1="941.5" y1="1426" x2="953.0999999999999" y2="1426" stroke="#000" stroke-width="2.6"/>
<line x1="941.5" y1="1484.9" x2="953.0999999999999" y2="1484.9" stroke="#000" stroke-width="2.6"/>
<line x1="984.5" y1="1441.1" x2="984.5" y2="1459.8" stroke="#000" stroke-width="2.6"/>
<line x1="978.7" y1="1441.1" x2="990.3" y2="1441.1" stroke="#000" stroke-width="2.6"/>
<line x1="978.7" y1="1459.8" x2="990.3" y2="1459.8" stroke="#000" stroke-width="2.6"/>
<circle cx="640.8" cy="1459.8" r="5.35" fill="#000" />
<circle cx="654.7" cy="1461.3" r="5.35" fill="#000" />
<circle cx="647.8" cy="1473" r="5.35" fill="#000" />
<circle cx="683.9" cy="1381.3" r="5.35" fill="#000" />
<circle cx="676.9" cy="1409.5" r="5.35" fill="#000" />
<circle cx="690.6" cy="1409.5" r="5.35" fill="#000" />
<circle cx="736.7" cy="1473.7" r="5.35" fill="#000" />
<circle cx="744.1" cy="1466.8" r="5.35" fill="#000" />
<circle cx="751.1" cy="1468.7" r="5.35" fill="#000" />
<circle cx="779.9" cy="1397" r="5.35" fill="#000" />
<circle cx="772.5" cy="1419.4" r="5.35" fill="#000" />
<circle cx="786.6" cy="1410.7" r="5.35" fill="#000" />
<circle cx="832.2" cy="1458.8" r="5.35" fill="#000" />
<circle cx="845.9" cy="1458.8" r="5.35" fill="#000" />
<circle cx="839.2" cy="1473.7" r="5.35" fill="#000" />
<circle cx="874.5" cy="1380.3" r="5.35" fill="#000" />
<circle cx="867.6" cy="1401.3" r="5.35" fill="#000" />
<circle cx="882" cy="1396.3" r="5.35" fill="#000" />
<circle cx="947.3" cy="1423.9" r="5.35" fill="#000" />
<circle cx="947.3" cy="1465.5" r="5.35" fill="#000" />
<circle cx="947.3" cy="1479.2" r="5.35" fill="#000" />
<circle cx="976.6" cy="1443.1" r="5.35" fill="#000" />
<circle cx="990.3" cy="1448.6" r="5.35" fill="#000" />
<circle cx="983.4" cy="1459.8" r="5.35" fill="#000" />
<text font-size="32.08" text-anchor="middle" transform="translate(665.2 1598.7) scale(0.9259 1)">–110</text>
<text font-size="32.08" text-anchor="middle" transform="translate(762 1598.7) scale(0.9259 1)">110</text>
<text font-size="32.08" text-anchor="middle" transform="translate(856.6 1598.7) scale(0.9259 1)">400</text>
<text font-size="32.08" text-anchor="middle" transform="translate(965.2 1598.7) scale(0.9259 1)">ade6</text>
<line x1="643.5" y1="1362.7" x2="694.3" y2="1362.7" stroke="#000" stroke-width="4"/>
<text font-size="17.84" text-anchor="middle" transform="translate(676.8 1353) scale(1.0204 1)"><tspan font-style="italic">p</tspan> = 0.0041</text>
<line x1="732.9" y1="1383.3" x2="783.7" y2="1383.3" stroke="#000" stroke-width="4"/>
<text font-size="17.84" text-anchor="middle" transform="translate(760.8 1372.9) scale(1.0204 1)"><tspan font-style="italic">p</tspan> = 0.0008</text>
<line x1="834.7" y1="1364.2" x2="885.3" y2="1364.2" stroke="#000" stroke-width="4"/>
<text font-size="17.84" text-anchor="middle" transform="translate(862.3 1353) scale(1.0204 1)"><tspan font-style="italic">p</tspan> = 0.0009</text>
<text font-size="30.45" text-anchor="end" font-style="italic" transform="translate(999.5 1316.1) scale(0.9524 1)">nup132<tspan font-style="normal" font-size="0.93em">Δ</tspan></text>
<text font-size="30.6" text-anchor="end" transform="translate(997.8 1345.1) scale(0.9346 1)"><tspan font-style="italic">n</tspan> = 3</text>
<rect x="1114.0" y="1463.9" width="23.3" height="93.6" fill="#6c9fd3" stroke="#3c3c3c" stroke-width="0.8" />
<rect x="1149.6" y="1465.2" width="23.4" height="92.3" fill="#f28022" stroke="#3c3c3c" stroke-width="0.8" />
<rect x="1208.7" y="1454.7" width="23.3" height="102.8" fill="#6c9fd3" stroke="#3c3c3c" stroke-width="0.8" />
<rect x="1244.8" y="1463.9" width="22.8" height="93.6" fill="#f28022" stroke="#3c3c3c" stroke-width="0.8" />
<rect x="1303.8" y="1455.4" width="23.6" height="102.1" fill="#6c9fd3" stroke="#3c3c3c" stroke-width="0.8" />
<rect x="1340.1" y="1464.2" width="23.4" height="93.3" fill="#f28022" stroke="#3c3c3c" stroke-width="0.8" />
<rect x="1411.6" y="1454.2" width="23.6" height="103.3" fill="#6c9fd3" stroke="#3c3c3c" stroke-width="0.8" />
<rect x="1447.7" y="1444.7" width="22.9" height="112.8" fill="#f28022" stroke="#3c3c3c" stroke-width="0.8" />
<line x1="1101.8" y1="1311" x2="1101.8" y2="1559.0" stroke="#000" stroke-width="4.2"/>
<line x1="1095.3" y1="1557.6999999999998" x2="1471.2" y2="1557.6999999999998" stroke="#000" stroke-width="4.3"/>
<text font-size="31.93" text-anchor="end" transform="translate(1083.3 1566.8) scale(0.9302 1)">0.0</text>
<line x1="1095.3" y1="1508.05" x2="1101.8" y2="1508.05" stroke="#000" stroke-width="3.7"/>
<text font-size="31.93" text-anchor="end" transform="translate(1083.3 1517.8) scale(0.9302 1)">0.5</text>
<line x1="1095.3" y1="1459.0" x2="1101.8" y2="1459.0" stroke="#000" stroke-width="3.7"/>
<text font-size="31.93" text-anchor="end" transform="translate(1083.3 1468.7) scale(0.9302 1)">1.0</text>
<line x1="1095.3" y1="1409.9499999999998" x2="1101.8" y2="1409.9499999999998" stroke="#000" stroke-width="3.7"/>
<text font-size="31.93" text-anchor="end" transform="translate(1083.3 1419.6) scale(0.9302 1)">1.5</text>
<line x1="1095.3" y1="1360.8999999999999" x2="1101.8" y2="1360.8999999999999" stroke="#000" stroke-width="3.7"/>
<text font-size="31.93" text-anchor="end" transform="translate(1083.3 1370.6) scale(0.9302 1)">2.0</text>
<line x1="1095.3" y1="1311.85" x2="1101.8" y2="1311.85" stroke="#000" stroke-width="3.7"/>
<text font-size="31.93" text-anchor="end" transform="translate(1083.3 1321.5) scale(0.9302 1)">2.5</text>
<line x1="1142.6" y1="1557.1" x2="1142.6" y2="1564.1" stroke="#000" stroke-width="3.6"/>
<line x1="1238.1" y1="1557.1" x2="1238.1" y2="1564.1" stroke="#000" stroke-width="3.6"/>
<line x1="1333.2" y1="1557.1" x2="1333.2" y2="1564.1" stroke="#000" stroke-width="3.6"/>
<line x1="1125.3" y1="1449.3" x2="1125.3" y2="1478" stroke="#000" stroke-width="2.6"/>
<line x1="1119.5" y1="1449.3" x2="1131.1" y2="1449.3" stroke="#000" stroke-width="2.6"/>
<line x1="1119.5" y1="1478" x2="1131.1" y2="1478" stroke="#000" stroke-width="2.6"/>
<line x1="1161.5" y1="1439.4" x2="1161.5" y2="1491.2" stroke="#000" stroke-width="2.6"/>
<line x1="1155.7" y1="1439.4" x2="1167.3" y2="1439.4" stroke="#000" stroke-width="2.6"/>
<line x1="1155.7" y1="1491.2" x2="1167.3" y2="1491.2" stroke="#000" stroke-width="2.6"/>
<line x1="1220.7" y1="1444.3" x2="1220.7" y2="1464.3" stroke="#000" stroke-width="2.6"/>
<line x1="1214.9" y1="1444.3" x2="1226.5" y2="1444.3" stroke="#000" stroke-width="2.6"/>
<line x1="1214.9" y1="1464.3" x2="1226.5" y2="1464.3" stroke="#000" stroke-width="2.6"/>
<line x1="1256.3" y1="1441.9" x2="1256.3" y2="1479.2" stroke="#000" stroke-width="2.6"/>
<line x1="1250.5" y1="1441.9" x2="1262.1" y2="1441.9" stroke="#000" stroke-width="2.6"/>
<line x1="1250.5" y1="1479.2" x2="1262.1" y2="1479.2" stroke="#000" stroke-width="2.6"/>
<line x1="1316.1" y1="1442.4" x2="1316.1" y2="1468.7" stroke="#000" stroke-width="2.6"/>
<line x1="1310.3" y1="1442.4" x2="1321.8999999999999" y2="1442.4" stroke="#000" stroke-width="2.6"/>
<line x1="1310.3" y1="1468.7" x2="1321.8999999999999" y2="1468.7" stroke="#000" stroke-width="2.6"/>
<line x1="1350.9" y1="1440.6" x2="1350.9" y2="1486.2" stroke="#000" stroke-width="2.6"/>
<line x1="1345.1000000000001" y1="1440.6" x2="1356.7" y2="1440.6" stroke="#000" stroke-width="2.6"/>
<line x1="1345.1000000000001" y1="1486.2" x2="1356.7" y2="1486.2" stroke="#000" stroke-width="2.6"/>
<line x1="1423.1" y1="1434.9" x2="1423.1" y2="1474.2" stroke="#000" stroke-width="2.6"/>
<line x1="1417.3" y1="1434.9" x2="1428.8999999999999" y2="1434.9" stroke="#000" stroke-width="2.6"/>
<line x1="1417.3" y1="1474.2" x2="1428.8999999999999" y2="1474.2" stroke="#000" stroke-width="2.6"/>
<line x1="1458.5" y1="1432.4" x2="1458.5" y2="1458" stroke="#000" stroke-width="2.6"/>
<line x1="1452.7" y1="1432.4" x2="1464.3" y2="1432.4" stroke="#000" stroke-width="2.6"/>
<line x1="1452.7" y1="1458" x2="1464.3" y2="1458" stroke="#000" stroke-width="2.6"/>
<circle cx="1118.6" cy="1455.5" r="5.35" fill="#000" />
<circle cx="1132.3" cy="1450.6" r="5.35" fill="#000" />
<circle cx="1125.3" cy="1469.2" r="5.35" fill="#000" />
<circle cx="1125.3" cy="1480.4" r="5.35" fill="#000" />
<circle cx="1160.9" cy="1431.9" r="5.35" fill="#000" />
<circle cx="1154" cy="1463" r="5.35" fill="#000" />
<circle cx="1167.9" cy="1471" r="5.35" fill="#000" />
<circle cx="1160.9" cy="1494.1" r="5.35" fill="#000" />
<circle cx="1227.7" cy="1443.6" r="5.35" fill="#000" />
<circle cx="1213.7" cy="1450.1" r="5.35" fill="#000" />
<circle cx="1213.7" cy="1461" r="5.35" fill="#000" />
<circle cx="1227.7" cy="1459.8" r="5.35" fill="#000" />
<circle cx="1256.3" cy="1441.9" r="5.35" fill="#000" />
<circle cx="1256.3" cy="1452.6" r="5.35" fill="#000" />
<circle cx="1249.3" cy="1478" r="5.35" fill="#000" />
<circle cx="1263" cy="1478" r="5.35" fill="#000" />
<circle cx="1309.1" cy="1445.6" r="5.35" fill="#000" />
<circle cx="1322.3" cy="1444.8" r="5.35" fill="#000" />
<circle cx="1316.1" cy="1457.3" r="5.35" fill="#000" />
<circle cx="1316.1" cy="1468.7" r="5.35" fill="#000" />
<circle cx="1350.9" cy="1429.4" r="5.35" fill="#000" />
<circle cx="1344.5" cy="1478.5" r="5.35" fill="#000" />
<circle cx="1357.7" cy="1473.7" r="5.35" fill="#000" />
<circle cx="1350.9" cy="1471.7" r="5.35" fill="#000" />
<circle cx="1423.1" cy="1434.9" r="5.35" fill="#000" />
<circle cx="1423.1" cy="1448.8" r="5.35" fill="#000" />
<circle cx="1423.1" cy="1458.8" r="5.35" fill="#000" />
<circle cx="1423.1" cy="1474.2" r="5.35" fill="#000" />
<circle cx="1465.5" cy="1431.4" r="5.35" fill="#000" />
<circle cx="1451.8" cy="1440.1" r="5.35" fill="#000" />
<circle cx="1466" cy="1446.8" r="5.35" fill="#000" />
<circle cx="1458.5" cy="1458" r="5.35" fill="#000" />
<text font-size="32.08" text-anchor="middle" transform="translate(1143 1598.7) scale(0.9259 1)">–110</text>
<text font-size="32.08" text-anchor="middle" transform="translate(1238.6 1598.7) scale(0.9259 1)">110</text>
<text font-size="32.08" text-anchor="middle" transform="translate(1332.7 1598.7) scale(0.9259 1)">400</text>
<text font-size="32.08" text-anchor="middle" transform="translate(1440.2 1598.7) scale(0.9259 1)">ade6</text>
<text font-size="30.45" text-anchor="end" font-style="italic" transform="translate(1477 1316.1) scale(0.9524 1)">nup131<tspan font-style="normal" font-size="0.93em">Δ</tspan>132<tspan font-style="normal" font-size="0.93em">Δ</tspan></text>
<text font-size="30.6" text-anchor="end" transform="translate(1468.3 1346.7) scale(0.9346 1)"><tspan font-style="italic">n</tspan> = 4</text>
</svg>
</body></html>
